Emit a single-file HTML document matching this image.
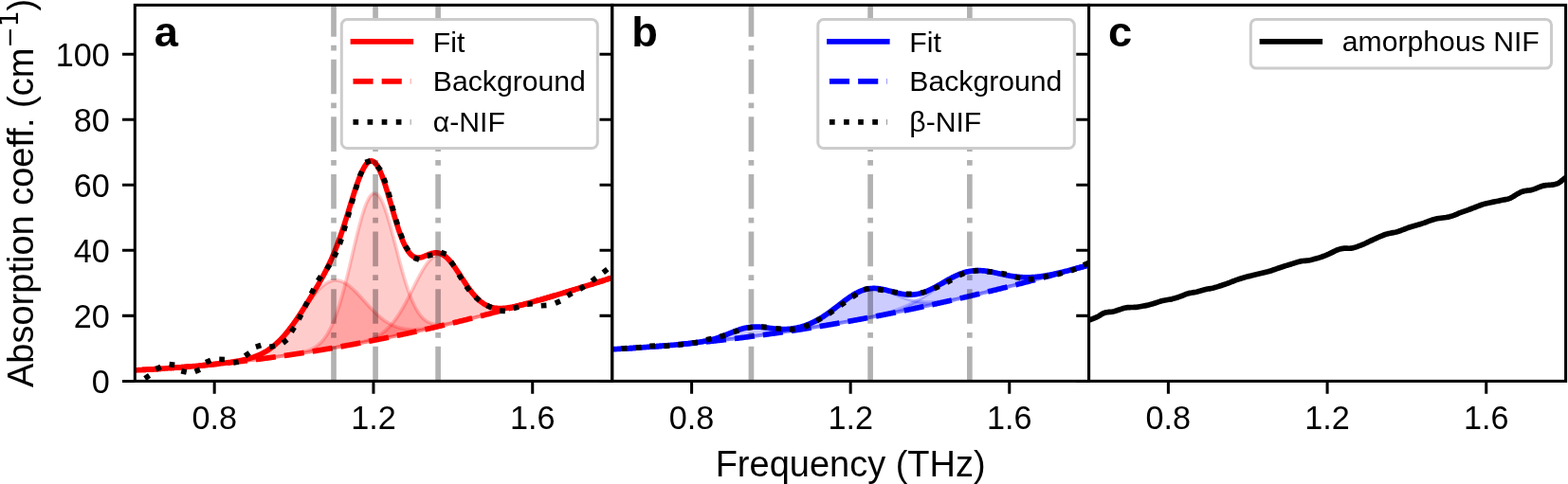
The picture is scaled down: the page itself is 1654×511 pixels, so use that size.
<!DOCTYPE html>
<html><head><meta charset="utf-8"><style>html,body{margin:0;padding:0;background:#fff;overflow:hidden}svg{display:block}</style></head><body>
<svg width="1654" height="511" viewBox="0 0 1654 511">
<rect x="0" y="0" width="1654" height="511" fill="#ffffff"/>
<defs>
<clipPath id="c0"><rect x="142.30" y="5.36" width="503.30" height="397.04"/></clipPath>
<clipPath id="c1"><rect x="645.80" y="5.36" width="502.75" height="397.04"/></clipPath>
<clipPath id="c2"><rect x="1148.55" y="5.36" width="503.05" height="397.04"/></clipPath>
</defs>
<g clip-path="url(#c0)">
<path d="M142.30 390.89 L143.14 390.84 L143.98 390.80 L144.82 390.76 L145.66 390.72 L146.49 390.67 L147.33 390.63 L148.17 390.59 L149.01 390.54 L149.85 390.50 L150.69 390.45 L151.53 390.40 L152.37 390.36 L153.20 390.31 L154.04 390.26 L154.88 390.22 L155.72 390.17 L156.56 390.12 L157.40 390.07 L158.24 390.02 L159.08 389.97 L159.92 389.92 L160.75 389.87 L161.59 389.82 L162.43 389.77 L163.27 389.71 L164.11 389.66 L164.95 389.61 L165.79 389.55 L166.63 389.50 L167.47 389.45 L168.30 389.39 L169.14 389.34 L169.98 389.28 L170.82 389.22 L171.66 389.17 L172.50 389.11 L173.34 389.05 L174.18 389.00 L175.01 388.94 L175.85 388.88 L176.69 388.82 L177.53 388.76 L178.37 388.70 L179.21 388.64 L180.05 388.58 L180.89 388.52 L181.73 388.46 L182.56 388.39 L183.40 388.33 L184.24 388.27 L185.08 388.20 L185.92 388.14 L186.76 388.08 L187.60 388.01 L188.44 387.95 L189.27 387.88 L190.11 387.81 L190.95 387.75 L191.79 387.68 L192.63 387.61 L193.47 387.55 L194.31 387.48 L195.15 387.41 L195.99 387.34 L196.82 387.27 L197.66 387.20 L198.50 387.13 L199.34 387.06 L200.18 386.99 L201.02 386.91 L201.86 386.84 L202.70 386.77 L203.53 386.70 L204.37 386.62 L205.21 386.55 L206.05 386.47 L206.89 386.40 L207.73 386.32 L208.57 386.25 L209.41 386.17 L210.25 386.09 L211.08 386.01 L211.92 385.94 L212.76 385.86 L213.60 385.78 L214.44 385.70 L215.28 385.62 L216.12 385.54 L216.96 385.45 L217.80 385.37 L218.63 385.29 L219.47 385.21 L220.31 385.12 L221.15 385.04 L221.99 384.95 L222.83 384.86 L223.67 384.78 L224.51 384.69 L225.34 384.60 L226.18 384.51 L227.02 384.42 L227.86 384.33 L228.70 384.24 L229.54 384.14 L230.38 384.05 L231.22 383.95 L232.06 383.86 L232.89 383.76 L233.73 383.66 L234.57 383.56 L235.41 383.45 L236.25 383.35 L237.09 383.24 L237.93 383.14 L238.77 383.03 L239.60 382.92 L240.44 382.80 L241.28 382.69 L242.12 382.57 L242.96 382.45 L243.80 382.33 L244.64 382.21 L245.48 382.08 L246.32 381.95 L247.15 381.81 L247.99 381.68 L248.83 381.54 L249.67 381.39 L250.51 381.24 L251.35 381.09 L252.19 380.93 L253.03 380.77 L253.86 380.61 L254.70 380.44 L255.54 380.26 L256.38 380.08 L257.22 379.89 L258.06 379.70 L258.90 379.50 L259.74 379.29 L260.58 379.08 L261.41 378.86 L262.25 378.63 L263.09 378.39 L263.93 378.15 L264.77 377.89 L265.61 377.63 L266.45 377.36 L267.29 377.07 L268.13 376.78 L268.96 376.48 L269.80 376.16 L270.64 375.84 L271.48 375.50 L272.32 375.15 L273.16 374.79 L274.00 374.41 L274.84 374.02 L275.67 373.61 L276.51 373.19 L277.35 372.76 L278.19 372.31 L279.03 371.85 L279.87 371.36 L280.71 370.87 L281.55 370.35 L282.39 369.82 L283.22 369.27 L284.06 368.70 L284.90 368.11 L285.74 367.51 L286.58 366.88 L287.42 366.24 L288.26 365.57 L289.10 364.89 L289.93 364.19 L290.77 363.46 L291.61 362.72 L292.45 361.95 L293.29 361.16 L294.13 360.36 L294.97 359.53 L295.81 358.68 L296.65 357.81 L297.48 356.92 L298.32 356.01 L299.16 355.08 L300.00 354.13 L300.84 353.16 L301.68 352.17 L302.52 351.16 L303.36 350.14 L304.19 349.09 L305.03 348.03 L305.87 346.95 L306.71 345.86 L307.55 344.75 L308.39 343.62 L309.23 342.48 L310.07 341.33 L310.91 340.17 L311.74 338.99 L312.58 337.81 L313.42 336.61 L314.26 335.41 L315.10 334.20 L315.94 332.99 L316.78 331.77 L317.62 330.55 L318.46 329.33 L319.29 328.11 L320.13 326.89 L320.97 325.67 L321.81 324.45 L322.65 323.25 L323.49 322.05 L324.33 320.86 L325.17 319.67 L326.00 318.51 L326.84 317.35 L327.68 316.21 L328.52 315.09 L329.36 313.98 L330.20 312.90 L331.04 311.83 L331.88 310.79 L332.72 309.78 L333.55 308.79 L334.39 307.83 L335.23 306.90 L336.07 305.99 L336.91 305.12 L337.75 304.29 L338.59 303.48 L339.43 302.72 L340.26 301.99 L341.10 301.29 L341.94 300.64 L342.78 300.03 L343.62 299.45 L344.46 298.92 L345.30 298.43 L346.14 297.99 L346.98 297.58 L347.81 297.22 L348.65 296.91 L349.49 296.64 L350.33 296.41 L351.17 296.23 L352.01 296.10 L352.85 296.01 L353.69 295.97 L354.52 295.97 L355.36 296.01 L356.20 296.10 L357.04 296.23 L357.88 296.41 L358.72 296.63 L359.56 296.89 L360.40 297.19 L361.24 297.53 L362.07 297.92 L362.91 298.34 L363.75 298.79 L364.59 299.29 L365.43 299.81 L366.27 300.38 L367.11 300.97 L367.95 301.60 L368.79 302.25 L369.62 302.94 L370.46 303.65 L371.30 304.38 L372.14 305.14 L372.98 305.93 L373.82 306.73 L374.66 307.55 L375.50 308.39 L376.33 309.25 L377.17 310.12 L378.01 311.00 L378.85 311.90 L379.69 312.80 L380.53 313.72 L381.37 314.64 L382.21 315.56 L383.05 316.49 L383.88 317.42 L384.72 318.35 L385.56 319.28 L386.40 320.21 L387.24 321.13 L388.08 322.05 L388.92 322.96 L389.76 323.87 L390.59 324.77 L391.43 325.66 L392.27 326.54 L393.11 327.40 L393.95 328.26 L394.79 329.10 L395.63 329.92 L396.47 330.74 L397.31 331.53 L398.14 332.31 L398.98 333.07 L399.82 333.82 L400.66 334.54 L401.50 335.25 L402.34 335.94 L403.18 336.61 L404.02 337.26 L404.85 337.89 L405.69 338.50 L406.53 339.09 L407.37 339.65 L408.21 340.20 L409.05 340.73 L409.89 341.23 L410.73 341.72 L411.57 342.18 L412.40 342.63 L413.24 343.05 L414.08 343.45 L414.92 343.84 L415.76 344.20 L416.60 344.55 L417.44 344.87 L418.28 345.18 L419.12 345.46 L419.95 345.73 L420.79 345.98 L421.63 346.22 L422.47 346.43 L423.31 346.63 L424.15 346.82 L424.99 346.98 L425.83 347.13 L426.66 347.27 L427.50 347.39 L428.34 347.50 L429.18 347.59 L430.02 347.67 L430.86 347.74 L431.70 347.79 L432.54 347.84 L433.38 347.87 L434.21 347.89 L435.05 347.89 L435.89 347.89 L436.73 347.88 L437.57 347.86 L438.41 347.83 L439.25 347.79 L440.09 347.74 L440.92 347.68 L441.76 347.62 L442.60 347.54 L443.44 347.46 L444.28 347.38 L445.12 347.29 L445.96 347.19 L446.80 347.08 L447.64 346.97 L448.47 346.86 L449.31 346.73 L450.15 346.61 L450.99 346.48 L451.83 346.34 L452.67 346.20 L453.51 346.06 L454.35 345.92 L455.18 345.77 L456.02 345.61 L456.86 345.46 L457.70 345.30 L458.54 345.13 L459.38 344.97 L460.22 344.80 L461.06 344.63 L461.90 344.46 L462.73 344.29 L463.57 344.11 L464.41 343.93 L465.25 343.75 L466.09 343.57 L466.93 343.39 L467.77 343.20 L468.61 343.01 L469.45 342.83 L470.28 342.64 L471.12 342.45 L471.96 342.26 L472.80 342.06 L473.64 341.87 L474.48 341.67 L475.32 341.48 L476.16 341.28 L476.99 341.09 L477.83 340.89 L478.67 340.69 L479.51 340.49 L480.35 340.29 L481.19 340.09 L482.03 339.89 L482.87 339.68 L483.71 339.48 L484.54 339.28 L485.38 339.07 L486.22 338.87 L487.06 338.66 L487.90 338.46 L488.74 338.25 L489.58 338.04 L490.42 337.83 L491.25 337.63 L492.09 337.42 L492.93 337.21 L493.77 337.00 L494.61 336.79 L495.45 336.58 L496.29 336.37 L497.13 336.16 L497.97 335.95 L498.80 335.74 L499.64 335.52 L500.48 335.31 L501.32 335.10 L502.16 334.89 L503.00 334.67 L503.84 334.46 L504.68 334.24 L505.51 334.03 L506.35 333.81 L507.19 333.60 L508.03 333.38 L508.87 333.16 L509.71 332.95 L510.55 332.73 L511.39 332.51 L512.23 332.29 L513.06 332.08 L513.90 331.86 L514.74 331.64 L515.58 331.42 L516.42 331.20 L517.26 330.98 L518.10 330.76 L518.94 330.54 L519.78 330.32 L520.61 330.10 L521.45 329.87 L522.29 329.65 L523.13 329.43 L523.97 329.21 L524.81 328.98 L525.65 328.76 L526.49 328.54 L527.32 328.31 L528.16 328.09 L529.00 327.86 L529.84 327.64 L530.68 327.41 L531.52 327.18 L532.36 326.96 L533.20 326.73 L534.04 326.50 L534.87 326.28 L535.71 326.05 L536.55 325.82 L537.39 325.59 L538.23 325.36 L539.07 325.13 L539.91 324.90 L540.75 324.67 L541.58 324.44 L542.42 324.21 L543.26 323.98 L544.10 323.75 L544.94 323.52 L545.78 323.28 L546.62 323.05 L547.46 322.82 L548.30 322.59 L549.13 322.35 L549.97 322.12 L550.81 321.88 L551.65 321.65 L552.49 321.41 L553.33 321.18 L554.17 320.94 L555.01 320.71 L555.84 320.47 L556.68 320.23 L557.52 320.00 L558.36 319.76 L559.20 319.52 L560.04 319.28 L560.88 319.05 L561.72 318.81 L562.56 318.57 L563.39 318.33 L564.23 318.09 L565.07 317.85 L565.91 317.61 L566.75 317.37 L567.59 317.13 L568.43 316.88 L569.27 316.64 L570.11 316.40 L570.94 316.16 L571.78 315.91 L572.62 315.67 L573.46 315.43 L574.30 315.18 L575.14 314.94 L575.98 314.69 L576.82 314.45 L577.65 314.20 L578.49 313.96 L579.33 313.71 L580.17 313.47 L581.01 313.22 L581.85 312.97 L582.69 312.72 L583.53 312.48 L584.37 312.23 L585.20 311.98 L586.04 311.73 L586.88 311.48 L587.72 311.23 L588.56 310.98 L589.40 310.73 L590.24 310.48 L591.08 310.23 L591.91 309.98 L592.75 309.73 L593.59 309.48 L594.43 309.22 L595.27 308.97 L596.11 308.72 L596.95 308.47 L597.79 308.21 L598.63 307.96 L599.46 307.70 L600.30 307.45 L601.14 307.19 L601.98 306.94 L602.82 306.68 L603.66 306.43 L604.50 306.17 L605.34 305.92 L606.17 305.66 L607.01 305.40 L607.85 305.14 L608.69 304.89 L609.53 304.63 L610.37 304.37 L611.21 304.11 L612.05 303.85 L612.89 303.59 L613.72 303.33 L614.56 303.07 L615.40 302.81 L616.24 302.55 L617.08 302.29 L617.92 302.03 L618.76 301.76 L619.60 301.50 L620.44 301.24 L621.27 300.98 L622.11 300.71 L622.95 300.45 L623.79 300.18 L624.63 299.92 L625.47 299.66 L626.31 299.39 L627.15 299.13 L627.98 298.86 L628.82 298.59 L629.66 298.33 L630.50 298.06 L631.34 297.79 L632.18 297.53 L633.02 297.26 L633.86 296.99 L634.70 296.72 L635.53 296.45 L636.37 296.19 L637.21 295.92 L638.05 295.65 L638.89 295.38 L639.73 295.11 L640.57 294.84 L641.41 294.56 L642.24 294.29 L643.08 294.02 L643.92 293.75 L644.76 293.48 L645.60 293.21 L645.60 293.21 L644.76 293.48 L643.92 293.75 L643.08 294.02 L642.24 294.29 L641.41 294.56 L640.57 294.84 L639.73 295.11 L638.89 295.38 L638.05 295.65 L637.21 295.92 L636.37 296.19 L635.53 296.45 L634.70 296.72 L633.86 296.99 L633.02 297.26 L632.18 297.53 L631.34 297.79 L630.50 298.06 L629.66 298.33 L628.82 298.59 L627.98 298.86 L627.15 299.13 L626.31 299.39 L625.47 299.66 L624.63 299.92 L623.79 300.18 L622.95 300.45 L622.11 300.71 L621.27 300.98 L620.44 301.24 L619.60 301.50 L618.76 301.76 L617.92 302.03 L617.08 302.29 L616.24 302.55 L615.40 302.81 L614.56 303.07 L613.72 303.33 L612.89 303.59 L612.05 303.85 L611.21 304.11 L610.37 304.37 L609.53 304.63 L608.69 304.89 L607.85 305.14 L607.01 305.40 L606.17 305.66 L605.34 305.92 L604.50 306.17 L603.66 306.43 L602.82 306.68 L601.98 306.94 L601.14 307.19 L600.30 307.45 L599.46 307.70 L598.63 307.96 L597.79 308.21 L596.95 308.47 L596.11 308.72 L595.27 308.97 L594.43 309.22 L593.59 309.48 L592.75 309.73 L591.91 309.98 L591.08 310.23 L590.24 310.48 L589.40 310.73 L588.56 310.98 L587.72 311.23 L586.88 311.48 L586.04 311.73 L585.20 311.98 L584.37 312.23 L583.53 312.48 L582.69 312.72 L581.85 312.97 L581.01 313.22 L580.17 313.47 L579.33 313.71 L578.49 313.96 L577.65 314.20 L576.82 314.45 L575.98 314.69 L575.14 314.94 L574.30 315.18 L573.46 315.43 L572.62 315.67 L571.78 315.91 L570.94 316.16 L570.11 316.40 L569.27 316.64 L568.43 316.88 L567.59 317.13 L566.75 317.37 L565.91 317.61 L565.07 317.85 L564.23 318.09 L563.39 318.33 L562.56 318.57 L561.72 318.81 L560.88 319.05 L560.04 319.28 L559.20 319.52 L558.36 319.76 L557.52 320.00 L556.68 320.23 L555.84 320.47 L555.01 320.71 L554.17 320.94 L553.33 321.18 L552.49 321.41 L551.65 321.65 L550.81 321.88 L549.97 322.12 L549.13 322.35 L548.30 322.59 L547.46 322.82 L546.62 323.05 L545.78 323.28 L544.94 323.52 L544.10 323.75 L543.26 323.98 L542.42 324.21 L541.58 324.44 L540.75 324.67 L539.91 324.90 L539.07 325.13 L538.23 325.36 L537.39 325.59 L536.55 325.82 L535.71 326.05 L534.87 326.28 L534.04 326.50 L533.20 326.73 L532.36 326.96 L531.52 327.18 L530.68 327.41 L529.84 327.64 L529.00 327.86 L528.16 328.09 L527.32 328.31 L526.49 328.54 L525.65 328.76 L524.81 328.98 L523.97 329.21 L523.13 329.43 L522.29 329.65 L521.45 329.87 L520.61 330.10 L519.78 330.32 L518.94 330.54 L518.10 330.76 L517.26 330.98 L516.42 331.20 L515.58 331.42 L514.74 331.64 L513.90 331.86 L513.06 332.08 L512.23 332.30 L511.39 332.51 L510.55 332.73 L509.71 332.95 L508.87 333.17 L508.03 333.38 L507.19 333.60 L506.35 333.81 L505.51 334.03 L504.68 334.24 L503.84 334.46 L503.00 334.67 L502.16 334.89 L501.32 335.10 L500.48 335.31 L499.64 335.53 L498.80 335.74 L497.97 335.95 L497.13 336.16 L496.29 336.38 L495.45 336.59 L494.61 336.80 L493.77 337.01 L492.93 337.22 L492.09 337.43 L491.25 337.64 L490.42 337.85 L489.58 338.05 L488.74 338.26 L487.90 338.47 L487.06 338.68 L486.22 338.88 L485.38 339.09 L484.54 339.30 L483.71 339.50 L482.87 339.71 L482.03 339.91 L481.19 340.12 L480.35 340.32 L479.51 340.53 L478.67 340.73 L477.83 340.94 L476.99 341.14 L476.16 341.34 L475.32 341.54 L474.48 341.75 L473.64 341.95 L472.80 342.15 L471.96 342.35 L471.12 342.55 L470.28 342.75 L469.45 342.95 L468.61 343.15 L467.77 343.35 L466.93 343.55 L466.09 343.75 L465.25 343.94 L464.41 344.14 L463.57 344.34 L462.73 344.54 L461.90 344.73 L461.06 344.93 L460.22 345.12 L459.38 345.32 L458.54 345.51 L457.70 345.71 L456.86 345.90 L456.02 346.10 L455.18 346.29 L454.35 346.48 L453.51 346.68 L452.67 346.87 L451.83 347.06 L450.99 347.25 L450.15 347.44 L449.31 347.63 L448.47 347.83 L447.64 348.02 L446.80 348.21 L445.96 348.39 L445.12 348.58 L444.28 348.77 L443.44 348.96 L442.60 349.15 L441.76 349.34 L440.92 349.52 L440.09 349.71 L439.25 349.90 L438.41 350.08 L437.57 350.27 L436.73 350.45 L435.89 350.64 L435.05 350.82 L434.21 351.01 L433.38 351.19 L432.54 351.37 L431.70 351.56 L430.86 351.74 L430.02 351.92 L429.18 352.10 L428.34 352.29 L427.50 352.47 L426.66 352.65 L425.83 352.83 L424.99 353.01 L424.15 353.19 L423.31 353.37 L422.47 353.55 L421.63 353.72 L420.79 353.90 L419.95 354.08 L419.12 354.26 L418.28 354.43 L417.44 354.61 L416.60 354.79 L415.76 354.96 L414.92 355.14 L414.08 355.31 L413.24 355.49 L412.40 355.66 L411.57 355.84 L410.73 356.01 L409.89 356.18 L409.05 356.36 L408.21 356.53 L407.37 356.70 L406.53 356.87 L405.69 357.04 L404.85 357.21 L404.02 357.38 L403.18 357.55 L402.34 357.72 L401.50 357.89 L400.66 358.06 L399.82 358.23 L398.98 358.40 L398.14 358.57 L397.31 358.73 L396.47 358.90 L395.63 359.07 L394.79 359.23 L393.95 359.40 L393.11 359.57 L392.27 359.73 L391.43 359.90 L390.59 360.06 L389.76 360.22 L388.92 360.39 L388.08 360.55 L387.24 360.71 L386.40 360.88 L385.56 361.04 L384.72 361.20 L383.88 361.36 L383.05 361.52 L382.21 361.68 L381.37 361.84 L380.53 362.00 L379.69 362.16 L378.85 362.32 L378.01 362.48 L377.17 362.64 L376.33 362.79 L375.50 362.95 L374.66 363.11 L373.82 363.26 L372.98 363.42 L372.14 363.58 L371.30 363.73 L370.46 363.89 L369.62 364.04 L368.79 364.20 L367.95 364.35 L367.11 364.50 L366.27 364.66 L365.43 364.81 L364.59 364.96 L363.75 365.11 L362.91 365.26 L362.07 365.42 L361.24 365.57 L360.40 365.72 L359.56 365.87 L358.72 366.02 L357.88 366.17 L357.04 366.31 L356.20 366.46 L355.36 366.61 L354.52 366.76 L353.69 366.90 L352.85 367.05 L352.01 367.20 L351.17 367.34 L350.33 367.49 L349.49 367.63 L348.65 367.78 L347.81 367.92 L346.98 368.07 L346.14 368.21 L345.30 368.35 L344.46 368.50 L343.62 368.64 L342.78 368.78 L341.94 368.92 L341.10 369.06 L340.26 369.21 L339.43 369.35 L338.59 369.49 L337.75 369.63 L336.91 369.76 L336.07 369.90 L335.23 370.04 L334.39 370.18 L333.55 370.32 L332.72 370.45 L331.88 370.59 L331.04 370.73 L330.20 370.86 L329.36 371.00 L328.52 371.13 L327.68 371.27 L326.84 371.40 L326.00 371.54 L325.17 371.67 L324.33 371.80 L323.49 371.94 L322.65 372.07 L321.81 372.20 L320.97 372.33 L320.13 372.46 L319.29 372.60 L318.46 372.73 L317.62 372.86 L316.78 372.99 L315.94 373.11 L315.10 373.24 L314.26 373.37 L313.42 373.50 L312.58 373.63 L311.74 373.75 L310.91 373.88 L310.07 374.01 L309.23 374.13 L308.39 374.26 L307.55 374.38 L306.71 374.51 L305.87 374.63 L305.03 374.76 L304.19 374.88 L303.36 375.00 L302.52 375.13 L301.68 375.25 L300.84 375.37 L300.00 375.49 L299.16 375.61 L298.32 375.73 L297.48 375.85 L296.65 375.97 L295.81 376.09 L294.97 376.21 L294.13 376.33 L293.29 376.45 L292.45 376.57 L291.61 376.68 L290.77 376.80 L289.93 376.92 L289.10 377.03 L288.26 377.15 L287.42 377.27 L286.58 377.38 L285.74 377.50 L284.90 377.61 L284.06 377.72 L283.22 377.84 L282.39 377.95 L281.55 378.06 L280.71 378.17 L279.87 378.29 L279.03 378.40 L278.19 378.51 L277.35 378.62 L276.51 378.73 L275.67 378.84 L274.84 378.95 L274.00 379.06 L273.16 379.16 L272.32 379.27 L271.48 379.38 L270.64 379.49 L269.80 379.59 L268.96 379.70 L268.13 379.81 L267.29 379.91 L266.45 380.02 L265.61 380.12 L264.77 380.22 L263.93 380.33 L263.09 380.43 L262.25 380.53 L261.41 380.64 L260.58 380.74 L259.74 380.84 L258.90 380.94 L258.06 381.04 L257.22 381.14 L256.38 381.24 L255.54 381.34 L254.70 381.44 L253.86 381.54 L253.03 381.64 L252.19 381.74 L251.35 381.84 L250.51 381.93 L249.67 382.03 L248.83 382.13 L247.99 382.22 L247.15 382.32 L246.32 382.41 L245.48 382.51 L244.64 382.60 L243.80 382.69 L242.96 382.79 L242.12 382.88 L241.28 382.97 L240.44 383.07 L239.60 383.16 L238.77 383.25 L237.93 383.34 L237.09 383.43 L236.25 383.52 L235.41 383.61 L234.57 383.70 L233.73 383.79 L232.89 383.88 L232.06 383.96 L231.22 384.05 L230.38 384.14 L229.54 384.22 L228.70 384.31 L227.86 384.40 L227.02 384.48 L226.18 384.57 L225.34 384.65 L224.51 384.74 L223.67 384.82 L222.83 384.90 L221.99 384.99 L221.15 385.07 L220.31 385.15 L219.47 385.23 L218.63 385.31 L217.80 385.39 L216.96 385.47 L216.12 385.55 L215.28 385.63 L214.44 385.71 L213.60 385.79 L212.76 385.87 L211.92 385.95 L211.08 386.02 L210.25 386.10 L209.41 386.18 L208.57 386.25 L207.73 386.33 L206.89 386.40 L206.05 386.48 L205.21 386.55 L204.37 386.63 L203.53 386.70 L202.70 386.77 L201.86 386.84 L201.02 386.92 L200.18 386.99 L199.34 387.06 L198.50 387.13 L197.66 387.20 L196.82 387.27 L195.99 387.34 L195.15 387.41 L194.31 387.48 L193.47 387.55 L192.63 387.61 L191.79 387.68 L190.95 387.75 L190.11 387.81 L189.27 387.88 L188.44 387.95 L187.60 388.01 L186.76 388.08 L185.92 388.14 L185.08 388.20 L184.24 388.27 L183.40 388.33 L182.56 388.39 L181.73 388.46 L180.89 388.52 L180.05 388.58 L179.21 388.64 L178.37 388.70 L177.53 388.76 L176.69 388.82 L175.85 388.88 L175.01 388.94 L174.18 389.00 L173.34 389.05 L172.50 389.11 L171.66 389.17 L170.82 389.22 L169.98 389.28 L169.14 389.34 L168.30 389.39 L167.47 389.45 L166.63 389.50 L165.79 389.55 L164.95 389.61 L164.11 389.66 L163.27 389.71 L162.43 389.77 L161.59 389.82 L160.75 389.87 L159.92 389.92 L159.08 389.97 L158.24 390.02 L157.40 390.07 L156.56 390.12 L155.72 390.17 L154.88 390.22 L154.04 390.26 L153.20 390.31 L152.37 390.36 L151.53 390.40 L150.69 390.45 L149.85 390.50 L149.01 390.54 L148.17 390.59 L147.33 390.63 L146.49 390.67 L145.66 390.72 L144.82 390.76 L143.98 390.80 L143.14 390.84 L142.30 390.89 Z" fill="#ff0000" fill-opacity="0.2" stroke="#ff0000" stroke-opacity="0.2" stroke-width="3.8" stroke-linejoin="round"/>
<path d="M142.30 390.89 L143.14 390.84 L143.98 390.80 L144.82 390.76 L145.66 390.72 L146.49 390.67 L147.33 390.63 L148.17 390.59 L149.01 390.54 L149.85 390.50 L150.69 390.45 L151.53 390.40 L152.37 390.36 L153.20 390.31 L154.04 390.26 L154.88 390.22 L155.72 390.17 L156.56 390.12 L157.40 390.07 L158.24 390.02 L159.08 389.97 L159.92 389.92 L160.75 389.87 L161.59 389.82 L162.43 389.77 L163.27 389.71 L164.11 389.66 L164.95 389.61 L165.79 389.55 L166.63 389.50 L167.47 389.45 L168.30 389.39 L169.14 389.34 L169.98 389.28 L170.82 389.22 L171.66 389.17 L172.50 389.11 L173.34 389.05 L174.18 389.00 L175.01 388.94 L175.85 388.88 L176.69 388.82 L177.53 388.76 L178.37 388.70 L179.21 388.64 L180.05 388.58 L180.89 388.52 L181.73 388.46 L182.56 388.39 L183.40 388.33 L184.24 388.27 L185.08 388.20 L185.92 388.14 L186.76 388.08 L187.60 388.01 L188.44 387.95 L189.27 387.88 L190.11 387.81 L190.95 387.75 L191.79 387.68 L192.63 387.61 L193.47 387.55 L194.31 387.48 L195.15 387.41 L195.99 387.34 L196.82 387.27 L197.66 387.20 L198.50 387.13 L199.34 387.06 L200.18 386.99 L201.02 386.92 L201.86 386.84 L202.70 386.77 L203.53 386.70 L204.37 386.63 L205.21 386.55 L206.05 386.48 L206.89 386.40 L207.73 386.33 L208.57 386.25 L209.41 386.18 L210.25 386.10 L211.08 386.02 L211.92 385.95 L212.76 385.87 L213.60 385.79 L214.44 385.71 L215.28 385.63 L216.12 385.55 L216.96 385.47 L217.80 385.39 L218.63 385.31 L219.47 385.23 L220.31 385.15 L221.15 385.07 L221.99 384.99 L222.83 384.90 L223.67 384.82 L224.51 384.74 L225.34 384.65 L226.18 384.57 L227.02 384.48 L227.86 384.40 L228.70 384.31 L229.54 384.22 L230.38 384.14 L231.22 384.05 L232.06 383.96 L232.89 383.88 L233.73 383.79 L234.57 383.70 L235.41 383.61 L236.25 383.52 L237.09 383.43 L237.93 383.34 L238.77 383.25 L239.60 383.16 L240.44 383.07 L241.28 382.97 L242.12 382.88 L242.96 382.79 L243.80 382.69 L244.64 382.60 L245.48 382.51 L246.32 382.41 L247.15 382.32 L247.99 382.22 L248.83 382.13 L249.67 382.03 L250.51 381.93 L251.35 381.84 L252.19 381.74 L253.03 381.64 L253.86 381.54 L254.70 381.44 L255.54 381.34 L256.38 381.24 L257.22 381.14 L258.06 381.04 L258.90 380.94 L259.74 380.84 L260.58 380.74 L261.41 380.64 L262.25 380.53 L263.09 380.43 L263.93 380.33 L264.77 380.22 L265.61 380.12 L266.45 380.02 L267.29 379.91 L268.13 379.81 L268.96 379.70 L269.80 379.59 L270.64 379.49 L271.48 379.38 L272.32 379.27 L273.16 379.16 L274.00 379.06 L274.84 378.95 L275.67 378.84 L276.51 378.73 L277.35 378.62 L278.19 378.51 L279.03 378.40 L279.87 378.28 L280.71 378.17 L281.55 378.06 L282.39 377.95 L283.22 377.84 L284.06 377.72 L284.90 377.61 L285.74 377.49 L286.58 377.38 L287.42 377.26 L288.26 377.15 L289.10 377.03 L289.93 376.91 L290.77 376.80 L291.61 376.68 L292.45 376.56 L293.29 376.44 L294.13 376.32 L294.97 376.20 L295.81 376.08 L296.65 375.96 L297.48 375.83 L298.32 375.71 L299.16 375.59 L300.00 375.46 L300.84 375.33 L301.68 375.20 L302.52 375.08 L303.36 374.94 L304.19 374.81 L305.03 374.68 L305.87 374.54 L306.71 374.40 L307.55 374.26 L308.39 374.12 L309.23 373.98 L310.07 373.83 L310.91 373.67 L311.74 373.52 L312.58 373.36 L313.42 373.19 L314.26 373.02 L315.10 372.85 L315.94 372.67 L316.78 372.48 L317.62 372.28 L318.46 372.08 L319.29 371.86 L320.13 371.64 L320.97 371.41 L321.81 371.16 L322.65 370.90 L323.49 370.63 L324.33 370.34 L325.17 370.04 L326.00 369.71 L326.84 369.37 L327.68 369.01 L328.52 368.62 L329.36 368.21 L330.20 367.77 L331.04 367.30 L331.88 366.81 L332.72 366.28 L333.55 365.71 L334.39 365.11 L335.23 364.47 L336.07 363.78 L336.91 363.05 L337.75 362.28 L338.59 361.45 L339.43 360.57 L340.26 359.63 L341.10 358.63 L341.94 357.58 L342.78 356.46 L343.62 355.27 L344.46 354.01 L345.30 352.68 L346.14 351.27 L346.98 349.78 L347.81 348.22 L348.65 346.57 L349.49 344.84 L350.33 343.02 L351.17 341.12 L352.01 339.12 L352.85 337.03 L353.69 334.85 L354.52 332.58 L355.36 330.22 L356.20 327.76 L357.04 325.21 L357.88 322.57 L358.72 319.84 L359.56 317.02 L360.40 314.12 L361.24 311.13 L362.07 308.06 L362.91 304.92 L363.75 301.71 L364.59 298.42 L365.43 295.08 L366.27 291.68 L367.11 288.23 L367.95 284.74 L368.79 281.21 L369.62 277.65 L370.46 274.08 L371.30 270.49 L372.14 266.89 L372.98 263.31 L373.82 259.74 L374.66 256.20 L375.50 252.69 L376.33 249.23 L377.17 245.82 L378.01 242.49 L378.85 239.23 L379.69 236.05 L380.53 232.98 L381.37 230.01 L382.21 227.16 L383.05 224.44 L383.88 221.85 L384.72 219.42 L385.56 217.13 L386.40 215.01 L387.24 213.06 L388.08 211.28 L388.92 209.69 L389.76 208.28 L390.59 207.07 L391.43 206.06 L392.27 205.25 L393.11 204.64 L393.95 204.24 L394.79 204.04 L395.63 204.05 L396.47 204.27 L397.31 204.68 L398.14 205.31 L398.98 206.13 L399.82 207.14 L400.66 208.34 L401.50 209.73 L402.34 211.30 L403.18 213.04 L404.02 214.95 L404.85 217.01 L405.69 219.22 L406.53 221.57 L407.37 224.05 L408.21 226.65 L409.05 229.36 L409.89 232.17 L410.73 235.08 L411.57 238.06 L412.40 241.12 L413.24 244.23 L414.08 247.39 L414.92 250.59 L415.76 253.83 L416.60 257.07 L417.44 260.33 L418.28 263.59 L419.12 266.84 L419.95 270.07 L420.79 273.28 L421.63 276.45 L422.47 279.59 L423.31 282.67 L424.15 285.70 L424.99 288.67 L425.83 291.57 L426.66 294.41 L427.50 297.16 L428.34 299.84 L429.18 302.44 L430.02 304.95 L430.86 307.38 L431.70 309.71 L432.54 311.96 L433.38 314.11 L434.21 316.17 L435.05 318.14 L435.89 320.02 L436.73 321.80 L437.57 323.49 L438.41 325.10 L439.25 326.61 L440.09 328.04 L440.92 329.38 L441.76 330.64 L442.60 331.81 L443.44 332.91 L444.28 333.93 L445.12 334.88 L445.96 335.76 L446.80 336.57 L447.64 337.32 L448.47 338.00 L449.31 338.62 L450.15 339.19 L450.99 339.70 L451.83 340.16 L452.67 340.58 L453.51 340.94 L454.35 341.27 L455.18 341.55 L456.02 341.79 L456.86 342.00 L457.70 342.18 L458.54 342.32 L459.38 342.44 L460.22 342.53 L461.06 342.59 L461.90 342.63 L462.73 342.65 L463.57 342.65 L464.41 342.63 L465.25 342.59 L466.09 342.54 L466.93 342.47 L467.77 342.39 L468.61 342.30 L469.45 342.19 L470.28 342.08 L471.12 341.95 L471.96 341.82 L472.80 341.68 L473.64 341.54 L474.48 341.38 L475.32 341.22 L476.16 341.06 L476.99 340.89 L477.83 340.72 L478.67 340.54 L479.51 340.36 L480.35 340.18 L481.19 339.99 L482.03 339.81 L482.87 339.61 L483.71 339.42 L484.54 339.23 L485.38 339.03 L486.22 338.83 L487.06 338.63 L487.90 338.43 L488.74 338.23 L489.58 338.02 L490.42 337.82 L491.25 337.61 L492.09 337.41 L492.93 337.20 L493.77 336.99 L494.61 336.79 L495.45 336.58 L496.29 336.37 L497.13 336.16 L497.97 335.95 L498.80 335.73 L499.64 335.52 L500.48 335.31 L501.32 335.10 L502.16 334.88 L503.00 334.67 L503.84 334.46 L504.68 334.24 L505.51 334.03 L506.35 333.81 L507.19 333.60 L508.03 333.38 L508.87 333.16 L509.71 332.95 L510.55 332.73 L511.39 332.51 L512.23 332.30 L513.06 332.08 L513.90 331.86 L514.74 331.64 L515.58 331.42 L516.42 331.20 L517.26 330.98 L518.10 330.76 L518.94 330.54 L519.78 330.32 L520.61 330.10 L521.45 329.87 L522.29 329.65 L523.13 329.43 L523.97 329.21 L524.81 328.98 L525.65 328.76 L526.49 328.54 L527.32 328.31 L528.16 328.09 L529.00 327.86 L529.84 327.64 L530.68 327.41 L531.52 327.18 L532.36 326.96 L533.20 326.73 L534.04 326.50 L534.87 326.28 L535.71 326.05 L536.55 325.82 L537.39 325.59 L538.23 325.36 L539.07 325.13 L539.91 324.90 L540.75 324.67 L541.58 324.44 L542.42 324.21 L543.26 323.98 L544.10 323.75 L544.94 323.52 L545.78 323.28 L546.62 323.05 L547.46 322.82 L548.30 322.59 L549.13 322.35 L549.97 322.12 L550.81 321.88 L551.65 321.65 L552.49 321.41 L553.33 321.18 L554.17 320.94 L555.01 320.71 L555.84 320.47 L556.68 320.23 L557.52 320.00 L558.36 319.76 L559.20 319.52 L560.04 319.28 L560.88 319.05 L561.72 318.81 L562.56 318.57 L563.39 318.33 L564.23 318.09 L565.07 317.85 L565.91 317.61 L566.75 317.37 L567.59 317.13 L568.43 316.88 L569.27 316.64 L570.11 316.40 L570.94 316.16 L571.78 315.91 L572.62 315.67 L573.46 315.43 L574.30 315.18 L575.14 314.94 L575.98 314.69 L576.82 314.45 L577.65 314.20 L578.49 313.96 L579.33 313.71 L580.17 313.47 L581.01 313.22 L581.85 312.97 L582.69 312.72 L583.53 312.48 L584.37 312.23 L585.20 311.98 L586.04 311.73 L586.88 311.48 L587.72 311.23 L588.56 310.98 L589.40 310.73 L590.24 310.48 L591.08 310.23 L591.91 309.98 L592.75 309.73 L593.59 309.48 L594.43 309.22 L595.27 308.97 L596.11 308.72 L596.95 308.47 L597.79 308.21 L598.63 307.96 L599.46 307.70 L600.30 307.45 L601.14 307.19 L601.98 306.94 L602.82 306.68 L603.66 306.43 L604.50 306.17 L605.34 305.92 L606.17 305.66 L607.01 305.40 L607.85 305.14 L608.69 304.89 L609.53 304.63 L610.37 304.37 L611.21 304.11 L612.05 303.85 L612.89 303.59 L613.72 303.33 L614.56 303.07 L615.40 302.81 L616.24 302.55 L617.08 302.29 L617.92 302.03 L618.76 301.76 L619.60 301.50 L620.44 301.24 L621.27 300.98 L622.11 300.71 L622.95 300.45 L623.79 300.18 L624.63 299.92 L625.47 299.66 L626.31 299.39 L627.15 299.13 L627.98 298.86 L628.82 298.59 L629.66 298.33 L630.50 298.06 L631.34 297.79 L632.18 297.53 L633.02 297.26 L633.86 296.99 L634.70 296.72 L635.53 296.45 L636.37 296.19 L637.21 295.92 L638.05 295.65 L638.89 295.38 L639.73 295.11 L640.57 294.84 L641.41 294.56 L642.24 294.29 L643.08 294.02 L643.92 293.75 L644.76 293.48 L645.60 293.21 L645.60 293.21 L644.76 293.48 L643.92 293.75 L643.08 294.02 L642.24 294.29 L641.41 294.56 L640.57 294.84 L639.73 295.11 L638.89 295.38 L638.05 295.65 L637.21 295.92 L636.37 296.19 L635.53 296.45 L634.70 296.72 L633.86 296.99 L633.02 297.26 L632.18 297.53 L631.34 297.79 L630.50 298.06 L629.66 298.33 L628.82 298.59 L627.98 298.86 L627.15 299.13 L626.31 299.39 L625.47 299.66 L624.63 299.92 L623.79 300.18 L622.95 300.45 L622.11 300.71 L621.27 300.98 L620.44 301.24 L619.60 301.50 L618.76 301.76 L617.92 302.03 L617.08 302.29 L616.24 302.55 L615.40 302.81 L614.56 303.07 L613.72 303.33 L612.89 303.59 L612.05 303.85 L611.21 304.11 L610.37 304.37 L609.53 304.63 L608.69 304.89 L607.85 305.14 L607.01 305.40 L606.17 305.66 L605.34 305.92 L604.50 306.17 L603.66 306.43 L602.82 306.68 L601.98 306.94 L601.14 307.19 L600.30 307.45 L599.46 307.70 L598.63 307.96 L597.79 308.21 L596.95 308.47 L596.11 308.72 L595.27 308.97 L594.43 309.22 L593.59 309.48 L592.75 309.73 L591.91 309.98 L591.08 310.23 L590.24 310.48 L589.40 310.73 L588.56 310.98 L587.72 311.23 L586.88 311.48 L586.04 311.73 L585.20 311.98 L584.37 312.23 L583.53 312.48 L582.69 312.72 L581.85 312.97 L581.01 313.22 L580.17 313.47 L579.33 313.71 L578.49 313.96 L577.65 314.20 L576.82 314.45 L575.98 314.69 L575.14 314.94 L574.30 315.18 L573.46 315.43 L572.62 315.67 L571.78 315.91 L570.94 316.16 L570.11 316.40 L569.27 316.64 L568.43 316.88 L567.59 317.13 L566.75 317.37 L565.91 317.61 L565.07 317.85 L564.23 318.09 L563.39 318.33 L562.56 318.57 L561.72 318.81 L560.88 319.05 L560.04 319.28 L559.20 319.52 L558.36 319.76 L557.52 320.00 L556.68 320.23 L555.84 320.47 L555.01 320.71 L554.17 320.94 L553.33 321.18 L552.49 321.41 L551.65 321.65 L550.81 321.88 L549.97 322.12 L549.13 322.35 L548.30 322.59 L547.46 322.82 L546.62 323.05 L545.78 323.28 L544.94 323.52 L544.10 323.75 L543.26 323.98 L542.42 324.21 L541.58 324.44 L540.75 324.67 L539.91 324.90 L539.07 325.13 L538.23 325.36 L537.39 325.59 L536.55 325.82 L535.71 326.05 L534.87 326.28 L534.04 326.50 L533.20 326.73 L532.36 326.96 L531.52 327.18 L530.68 327.41 L529.84 327.64 L529.00 327.86 L528.16 328.09 L527.32 328.31 L526.49 328.54 L525.65 328.76 L524.81 328.98 L523.97 329.21 L523.13 329.43 L522.29 329.65 L521.45 329.87 L520.61 330.10 L519.78 330.32 L518.94 330.54 L518.10 330.76 L517.26 330.98 L516.42 331.20 L515.58 331.42 L514.74 331.64 L513.90 331.86 L513.06 332.08 L512.23 332.30 L511.39 332.51 L510.55 332.73 L509.71 332.95 L508.87 333.17 L508.03 333.38 L507.19 333.60 L506.35 333.81 L505.51 334.03 L504.68 334.24 L503.84 334.46 L503.00 334.67 L502.16 334.89 L501.32 335.10 L500.48 335.31 L499.64 335.53 L498.80 335.74 L497.97 335.95 L497.13 336.16 L496.29 336.38 L495.45 336.59 L494.61 336.80 L493.77 337.01 L492.93 337.22 L492.09 337.43 L491.25 337.64 L490.42 337.85 L489.58 338.05 L488.74 338.26 L487.90 338.47 L487.06 338.68 L486.22 338.88 L485.38 339.09 L484.54 339.30 L483.71 339.50 L482.87 339.71 L482.03 339.91 L481.19 340.12 L480.35 340.32 L479.51 340.53 L478.67 340.73 L477.83 340.94 L476.99 341.14 L476.16 341.34 L475.32 341.54 L474.48 341.75 L473.64 341.95 L472.80 342.15 L471.96 342.35 L471.12 342.55 L470.28 342.75 L469.45 342.95 L468.61 343.15 L467.77 343.35 L466.93 343.55 L466.09 343.75 L465.25 343.94 L464.41 344.14 L463.57 344.34 L462.73 344.54 L461.90 344.73 L461.06 344.93 L460.22 345.12 L459.38 345.32 L458.54 345.51 L457.70 345.71 L456.86 345.90 L456.02 346.10 L455.18 346.29 L454.35 346.48 L453.51 346.68 L452.67 346.87 L451.83 347.06 L450.99 347.25 L450.15 347.44 L449.31 347.63 L448.47 347.83 L447.64 348.02 L446.80 348.21 L445.96 348.39 L445.12 348.58 L444.28 348.77 L443.44 348.96 L442.60 349.15 L441.76 349.34 L440.92 349.52 L440.09 349.71 L439.25 349.90 L438.41 350.08 L437.57 350.27 L436.73 350.45 L435.89 350.64 L435.05 350.82 L434.21 351.01 L433.38 351.19 L432.54 351.37 L431.70 351.56 L430.86 351.74 L430.02 351.92 L429.18 352.10 L428.34 352.29 L427.50 352.47 L426.66 352.65 L425.83 352.83 L424.99 353.01 L424.15 353.19 L423.31 353.37 L422.47 353.55 L421.63 353.72 L420.79 353.90 L419.95 354.08 L419.12 354.26 L418.28 354.43 L417.44 354.61 L416.60 354.79 L415.76 354.96 L414.92 355.14 L414.08 355.31 L413.24 355.49 L412.40 355.66 L411.57 355.84 L410.73 356.01 L409.89 356.18 L409.05 356.36 L408.21 356.53 L407.37 356.70 L406.53 356.87 L405.69 357.04 L404.85 357.21 L404.02 357.38 L403.18 357.55 L402.34 357.72 L401.50 357.89 L400.66 358.06 L399.82 358.23 L398.98 358.40 L398.14 358.57 L397.31 358.73 L396.47 358.90 L395.63 359.07 L394.79 359.23 L393.95 359.40 L393.11 359.57 L392.27 359.73 L391.43 359.90 L390.59 360.06 L389.76 360.22 L388.92 360.39 L388.08 360.55 L387.24 360.71 L386.40 360.88 L385.56 361.04 L384.72 361.20 L383.88 361.36 L383.05 361.52 L382.21 361.68 L381.37 361.84 L380.53 362.00 L379.69 362.16 L378.85 362.32 L378.01 362.48 L377.17 362.64 L376.33 362.79 L375.50 362.95 L374.66 363.11 L373.82 363.26 L372.98 363.42 L372.14 363.58 L371.30 363.73 L370.46 363.89 L369.62 364.04 L368.79 364.20 L367.95 364.35 L367.11 364.50 L366.27 364.66 L365.43 364.81 L364.59 364.96 L363.75 365.11 L362.91 365.26 L362.07 365.42 L361.24 365.57 L360.40 365.72 L359.56 365.87 L358.72 366.02 L357.88 366.17 L357.04 366.31 L356.20 366.46 L355.36 366.61 L354.52 366.76 L353.69 366.90 L352.85 367.05 L352.01 367.20 L351.17 367.34 L350.33 367.49 L349.49 367.63 L348.65 367.78 L347.81 367.92 L346.98 368.07 L346.14 368.21 L345.30 368.35 L344.46 368.50 L343.62 368.64 L342.78 368.78 L341.94 368.92 L341.10 369.06 L340.26 369.21 L339.43 369.35 L338.59 369.49 L337.75 369.63 L336.91 369.76 L336.07 369.90 L335.23 370.04 L334.39 370.18 L333.55 370.32 L332.72 370.45 L331.88 370.59 L331.04 370.73 L330.20 370.86 L329.36 371.00 L328.52 371.13 L327.68 371.27 L326.84 371.40 L326.00 371.54 L325.17 371.67 L324.33 371.80 L323.49 371.94 L322.65 372.07 L321.81 372.20 L320.97 372.33 L320.13 372.46 L319.29 372.60 L318.46 372.73 L317.62 372.86 L316.78 372.99 L315.94 373.11 L315.10 373.24 L314.26 373.37 L313.42 373.50 L312.58 373.63 L311.74 373.75 L310.91 373.88 L310.07 374.01 L309.23 374.13 L308.39 374.26 L307.55 374.38 L306.71 374.51 L305.87 374.63 L305.03 374.76 L304.19 374.88 L303.36 375.00 L302.52 375.13 L301.68 375.25 L300.84 375.37 L300.00 375.49 L299.16 375.61 L298.32 375.73 L297.48 375.85 L296.65 375.97 L295.81 376.09 L294.97 376.21 L294.13 376.33 L293.29 376.45 L292.45 376.57 L291.61 376.68 L290.77 376.80 L289.93 376.92 L289.10 377.03 L288.26 377.15 L287.42 377.27 L286.58 377.38 L285.74 377.50 L284.90 377.61 L284.06 377.72 L283.22 377.84 L282.39 377.95 L281.55 378.06 L280.71 378.17 L279.87 378.29 L279.03 378.40 L278.19 378.51 L277.35 378.62 L276.51 378.73 L275.67 378.84 L274.84 378.95 L274.00 379.06 L273.16 379.16 L272.32 379.27 L271.48 379.38 L270.64 379.49 L269.80 379.59 L268.96 379.70 L268.13 379.81 L267.29 379.91 L266.45 380.02 L265.61 380.12 L264.77 380.22 L263.93 380.33 L263.09 380.43 L262.25 380.53 L261.41 380.64 L260.58 380.74 L259.74 380.84 L258.90 380.94 L258.06 381.04 L257.22 381.14 L256.38 381.24 L255.54 381.34 L254.70 381.44 L253.86 381.54 L253.03 381.64 L252.19 381.74 L251.35 381.84 L250.51 381.93 L249.67 382.03 L248.83 382.13 L247.99 382.22 L247.15 382.32 L246.32 382.41 L245.48 382.51 L244.64 382.60 L243.80 382.69 L242.96 382.79 L242.12 382.88 L241.28 382.97 L240.44 383.07 L239.60 383.16 L238.77 383.25 L237.93 383.34 L237.09 383.43 L236.25 383.52 L235.41 383.61 L234.57 383.70 L233.73 383.79 L232.89 383.88 L232.06 383.96 L231.22 384.05 L230.38 384.14 L229.54 384.22 L228.70 384.31 L227.86 384.40 L227.02 384.48 L226.18 384.57 L225.34 384.65 L224.51 384.74 L223.67 384.82 L222.83 384.90 L221.99 384.99 L221.15 385.07 L220.31 385.15 L219.47 385.23 L218.63 385.31 L217.80 385.39 L216.96 385.47 L216.12 385.55 L215.28 385.63 L214.44 385.71 L213.60 385.79 L212.76 385.87 L211.92 385.95 L211.08 386.02 L210.25 386.10 L209.41 386.18 L208.57 386.25 L207.73 386.33 L206.89 386.40 L206.05 386.48 L205.21 386.55 L204.37 386.63 L203.53 386.70 L202.70 386.77 L201.86 386.84 L201.02 386.92 L200.18 386.99 L199.34 387.06 L198.50 387.13 L197.66 387.20 L196.82 387.27 L195.99 387.34 L195.15 387.41 L194.31 387.48 L193.47 387.55 L192.63 387.61 L191.79 387.68 L190.95 387.75 L190.11 387.81 L189.27 387.88 L188.44 387.95 L187.60 388.01 L186.76 388.08 L185.92 388.14 L185.08 388.20 L184.24 388.27 L183.40 388.33 L182.56 388.39 L181.73 388.46 L180.89 388.52 L180.05 388.58 L179.21 388.64 L178.37 388.70 L177.53 388.76 L176.69 388.82 L175.85 388.88 L175.01 388.94 L174.18 389.00 L173.34 389.05 L172.50 389.11 L171.66 389.17 L170.82 389.22 L169.98 389.28 L169.14 389.34 L168.30 389.39 L167.47 389.45 L166.63 389.50 L165.79 389.55 L164.95 389.61 L164.11 389.66 L163.27 389.71 L162.43 389.77 L161.59 389.82 L160.75 389.87 L159.92 389.92 L159.08 389.97 L158.24 390.02 L157.40 390.07 L156.56 390.12 L155.72 390.17 L154.88 390.22 L154.04 390.26 L153.20 390.31 L152.37 390.36 L151.53 390.40 L150.69 390.45 L149.85 390.50 L149.01 390.54 L148.17 390.59 L147.33 390.63 L146.49 390.67 L145.66 390.72 L144.82 390.76 L143.98 390.80 L143.14 390.84 L142.30 390.89 Z" fill="#ff0000" fill-opacity="0.2" stroke="#ff0000" stroke-opacity="0.2" stroke-width="3.8" stroke-linejoin="round"/>
<path d="M142.30 390.89 L143.14 390.84 L143.98 390.80 L144.82 390.76 L145.66 390.72 L146.49 390.67 L147.33 390.63 L148.17 390.59 L149.01 390.54 L149.85 390.50 L150.69 390.45 L151.53 390.40 L152.37 390.36 L153.20 390.31 L154.04 390.26 L154.88 390.22 L155.72 390.17 L156.56 390.12 L157.40 390.07 L158.24 390.02 L159.08 389.97 L159.92 389.92 L160.75 389.87 L161.59 389.82 L162.43 389.77 L163.27 389.71 L164.11 389.66 L164.95 389.61 L165.79 389.55 L166.63 389.50 L167.47 389.45 L168.30 389.39 L169.14 389.34 L169.98 389.28 L170.82 389.22 L171.66 389.17 L172.50 389.11 L173.34 389.05 L174.18 389.00 L175.01 388.94 L175.85 388.88 L176.69 388.82 L177.53 388.76 L178.37 388.70 L179.21 388.64 L180.05 388.58 L180.89 388.52 L181.73 388.46 L182.56 388.39 L183.40 388.33 L184.24 388.27 L185.08 388.20 L185.92 388.14 L186.76 388.08 L187.60 388.01 L188.44 387.95 L189.27 387.88 L190.11 387.81 L190.95 387.75 L191.79 387.68 L192.63 387.61 L193.47 387.55 L194.31 387.48 L195.15 387.41 L195.99 387.34 L196.82 387.27 L197.66 387.20 L198.50 387.13 L199.34 387.06 L200.18 386.99 L201.02 386.92 L201.86 386.84 L202.70 386.77 L203.53 386.70 L204.37 386.63 L205.21 386.55 L206.05 386.48 L206.89 386.40 L207.73 386.33 L208.57 386.25 L209.41 386.18 L210.25 386.10 L211.08 386.02 L211.92 385.95 L212.76 385.87 L213.60 385.79 L214.44 385.71 L215.28 385.63 L216.12 385.55 L216.96 385.47 L217.80 385.39 L218.63 385.31 L219.47 385.23 L220.31 385.15 L221.15 385.07 L221.99 384.99 L222.83 384.90 L223.67 384.82 L224.51 384.74 L225.34 384.65 L226.18 384.57 L227.02 384.48 L227.86 384.40 L228.70 384.31 L229.54 384.22 L230.38 384.14 L231.22 384.05 L232.06 383.96 L232.89 383.88 L233.73 383.79 L234.57 383.70 L235.41 383.61 L236.25 383.52 L237.09 383.43 L237.93 383.34 L238.77 383.25 L239.60 383.16 L240.44 383.07 L241.28 382.97 L242.12 382.88 L242.96 382.79 L243.80 382.69 L244.64 382.60 L245.48 382.51 L246.32 382.41 L247.15 382.32 L247.99 382.22 L248.83 382.13 L249.67 382.03 L250.51 381.93 L251.35 381.84 L252.19 381.74 L253.03 381.64 L253.86 381.54 L254.70 381.44 L255.54 381.34 L256.38 381.24 L257.22 381.14 L258.06 381.04 L258.90 380.94 L259.74 380.84 L260.58 380.74 L261.41 380.64 L262.25 380.53 L263.09 380.43 L263.93 380.33 L264.77 380.22 L265.61 380.12 L266.45 380.02 L267.29 379.91 L268.13 379.81 L268.96 379.70 L269.80 379.59 L270.64 379.49 L271.48 379.38 L272.32 379.27 L273.16 379.16 L274.00 379.06 L274.84 378.95 L275.67 378.84 L276.51 378.73 L277.35 378.62 L278.19 378.51 L279.03 378.40 L279.87 378.29 L280.71 378.17 L281.55 378.06 L282.39 377.95 L283.22 377.84 L284.06 377.72 L284.90 377.61 L285.74 377.50 L286.58 377.38 L287.42 377.27 L288.26 377.15 L289.10 377.03 L289.93 376.92 L290.77 376.80 L291.61 376.68 L292.45 376.57 L293.29 376.45 L294.13 376.33 L294.97 376.21 L295.81 376.09 L296.65 375.97 L297.48 375.85 L298.32 375.73 L299.16 375.61 L300.00 375.49 L300.84 375.37 L301.68 375.25 L302.52 375.13 L303.36 375.00 L304.19 374.88 L305.03 374.76 L305.87 374.63 L306.71 374.51 L307.55 374.38 L308.39 374.26 L309.23 374.13 L310.07 374.01 L310.91 373.88 L311.74 373.75 L312.58 373.63 L313.42 373.50 L314.26 373.37 L315.10 373.24 L315.94 373.11 L316.78 372.99 L317.62 372.86 L318.46 372.73 L319.29 372.60 L320.13 372.46 L320.97 372.33 L321.81 372.20 L322.65 372.07 L323.49 371.94 L324.33 371.80 L325.17 371.67 L326.00 371.54 L326.84 371.40 L327.68 371.27 L328.52 371.13 L329.36 371.00 L330.20 370.86 L331.04 370.73 L331.88 370.59 L332.72 370.45 L333.55 370.32 L334.39 370.18 L335.23 370.04 L336.07 369.90 L336.91 369.76 L337.75 369.62 L338.59 369.48 L339.43 369.34 L340.26 369.20 L341.10 369.06 L341.94 368.92 L342.78 368.78 L343.62 368.64 L344.46 368.49 L345.30 368.35 L346.14 368.21 L346.98 368.06 L347.81 367.92 L348.65 367.77 L349.49 367.63 L350.33 367.48 L351.17 367.34 L352.01 367.19 L352.85 367.04 L353.69 366.89 L354.52 366.74 L355.36 366.59 L356.20 366.44 L357.04 366.29 L357.88 366.14 L358.72 365.99 L359.56 365.84 L360.40 365.68 L361.24 365.53 L362.07 365.37 L362.91 365.21 L363.75 365.06 L364.59 364.90 L365.43 364.73 L366.27 364.57 L367.11 364.41 L367.95 364.24 L368.79 364.08 L369.62 363.91 L370.46 363.74 L371.30 363.56 L372.14 363.39 L372.98 363.21 L373.82 363.03 L374.66 362.84 L375.50 362.66 L376.33 362.47 L377.17 362.27 L378.01 362.07 L378.85 361.87 L379.69 361.66 L380.53 361.45 L381.37 361.23 L382.21 361.00 L383.05 360.77 L383.88 360.53 L384.72 360.29 L385.56 360.03 L386.40 359.77 L387.24 359.50 L388.08 359.22 L388.92 358.93 L389.76 358.62 L390.59 358.31 L391.43 357.98 L392.27 357.64 L393.11 357.28 L393.95 356.91 L394.79 356.53 L395.63 356.13 L396.47 355.71 L397.31 355.27 L398.14 354.81 L398.98 354.33 L399.82 353.83 L400.66 353.31 L401.50 352.77 L402.34 352.20 L403.18 351.61 L404.02 350.98 L404.85 350.34 L405.69 349.66 L406.53 348.96 L407.37 348.22 L408.21 347.46 L409.05 346.66 L409.89 345.83 L410.73 344.97 L411.57 344.07 L412.40 343.14 L413.24 342.17 L414.08 341.17 L414.92 340.14 L415.76 339.06 L416.60 337.96 L417.44 336.81 L418.28 335.63 L419.12 334.41 L419.95 333.16 L420.79 331.87 L421.63 330.55 L422.47 329.19 L423.31 327.81 L424.15 326.38 L424.99 324.93 L425.83 323.45 L426.66 321.94 L427.50 320.41 L428.34 318.84 L429.18 317.26 L430.02 315.66 L430.86 314.04 L431.70 312.40 L432.54 310.75 L433.38 309.09 L434.21 307.42 L435.05 305.74 L435.89 304.07 L436.73 302.39 L437.57 300.72 L438.41 299.06 L439.25 297.41 L440.09 295.77 L440.92 294.16 L441.76 292.56 L442.60 290.99 L443.44 289.45 L444.28 287.95 L445.12 286.48 L445.96 285.05 L446.80 283.66 L447.64 282.32 L448.47 281.03 L449.31 279.79 L450.15 278.61 L450.99 277.49 L451.83 276.44 L452.67 275.44 L453.51 274.52 L454.35 273.66 L455.18 272.88 L456.02 272.17 L456.86 271.53 L457.70 270.97 L458.54 270.49 L459.38 270.09 L460.22 269.76 L461.06 269.52 L461.90 269.36 L462.73 269.27 L463.57 269.27 L464.41 269.34 L465.25 269.49 L466.09 269.72 L466.93 270.03 L467.77 270.40 L468.61 270.85 L469.45 271.37 L470.28 271.96 L471.12 272.61 L471.96 273.33 L472.80 274.11 L473.64 274.94 L474.48 275.83 L475.32 276.76 L476.16 277.75 L476.99 278.78 L477.83 279.85 L478.67 280.96 L479.51 282.10 L480.35 283.27 L481.19 284.47 L482.03 285.69 L482.87 286.93 L483.71 288.19 L484.54 289.45 L485.38 290.73 L486.22 292.01 L487.06 293.30 L487.90 294.58 L488.74 295.86 L489.58 297.13 L490.42 298.39 L491.25 299.64 L492.09 300.88 L492.93 302.09 L493.77 303.29 L494.61 304.46 L495.45 305.61 L496.29 306.73 L497.13 307.83 L497.97 308.90 L498.80 309.93 L499.64 310.94 L500.48 311.91 L501.32 312.85 L502.16 313.75 L503.00 314.62 L503.84 315.45 L504.68 316.25 L505.51 317.01 L506.35 317.73 L507.19 318.42 L508.03 319.07 L508.87 319.69 L509.71 320.27 L510.55 320.82 L511.39 321.33 L512.23 321.81 L513.06 322.25 L513.90 322.66 L514.74 323.04 L515.58 323.39 L516.42 323.71 L517.26 324.00 L518.10 324.27 L518.94 324.50 L519.78 324.71 L520.61 324.89 L521.45 325.05 L522.29 325.19 L523.13 325.30 L523.97 325.39 L524.81 325.46 L525.65 325.51 L526.49 325.55 L527.32 325.56 L528.16 325.56 L529.00 325.54 L529.84 325.51 L530.68 325.46 L531.52 325.40 L532.36 325.33 L533.20 325.24 L534.04 325.14 L534.87 325.04 L535.71 324.92 L536.55 324.79 L537.39 324.66 L538.23 324.52 L539.07 324.37 L539.91 324.21 L540.75 324.05 L541.58 323.88 L542.42 323.70 L543.26 323.52 L544.10 323.33 L544.94 323.14 L545.78 322.95 L546.62 322.75 L547.46 322.55 L548.30 322.34 L549.13 322.14 L549.97 321.92 L550.81 321.71 L551.65 321.50 L552.49 321.28 L553.33 321.06 L554.17 320.83 L555.01 320.61 L555.84 320.39 L556.68 320.16 L557.52 319.93 L558.36 319.70 L559.20 319.47 L560.04 319.24 L560.88 319.00 L561.72 318.77 L562.56 318.54 L563.39 318.30 L564.23 318.06 L565.07 317.83 L565.91 317.59 L566.75 317.35 L567.59 317.11 L568.43 316.87 L569.27 316.63 L570.11 316.39 L570.94 316.15 L571.78 315.91 L572.62 315.66 L573.46 315.42 L574.30 315.18 L575.14 314.93 L575.98 314.69 L576.82 314.45 L577.65 314.20 L578.49 313.96 L579.33 313.71 L580.17 313.46 L581.01 313.22 L581.85 312.97 L582.69 312.72 L583.53 312.48 L584.37 312.23 L585.20 311.98 L586.04 311.73 L586.88 311.48 L587.72 311.23 L588.56 310.98 L589.40 310.73 L590.24 310.48 L591.08 310.23 L591.91 309.98 L592.75 309.73 L593.59 309.48 L594.43 309.22 L595.27 308.97 L596.11 308.72 L596.95 308.47 L597.79 308.21 L598.63 307.96 L599.46 307.70 L600.30 307.45 L601.14 307.19 L601.98 306.94 L602.82 306.68 L603.66 306.43 L604.50 306.17 L605.34 305.92 L606.17 305.66 L607.01 305.40 L607.85 305.14 L608.69 304.89 L609.53 304.63 L610.37 304.37 L611.21 304.11 L612.05 303.85 L612.89 303.59 L613.72 303.33 L614.56 303.07 L615.40 302.81 L616.24 302.55 L617.08 302.29 L617.92 302.03 L618.76 301.76 L619.60 301.50 L620.44 301.24 L621.27 300.98 L622.11 300.71 L622.95 300.45 L623.79 300.18 L624.63 299.92 L625.47 299.66 L626.31 299.39 L627.15 299.13 L627.98 298.86 L628.82 298.59 L629.66 298.33 L630.50 298.06 L631.34 297.79 L632.18 297.53 L633.02 297.26 L633.86 296.99 L634.70 296.72 L635.53 296.45 L636.37 296.19 L637.21 295.92 L638.05 295.65 L638.89 295.38 L639.73 295.11 L640.57 294.84 L641.41 294.56 L642.24 294.29 L643.08 294.02 L643.92 293.75 L644.76 293.48 L645.60 293.21 L645.60 293.21 L644.76 293.48 L643.92 293.75 L643.08 294.02 L642.24 294.29 L641.41 294.56 L640.57 294.84 L639.73 295.11 L638.89 295.38 L638.05 295.65 L637.21 295.92 L636.37 296.19 L635.53 296.45 L634.70 296.72 L633.86 296.99 L633.02 297.26 L632.18 297.53 L631.34 297.79 L630.50 298.06 L629.66 298.33 L628.82 298.59 L627.98 298.86 L627.15 299.13 L626.31 299.39 L625.47 299.66 L624.63 299.92 L623.79 300.18 L622.95 300.45 L622.11 300.71 L621.27 300.98 L620.44 301.24 L619.60 301.50 L618.76 301.76 L617.92 302.03 L617.08 302.29 L616.24 302.55 L615.40 302.81 L614.56 303.07 L613.72 303.33 L612.89 303.59 L612.05 303.85 L611.21 304.11 L610.37 304.37 L609.53 304.63 L608.69 304.89 L607.85 305.14 L607.01 305.40 L606.17 305.66 L605.34 305.92 L604.50 306.17 L603.66 306.43 L602.82 306.68 L601.98 306.94 L601.14 307.19 L600.30 307.45 L599.46 307.70 L598.63 307.96 L597.79 308.21 L596.95 308.47 L596.11 308.72 L595.27 308.97 L594.43 309.22 L593.59 309.48 L592.75 309.73 L591.91 309.98 L591.08 310.23 L590.24 310.48 L589.40 310.73 L588.56 310.98 L587.72 311.23 L586.88 311.48 L586.04 311.73 L585.20 311.98 L584.37 312.23 L583.53 312.48 L582.69 312.72 L581.85 312.97 L581.01 313.22 L580.17 313.47 L579.33 313.71 L578.49 313.96 L577.65 314.20 L576.82 314.45 L575.98 314.69 L575.14 314.94 L574.30 315.18 L573.46 315.43 L572.62 315.67 L571.78 315.91 L570.94 316.16 L570.11 316.40 L569.27 316.64 L568.43 316.88 L567.59 317.13 L566.75 317.37 L565.91 317.61 L565.07 317.85 L564.23 318.09 L563.39 318.33 L562.56 318.57 L561.72 318.81 L560.88 319.05 L560.04 319.28 L559.20 319.52 L558.36 319.76 L557.52 320.00 L556.68 320.23 L555.84 320.47 L555.01 320.71 L554.17 320.94 L553.33 321.18 L552.49 321.41 L551.65 321.65 L550.81 321.88 L549.97 322.12 L549.13 322.35 L548.30 322.59 L547.46 322.82 L546.62 323.05 L545.78 323.28 L544.94 323.52 L544.10 323.75 L543.26 323.98 L542.42 324.21 L541.58 324.44 L540.75 324.67 L539.91 324.90 L539.07 325.13 L538.23 325.36 L537.39 325.59 L536.55 325.82 L535.71 326.05 L534.87 326.28 L534.04 326.50 L533.20 326.73 L532.36 326.96 L531.52 327.18 L530.68 327.41 L529.84 327.64 L529.00 327.86 L528.16 328.09 L527.32 328.31 L526.49 328.54 L525.65 328.76 L524.81 328.98 L523.97 329.21 L523.13 329.43 L522.29 329.65 L521.45 329.87 L520.61 330.10 L519.78 330.32 L518.94 330.54 L518.10 330.76 L517.26 330.98 L516.42 331.20 L515.58 331.42 L514.74 331.64 L513.90 331.86 L513.06 332.08 L512.23 332.30 L511.39 332.51 L510.55 332.73 L509.71 332.95 L508.87 333.17 L508.03 333.38 L507.19 333.60 L506.35 333.81 L505.51 334.03 L504.68 334.24 L503.84 334.46 L503.00 334.67 L502.16 334.89 L501.32 335.10 L500.48 335.31 L499.64 335.53 L498.80 335.74 L497.97 335.95 L497.13 336.16 L496.29 336.38 L495.45 336.59 L494.61 336.80 L493.77 337.01 L492.93 337.22 L492.09 337.43 L491.25 337.64 L490.42 337.85 L489.58 338.05 L488.74 338.26 L487.90 338.47 L487.06 338.68 L486.22 338.88 L485.38 339.09 L484.54 339.30 L483.71 339.50 L482.87 339.71 L482.03 339.91 L481.19 340.12 L480.35 340.32 L479.51 340.53 L478.67 340.73 L477.83 340.94 L476.99 341.14 L476.16 341.34 L475.32 341.54 L474.48 341.75 L473.64 341.95 L472.80 342.15 L471.96 342.35 L471.12 342.55 L470.28 342.75 L469.45 342.95 L468.61 343.15 L467.77 343.35 L466.93 343.55 L466.09 343.75 L465.25 343.94 L464.41 344.14 L463.57 344.34 L462.73 344.54 L461.90 344.73 L461.06 344.93 L460.22 345.12 L459.38 345.32 L458.54 345.51 L457.70 345.71 L456.86 345.90 L456.02 346.10 L455.18 346.29 L454.35 346.48 L453.51 346.68 L452.67 346.87 L451.83 347.06 L450.99 347.25 L450.15 347.44 L449.31 347.63 L448.47 347.83 L447.64 348.02 L446.80 348.21 L445.96 348.39 L445.12 348.58 L444.28 348.77 L443.44 348.96 L442.60 349.15 L441.76 349.34 L440.92 349.52 L440.09 349.71 L439.25 349.90 L438.41 350.08 L437.57 350.27 L436.73 350.45 L435.89 350.64 L435.05 350.82 L434.21 351.01 L433.38 351.19 L432.54 351.37 L431.70 351.56 L430.86 351.74 L430.02 351.92 L429.18 352.10 L428.34 352.29 L427.50 352.47 L426.66 352.65 L425.83 352.83 L424.99 353.01 L424.15 353.19 L423.31 353.37 L422.47 353.55 L421.63 353.72 L420.79 353.90 L419.95 354.08 L419.12 354.26 L418.28 354.43 L417.44 354.61 L416.60 354.79 L415.76 354.96 L414.92 355.14 L414.08 355.31 L413.24 355.49 L412.40 355.66 L411.57 355.84 L410.73 356.01 L409.89 356.18 L409.05 356.36 L408.21 356.53 L407.37 356.70 L406.53 356.87 L405.69 357.04 L404.85 357.21 L404.02 357.38 L403.18 357.55 L402.34 357.72 L401.50 357.89 L400.66 358.06 L399.82 358.23 L398.98 358.40 L398.14 358.57 L397.31 358.73 L396.47 358.90 L395.63 359.07 L394.79 359.23 L393.95 359.40 L393.11 359.57 L392.27 359.73 L391.43 359.90 L390.59 360.06 L389.76 360.22 L388.92 360.39 L388.08 360.55 L387.24 360.71 L386.40 360.88 L385.56 361.04 L384.72 361.20 L383.88 361.36 L383.05 361.52 L382.21 361.68 L381.37 361.84 L380.53 362.00 L379.69 362.16 L378.85 362.32 L378.01 362.48 L377.17 362.64 L376.33 362.79 L375.50 362.95 L374.66 363.11 L373.82 363.26 L372.98 363.42 L372.14 363.58 L371.30 363.73 L370.46 363.89 L369.62 364.04 L368.79 364.20 L367.95 364.35 L367.11 364.50 L366.27 364.66 L365.43 364.81 L364.59 364.96 L363.75 365.11 L362.91 365.26 L362.07 365.42 L361.24 365.57 L360.40 365.72 L359.56 365.87 L358.72 366.02 L357.88 366.17 L357.04 366.31 L356.20 366.46 L355.36 366.61 L354.52 366.76 L353.69 366.90 L352.85 367.05 L352.01 367.20 L351.17 367.34 L350.33 367.49 L349.49 367.63 L348.65 367.78 L347.81 367.92 L346.98 368.07 L346.14 368.21 L345.30 368.35 L344.46 368.50 L343.62 368.64 L342.78 368.78 L341.94 368.92 L341.10 369.06 L340.26 369.21 L339.43 369.35 L338.59 369.49 L337.75 369.63 L336.91 369.76 L336.07 369.90 L335.23 370.04 L334.39 370.18 L333.55 370.32 L332.72 370.45 L331.88 370.59 L331.04 370.73 L330.20 370.86 L329.36 371.00 L328.52 371.13 L327.68 371.27 L326.84 371.40 L326.00 371.54 L325.17 371.67 L324.33 371.80 L323.49 371.94 L322.65 372.07 L321.81 372.20 L320.97 372.33 L320.13 372.46 L319.29 372.60 L318.46 372.73 L317.62 372.86 L316.78 372.99 L315.94 373.11 L315.10 373.24 L314.26 373.37 L313.42 373.50 L312.58 373.63 L311.74 373.75 L310.91 373.88 L310.07 374.01 L309.23 374.13 L308.39 374.26 L307.55 374.38 L306.71 374.51 L305.87 374.63 L305.03 374.76 L304.19 374.88 L303.36 375.00 L302.52 375.13 L301.68 375.25 L300.84 375.37 L300.00 375.49 L299.16 375.61 L298.32 375.73 L297.48 375.85 L296.65 375.97 L295.81 376.09 L294.97 376.21 L294.13 376.33 L293.29 376.45 L292.45 376.57 L291.61 376.68 L290.77 376.80 L289.93 376.92 L289.10 377.03 L288.26 377.15 L287.42 377.27 L286.58 377.38 L285.74 377.50 L284.90 377.61 L284.06 377.72 L283.22 377.84 L282.39 377.95 L281.55 378.06 L280.71 378.17 L279.87 378.29 L279.03 378.40 L278.19 378.51 L277.35 378.62 L276.51 378.73 L275.67 378.84 L274.84 378.95 L274.00 379.06 L273.16 379.16 L272.32 379.27 L271.48 379.38 L270.64 379.49 L269.80 379.59 L268.96 379.70 L268.13 379.81 L267.29 379.91 L266.45 380.02 L265.61 380.12 L264.77 380.22 L263.93 380.33 L263.09 380.43 L262.25 380.53 L261.41 380.64 L260.58 380.74 L259.74 380.84 L258.90 380.94 L258.06 381.04 L257.22 381.14 L256.38 381.24 L255.54 381.34 L254.70 381.44 L253.86 381.54 L253.03 381.64 L252.19 381.74 L251.35 381.84 L250.51 381.93 L249.67 382.03 L248.83 382.13 L247.99 382.22 L247.15 382.32 L246.32 382.41 L245.48 382.51 L244.64 382.60 L243.80 382.69 L242.96 382.79 L242.12 382.88 L241.28 382.97 L240.44 383.07 L239.60 383.16 L238.77 383.25 L237.93 383.34 L237.09 383.43 L236.25 383.52 L235.41 383.61 L234.57 383.70 L233.73 383.79 L232.89 383.88 L232.06 383.96 L231.22 384.05 L230.38 384.14 L229.54 384.22 L228.70 384.31 L227.86 384.40 L227.02 384.48 L226.18 384.57 L225.34 384.65 L224.51 384.74 L223.67 384.82 L222.83 384.90 L221.99 384.99 L221.15 385.07 L220.31 385.15 L219.47 385.23 L218.63 385.31 L217.80 385.39 L216.96 385.47 L216.12 385.55 L215.28 385.63 L214.44 385.71 L213.60 385.79 L212.76 385.87 L211.92 385.95 L211.08 386.02 L210.25 386.10 L209.41 386.18 L208.57 386.25 L207.73 386.33 L206.89 386.40 L206.05 386.48 L205.21 386.55 L204.37 386.63 L203.53 386.70 L202.70 386.77 L201.86 386.84 L201.02 386.92 L200.18 386.99 L199.34 387.06 L198.50 387.13 L197.66 387.20 L196.82 387.27 L195.99 387.34 L195.15 387.41 L194.31 387.48 L193.47 387.55 L192.63 387.61 L191.79 387.68 L190.95 387.75 L190.11 387.81 L189.27 387.88 L188.44 387.95 L187.60 388.01 L186.76 388.08 L185.92 388.14 L185.08 388.20 L184.24 388.27 L183.40 388.33 L182.56 388.39 L181.73 388.46 L180.89 388.52 L180.05 388.58 L179.21 388.64 L178.37 388.70 L177.53 388.76 L176.69 388.82 L175.85 388.88 L175.01 388.94 L174.18 389.00 L173.34 389.05 L172.50 389.11 L171.66 389.17 L170.82 389.22 L169.98 389.28 L169.14 389.34 L168.30 389.39 L167.47 389.45 L166.63 389.50 L165.79 389.55 L164.95 389.61 L164.11 389.66 L163.27 389.71 L162.43 389.77 L161.59 389.82 L160.75 389.87 L159.92 389.92 L159.08 389.97 L158.24 390.02 L157.40 390.07 L156.56 390.12 L155.72 390.17 L154.88 390.22 L154.04 390.26 L153.20 390.31 L152.37 390.36 L151.53 390.40 L150.69 390.45 L149.85 390.50 L149.01 390.54 L148.17 390.59 L147.33 390.63 L146.49 390.67 L145.66 390.72 L144.82 390.76 L143.98 390.80 L143.14 390.84 L142.30 390.89 Z" fill="#ff0000" fill-opacity="0.2" stroke="#ff0000" stroke-opacity="0.2" stroke-width="3.8" stroke-linejoin="round"/>
<path d="M142.30 390.89 L143.14 390.84 L143.98 390.80 L144.82 390.76 L145.66 390.72 L146.49 390.67 L147.33 390.63 L148.17 390.59 L149.01 390.54 L149.85 390.50 L150.69 390.45 L151.53 390.40 L152.37 390.36 L153.20 390.31 L154.04 390.26 L154.88 390.22 L155.72 390.17 L156.56 390.12 L157.40 390.07 L158.24 390.02 L159.08 389.97 L159.92 389.92 L160.75 389.87 L161.59 389.82 L162.43 389.77 L163.27 389.71 L164.11 389.66 L164.95 389.61 L165.79 389.55 L166.63 389.50 L167.47 389.45 L168.30 389.39 L169.14 389.34 L169.98 389.28 L170.82 389.22 L171.66 389.17 L172.50 389.11 L173.34 389.05 L174.18 389.00 L175.01 388.94 L175.85 388.88 L176.69 388.82 L177.53 388.76 L178.37 388.70 L179.21 388.64 L180.05 388.58 L180.89 388.52 L181.73 388.46 L182.56 388.39 L183.40 388.33 L184.24 388.27 L185.08 388.20 L185.92 388.14 L186.76 388.08 L187.60 388.01 L188.44 387.95 L189.27 387.88 L190.11 387.81 L190.95 387.75 L191.79 387.68 L192.63 387.61 L193.47 387.55 L194.31 387.48 L195.15 387.41 L195.99 387.34 L196.82 387.27 L197.66 387.20 L198.50 387.13 L199.34 387.06 L200.18 386.99 L201.02 386.91 L201.86 386.84 L202.70 386.77 L203.53 386.70 L204.37 386.62 L205.21 386.55 L206.05 386.47 L206.89 386.40 L207.73 386.32 L208.57 386.25 L209.41 386.17 L210.25 386.09 L211.08 386.01 L211.92 385.94 L212.76 385.86 L213.60 385.78 L214.44 385.70 L215.28 385.62 L216.12 385.54 L216.96 385.45 L217.80 385.37 L218.63 385.29 L219.47 385.21 L220.31 385.12 L221.15 385.04 L221.99 384.95 L222.83 384.86 L223.67 384.78 L224.51 384.69 L225.34 384.60 L226.18 384.51 L227.02 384.42 L227.86 384.33 L228.70 384.24 L229.54 384.14 L230.38 384.05 L231.22 383.95 L232.06 383.86 L232.89 383.76 L233.73 383.66 L234.57 383.56 L235.41 383.45 L236.25 383.35 L237.09 383.24 L237.93 383.14 L238.77 383.03 L239.60 382.92 L240.44 382.80 L241.28 382.69 L242.12 382.57 L242.96 382.45 L243.80 382.33 L244.64 382.21 L245.48 382.08 L246.32 381.95 L247.15 381.81 L247.99 381.68 L248.83 381.54 L249.67 381.39 L250.51 381.24 L251.35 381.09 L252.19 380.93 L253.03 380.77 L253.86 380.61 L254.70 380.44 L255.54 380.26 L256.38 380.08 L257.22 379.89 L258.06 379.70 L258.90 379.50 L259.74 379.29 L260.58 379.08 L261.41 378.86 L262.25 378.63 L263.09 378.39 L263.93 378.15 L264.77 377.89 L265.61 377.63 L266.45 377.36 L267.29 377.07 L268.13 376.78 L268.96 376.48 L269.80 376.16 L270.64 375.84 L271.48 375.50 L272.32 375.15 L273.16 374.79 L274.00 374.41 L274.84 374.02 L275.67 373.61 L276.51 373.19 L277.35 372.76 L278.19 372.31 L279.03 371.85 L279.87 371.36 L280.71 370.87 L281.55 370.35 L282.39 369.82 L283.22 369.27 L284.06 368.70 L284.90 368.11 L285.74 367.51 L286.58 366.88 L287.42 366.23 L288.26 365.57 L289.10 364.89 L289.93 364.18 L290.77 363.45 L291.61 362.71 L292.45 361.94 L293.29 361.15 L294.13 360.35 L294.97 359.52 L295.81 358.66 L296.65 357.79 L297.48 356.90 L298.32 355.99 L299.16 355.05 L300.00 354.10 L300.84 353.12 L301.68 352.13 L302.52 351.11 L303.36 350.08 L304.19 349.02 L305.03 347.95 L305.87 346.86 L306.71 345.75 L307.55 344.63 L308.39 343.48 L309.23 342.32 L310.07 341.15 L310.91 339.96 L311.74 338.75 L312.58 337.54 L313.42 336.31 L314.26 335.06 L315.10 333.81 L315.94 332.54 L316.78 331.26 L317.62 329.98 L318.46 328.68 L319.29 327.37 L320.13 326.06 L320.97 324.74 L321.81 323.41 L322.65 322.08 L323.49 320.74 L324.33 319.39 L325.17 318.04 L326.00 316.68 L326.84 315.32 L327.68 313.95 L328.52 312.57 L329.36 311.19 L330.20 309.80 L331.04 308.41 L331.88 307.01 L332.72 305.60 L333.55 304.18 L334.39 302.76 L335.23 301.32 L336.07 299.87 L336.91 298.41 L337.75 296.94 L338.59 295.44 L339.43 293.94 L340.26 292.41 L341.10 290.86 L341.94 289.29 L342.78 287.70 L343.62 286.08 L344.46 284.43 L345.30 282.75 L346.14 281.04 L346.98 279.30 L347.81 277.51 L348.65 275.70 L349.49 273.84 L350.33 271.94 L351.17 270.00 L352.01 268.01 L352.85 265.98 L353.69 263.90 L354.52 261.77 L355.36 259.60 L356.20 257.38 L357.04 255.11 L357.88 252.79 L358.72 250.43 L359.56 248.01 L360.40 245.56 L361.24 243.06 L362.07 240.52 L362.91 237.94 L363.75 235.33 L364.59 232.68 L365.43 230.01 L366.27 227.32 L367.11 224.61 L367.95 221.88 L368.79 219.15 L369.62 216.41 L370.46 213.68 L371.30 210.97 L372.14 208.27 L372.98 205.60 L373.82 202.97 L374.66 200.38 L375.50 197.84 L376.33 195.36 L377.17 192.94 L378.01 190.61 L378.85 188.35 L379.69 186.19 L380.53 184.14 L381.37 182.19 L382.21 180.36 L383.05 178.66 L383.88 177.08 L384.72 175.65 L385.56 174.37 L386.40 173.23 L387.24 172.26 L388.08 171.45 L388.92 170.80 L389.76 170.33 L390.59 170.03 L391.43 169.91 L392.27 169.96 L393.11 170.20 L393.95 170.61 L394.79 171.20 L395.63 171.97 L396.47 172.91 L397.31 174.02 L398.14 175.29 L398.98 176.73 L399.82 178.33 L400.66 180.08 L401.50 181.97 L402.34 183.99 L403.18 186.15 L404.02 188.42 L404.85 190.81 L405.69 193.29 L406.53 195.87 L407.37 198.52 L408.21 201.25 L409.05 204.04 L409.89 206.87 L410.73 209.75 L411.57 212.64 L412.40 215.56 L413.24 218.48 L414.08 221.39 L414.92 224.29 L415.76 227.17 L416.60 230.00 L417.44 232.79 L418.28 235.53 L419.12 238.21 L419.95 240.81 L420.79 243.33 L421.63 245.77 L422.47 248.12 L423.31 250.38 L424.15 252.53 L424.99 254.57 L425.83 256.50 L426.66 258.32 L427.50 260.03 L428.34 261.62 L429.18 263.09 L430.02 264.44 L430.86 265.68 L431.70 266.79 L432.54 267.79 L433.38 268.68 L434.21 269.46 L435.05 270.13 L435.89 270.70 L436.73 271.16 L437.57 271.54 L438.41 271.82 L439.25 272.01 L440.09 272.13 L440.92 272.17 L441.76 272.14 L442.60 272.05 L443.44 271.91 L444.28 271.71 L445.12 271.48 L445.96 271.20 L446.80 270.90 L447.64 270.58 L448.47 270.23 L449.31 269.88 L450.15 269.52 L450.99 269.17 L451.83 268.82 L452.67 268.49 L453.51 268.17 L454.35 267.88 L455.18 267.61 L456.02 267.38 L456.86 267.19 L457.70 267.03 L458.54 266.92 L459.38 266.86 L460.22 266.85 L461.06 266.89 L461.90 266.98 L462.73 267.14 L463.57 267.35 L464.41 267.62 L465.25 267.95 L466.09 268.34 L466.93 268.78 L467.77 269.29 L468.61 269.86 L469.45 270.49 L470.28 271.17 L471.12 271.91 L471.96 272.71 L472.80 273.55 L473.64 274.45 L474.48 275.39 L475.32 276.38 L476.16 277.41 L476.99 278.48 L477.83 279.59 L478.67 280.72 L479.51 281.89 L480.35 283.09 L481.19 284.31 L482.03 285.55 L482.87 286.81 L483.71 288.08 L484.54 289.36 L485.38 290.65 L486.22 291.94 L487.06 293.24 L487.90 294.53 L488.74 295.81 L489.58 297.09 L490.42 298.36 L491.25 299.61 L492.09 300.85 L492.93 302.07 L493.77 303.27 L494.61 304.44 L495.45 305.60 L496.29 306.72 L497.13 307.82 L497.97 308.89 L498.80 309.92 L499.64 310.93 L500.48 311.90 L501.32 312.84 L502.16 313.74 L503.00 314.61 L503.84 315.45 L504.68 316.24 L505.51 317.00 L506.35 317.73 L507.19 318.42 L508.03 319.07 L508.87 319.69 L509.71 320.27 L510.55 320.82 L511.39 321.33 L512.23 321.81 L513.06 322.25 L513.90 322.66 L514.74 323.04 L515.58 323.39 L516.42 323.71 L517.26 324.00 L518.10 324.27 L518.94 324.50 L519.78 324.71 L520.61 324.89 L521.45 325.05 L522.29 325.19 L523.13 325.30 L523.97 325.39 L524.81 325.46 L525.65 325.51 L526.49 325.55 L527.32 325.56 L528.16 325.56 L529.00 325.54 L529.84 325.51 L530.68 325.46 L531.52 325.40 L532.36 325.33 L533.20 325.24 L534.04 325.14 L534.87 325.04 L535.71 324.92 L536.55 324.79 L537.39 324.66 L538.23 324.52 L539.07 324.37 L539.91 324.21 L540.75 324.05 L541.58 323.88 L542.42 323.70 L543.26 323.52 L544.10 323.33 L544.94 323.14 L545.78 322.95 L546.62 322.75 L547.46 322.55 L548.30 322.34 L549.13 322.14 L549.97 321.92 L550.81 321.71 L551.65 321.50 L552.49 321.28 L553.33 321.06 L554.17 320.83 L555.01 320.61 L555.84 320.39 L556.68 320.16 L557.52 319.93 L558.36 319.70 L559.20 319.47 L560.04 319.24 L560.88 319.00 L561.72 318.77 L562.56 318.54 L563.39 318.30 L564.23 318.06 L565.07 317.83 L565.91 317.59 L566.75 317.35 L567.59 317.11 L568.43 316.87 L569.27 316.63 L570.11 316.39 L570.94 316.15 L571.78 315.91 L572.62 315.66 L573.46 315.42 L574.30 315.18 L575.14 314.93 L575.98 314.69 L576.82 314.45 L577.65 314.20 L578.49 313.96 L579.33 313.71 L580.17 313.46 L581.01 313.22 L581.85 312.97 L582.69 312.72 L583.53 312.48 L584.37 312.23 L585.20 311.98 L586.04 311.73 L586.88 311.48 L587.72 311.23 L588.56 310.98 L589.40 310.73 L590.24 310.48 L591.08 310.23 L591.91 309.98 L592.75 309.73 L593.59 309.48 L594.43 309.22 L595.27 308.97 L596.11 308.72 L596.95 308.47 L597.79 308.21 L598.63 307.96 L599.46 307.70 L600.30 307.45 L601.14 307.19 L601.98 306.94 L602.82 306.68 L603.66 306.43 L604.50 306.17 L605.34 305.92 L606.17 305.66 L607.01 305.40 L607.85 305.14 L608.69 304.89 L609.53 304.63 L610.37 304.37 L611.21 304.11 L612.05 303.85 L612.89 303.59 L613.72 303.33 L614.56 303.07 L615.40 302.81 L616.24 302.55 L617.08 302.29 L617.92 302.03 L618.76 301.76 L619.60 301.50 L620.44 301.24 L621.27 300.98 L622.11 300.71 L622.95 300.45 L623.79 300.18 L624.63 299.92 L625.47 299.66 L626.31 299.39 L627.15 299.13 L627.98 298.86 L628.82 298.59 L629.66 298.33 L630.50 298.06 L631.34 297.79 L632.18 297.53 L633.02 297.26 L633.86 296.99 L634.70 296.72 L635.53 296.45 L636.37 296.19 L637.21 295.92 L638.05 295.65 L638.89 295.38 L639.73 295.11 L640.57 294.84 L641.41 294.56 L642.24 294.29 L643.08 294.02 L643.92 293.75 L644.76 293.48 L645.60 293.21" fill="none" stroke="#ff0000" stroke-width="5.70" stroke-linejoin="round" stroke-linecap="square"/>
<path d="M142.30 390.89 L143.14 390.84 L143.98 390.80 L144.82 390.76 L145.66 390.72 L146.49 390.67 L147.33 390.63 L148.17 390.59 L149.01 390.54 L149.85 390.50 L150.69 390.45 L151.53 390.40 L152.37 390.36 L153.20 390.31 L154.04 390.26 L154.88 390.22 L155.72 390.17 L156.56 390.12 L157.40 390.07 L158.24 390.02 L159.08 389.97 L159.92 389.92 L160.75 389.87 L161.59 389.82 L162.43 389.77 L163.27 389.71 L164.11 389.66 L164.95 389.61 L165.79 389.55 L166.63 389.50 L167.47 389.45 L168.30 389.39 L169.14 389.34 L169.98 389.28 L170.82 389.22 L171.66 389.17 L172.50 389.11 L173.34 389.05 L174.18 389.00 L175.01 388.94 L175.85 388.88 L176.69 388.82 L177.53 388.76 L178.37 388.70 L179.21 388.64 L180.05 388.58 L180.89 388.52 L181.73 388.46 L182.56 388.39 L183.40 388.33 L184.24 388.27 L185.08 388.20 L185.92 388.14 L186.76 388.08 L187.60 388.01 L188.44 387.95 L189.27 387.88 L190.11 387.81 L190.95 387.75 L191.79 387.68 L192.63 387.61 L193.47 387.55 L194.31 387.48 L195.15 387.41 L195.99 387.34 L196.82 387.27 L197.66 387.20 L198.50 387.13 L199.34 387.06 L200.18 386.99 L201.02 386.92 L201.86 386.84 L202.70 386.77 L203.53 386.70 L204.37 386.63 L205.21 386.55 L206.05 386.48 L206.89 386.40 L207.73 386.33 L208.57 386.25 L209.41 386.18 L210.25 386.10 L211.08 386.02 L211.92 385.95 L212.76 385.87 L213.60 385.79 L214.44 385.71 L215.28 385.63 L216.12 385.55 L216.96 385.47 L217.80 385.39 L218.63 385.31 L219.47 385.23 L220.31 385.15 L221.15 385.07 L221.99 384.99 L222.83 384.90 L223.67 384.82 L224.51 384.74 L225.34 384.65 L226.18 384.57 L227.02 384.48 L227.86 384.40 L228.70 384.31 L229.54 384.22 L230.38 384.14 L231.22 384.05 L232.06 383.96 L232.89 383.88 L233.73 383.79 L234.57 383.70 L235.41 383.61 L236.25 383.52 L237.09 383.43 L237.93 383.34 L238.77 383.25 L239.60 383.16 L240.44 383.07 L241.28 382.97 L242.12 382.88 L242.96 382.79 L243.80 382.69 L244.64 382.60 L245.48 382.51 L246.32 382.41 L247.15 382.32 L247.99 382.22 L248.83 382.13 L249.67 382.03 L250.51 381.93 L251.35 381.84 L252.19 381.74 L253.03 381.64 L253.86 381.54 L254.70 381.44 L255.54 381.34 L256.38 381.24 L257.22 381.14 L258.06 381.04 L258.90 380.94 L259.74 380.84 L260.58 380.74 L261.41 380.64 L262.25 380.53 L263.09 380.43 L263.93 380.33 L264.77 380.22 L265.61 380.12 L266.45 380.02 L267.29 379.91 L268.13 379.81 L268.96 379.70 L269.80 379.59 L270.64 379.49 L271.48 379.38 L272.32 379.27 L273.16 379.16 L274.00 379.06 L274.84 378.95 L275.67 378.84 L276.51 378.73 L277.35 378.62 L278.19 378.51 L279.03 378.40 L279.87 378.29 L280.71 378.17 L281.55 378.06 L282.39 377.95 L283.22 377.84 L284.06 377.72 L284.90 377.61 L285.74 377.50 L286.58 377.38 L287.42 377.27 L288.26 377.15 L289.10 377.03 L289.93 376.92 L290.77 376.80 L291.61 376.68 L292.45 376.57 L293.29 376.45 L294.13 376.33 L294.97 376.21 L295.81 376.09 L296.65 375.97 L297.48 375.85 L298.32 375.73 L299.16 375.61 L300.00 375.49 L300.84 375.37 L301.68 375.25 L302.52 375.13 L303.36 375.00 L304.19 374.88 L305.03 374.76 L305.87 374.63 L306.71 374.51 L307.55 374.38 L308.39 374.26 L309.23 374.13 L310.07 374.01 L310.91 373.88 L311.74 373.75 L312.58 373.63 L313.42 373.50 L314.26 373.37 L315.10 373.24 L315.94 373.11 L316.78 372.99 L317.62 372.86 L318.46 372.73 L319.29 372.60 L320.13 372.46 L320.97 372.33 L321.81 372.20 L322.65 372.07 L323.49 371.94 L324.33 371.80 L325.17 371.67 L326.00 371.54 L326.84 371.40 L327.68 371.27 L328.52 371.13 L329.36 371.00 L330.20 370.86 L331.04 370.73 L331.88 370.59 L332.72 370.45 L333.55 370.32 L334.39 370.18 L335.23 370.04 L336.07 369.90 L336.91 369.76 L337.75 369.63 L338.59 369.49 L339.43 369.35 L340.26 369.21 L341.10 369.06 L341.94 368.92 L342.78 368.78 L343.62 368.64 L344.46 368.50 L345.30 368.35 L346.14 368.21 L346.98 368.07 L347.81 367.92 L348.65 367.78 L349.49 367.63 L350.33 367.49 L351.17 367.34 L352.01 367.20 L352.85 367.05 L353.69 366.90 L354.52 366.76 L355.36 366.61 L356.20 366.46 L357.04 366.31 L357.88 366.17 L358.72 366.02 L359.56 365.87 L360.40 365.72 L361.24 365.57 L362.07 365.42 L362.91 365.26 L363.75 365.11 L364.59 364.96 L365.43 364.81 L366.27 364.66 L367.11 364.50 L367.95 364.35 L368.79 364.20 L369.62 364.04 L370.46 363.89 L371.30 363.73 L372.14 363.58 L372.98 363.42 L373.82 363.26 L374.66 363.11 L375.50 362.95 L376.33 362.79 L377.17 362.64 L378.01 362.48 L378.85 362.32 L379.69 362.16 L380.53 362.00 L381.37 361.84 L382.21 361.68 L383.05 361.52 L383.88 361.36 L384.72 361.20 L385.56 361.04 L386.40 360.88 L387.24 360.71 L388.08 360.55 L388.92 360.39 L389.76 360.22 L390.59 360.06 L391.43 359.90 L392.27 359.73 L393.11 359.57 L393.95 359.40 L394.79 359.23 L395.63 359.07 L396.47 358.90 L397.31 358.73 L398.14 358.57 L398.98 358.40 L399.82 358.23 L400.66 358.06 L401.50 357.89 L402.34 357.72 L403.18 357.55 L404.02 357.38 L404.85 357.21 L405.69 357.04 L406.53 356.87 L407.37 356.70 L408.21 356.53 L409.05 356.36 L409.89 356.18 L410.73 356.01 L411.57 355.84 L412.40 355.66 L413.24 355.49 L414.08 355.31 L414.92 355.14 L415.76 354.96 L416.60 354.79 L417.44 354.61 L418.28 354.43 L419.12 354.26 L419.95 354.08 L420.79 353.90 L421.63 353.72 L422.47 353.55 L423.31 353.37 L424.15 353.19 L424.99 353.01 L425.83 352.83 L426.66 352.65 L427.50 352.47 L428.34 352.29 L429.18 352.10 L430.02 351.92 L430.86 351.74 L431.70 351.56 L432.54 351.37 L433.38 351.19 L434.21 351.01 L435.05 350.82 L435.89 350.64 L436.73 350.45 L437.57 350.27 L438.41 350.08 L439.25 349.90 L440.09 349.71 L440.92 349.52 L441.76 349.34 L442.60 349.15 L443.44 348.96 L444.28 348.77 L445.12 348.58 L445.96 348.39 L446.80 348.21 L447.64 348.02 L448.47 347.83 L449.31 347.63 L450.15 347.44 L450.99 347.25 L451.83 347.06 L452.67 346.87 L453.51 346.68 L454.35 346.48 L455.18 346.29 L456.02 346.10 L456.86 345.90 L457.70 345.71 L458.54 345.51 L459.38 345.32 L460.22 345.12 L461.06 344.93 L461.90 344.73 L462.73 344.54 L463.57 344.34 L464.41 344.14 L465.25 343.94 L466.09 343.75 L466.93 343.55 L467.77 343.35 L468.61 343.15 L469.45 342.95 L470.28 342.75 L471.12 342.55 L471.96 342.35 L472.80 342.15 L473.64 341.95 L474.48 341.75 L475.32 341.54 L476.16 341.34 L476.99 341.14 L477.83 340.94 L478.67 340.73 L479.51 340.53 L480.35 340.32 L481.19 340.12 L482.03 339.91 L482.87 339.71 L483.71 339.50 L484.54 339.30 L485.38 339.09 L486.22 338.88 L487.06 338.68 L487.90 338.47 L488.74 338.26 L489.58 338.05 L490.42 337.85 L491.25 337.64 L492.09 337.43 L492.93 337.22 L493.77 337.01 L494.61 336.80 L495.45 336.59 L496.29 336.38 L497.13 336.16 L497.97 335.95 L498.80 335.74 L499.64 335.53 L500.48 335.31 L501.32 335.10 L502.16 334.89 L503.00 334.67 L503.84 334.46 L504.68 334.24 L505.51 334.03 L506.35 333.81 L507.19 333.60 L508.03 333.38 L508.87 333.17 L509.71 332.95 L510.55 332.73 L511.39 332.51 L512.23 332.30 L513.06 332.08 L513.90 331.86 L514.74 331.64 L515.58 331.42 L516.42 331.20 L517.26 330.98 L518.10 330.76 L518.94 330.54 L519.78 330.32 L520.61 330.10 L521.45 329.87 L522.29 329.65 L523.13 329.43 L523.97 329.21 L524.81 328.98 L525.65 328.76 L526.49 328.54 L527.32 328.31 L528.16 328.09 L529.00 327.86 L529.84 327.64 L530.68 327.41 L531.52 327.18 L532.36 326.96 L533.20 326.73 L534.04 326.50 L534.87 326.28 L535.71 326.05 L536.55 325.82 L537.39 325.59 L538.23 325.36 L539.07 325.13 L539.91 324.90 L540.75 324.67 L541.58 324.44 L542.42 324.21 L543.26 323.98 L544.10 323.75 L544.94 323.52 L545.78 323.28 L546.62 323.05 L547.46 322.82 L548.30 322.59 L549.13 322.35 L549.97 322.12 L550.81 321.88 L551.65 321.65 L552.49 321.41 L553.33 321.18 L554.17 320.94 L555.01 320.71 L555.84 320.47 L556.68 320.23 L557.52 320.00 L558.36 319.76 L559.20 319.52 L560.04 319.28 L560.88 319.05 L561.72 318.81 L562.56 318.57 L563.39 318.33 L564.23 318.09 L565.07 317.85 L565.91 317.61 L566.75 317.37 L567.59 317.13 L568.43 316.88 L569.27 316.64 L570.11 316.40 L570.94 316.16 L571.78 315.91 L572.62 315.67 L573.46 315.43 L574.30 315.18 L575.14 314.94 L575.98 314.69 L576.82 314.45 L577.65 314.20 L578.49 313.96 L579.33 313.71 L580.17 313.47 L581.01 313.22 L581.85 312.97 L582.69 312.72 L583.53 312.48 L584.37 312.23 L585.20 311.98 L586.04 311.73 L586.88 311.48 L587.72 311.23 L588.56 310.98 L589.40 310.73 L590.24 310.48 L591.08 310.23 L591.91 309.98 L592.75 309.73 L593.59 309.48 L594.43 309.22 L595.27 308.97 L596.11 308.72 L596.95 308.47 L597.79 308.21 L598.63 307.96 L599.46 307.70 L600.30 307.45 L601.14 307.19 L601.98 306.94 L602.82 306.68 L603.66 306.43 L604.50 306.17 L605.34 305.92 L606.17 305.66 L607.01 305.40 L607.85 305.14 L608.69 304.89 L609.53 304.63 L610.37 304.37 L611.21 304.11 L612.05 303.85 L612.89 303.59 L613.72 303.33 L614.56 303.07 L615.40 302.81 L616.24 302.55 L617.08 302.29 L617.92 302.03 L618.76 301.76 L619.60 301.50 L620.44 301.24 L621.27 300.98 L622.11 300.71 L622.95 300.45 L623.79 300.18 L624.63 299.92 L625.47 299.66 L626.31 299.39 L627.15 299.13 L627.98 298.86 L628.82 298.59 L629.66 298.33 L630.50 298.06 L631.34 297.79 L632.18 297.53 L633.02 297.26 L633.86 296.99 L634.70 296.72 L635.53 296.45 L636.37 296.19 L637.21 295.92 L638.05 295.65 L638.89 295.38 L639.73 295.11 L640.57 294.84 L641.41 294.56 L642.24 294.29 L643.08 294.02 L643.92 293.75 L644.76 293.48 L645.60 293.21" fill="none" stroke="#ff0000" stroke-width="5.70" stroke-dasharray="21.09 9.12" stroke-dashoffset="-7.3"/>
<path d="M352.01 402.40 L352.01 5.36" stroke="#000" stroke-opacity="0.3" stroke-width="5.70" stroke-dasharray="36.6 9.15 5.72 9.15" fill="none"/>
<path d="M396.05 402.40 L396.05 5.36" stroke="#000" stroke-opacity="0.3" stroke-width="5.70" stroke-dasharray="36.6 9.15 5.72 9.15" fill="none"/>
<path d="M462.11 402.40 L462.11 5.36" stroke="#000" stroke-opacity="0.3" stroke-width="5.70" stroke-dasharray="36.6 9.15 5.72 9.15" fill="none"/>
<path d="M139.00 406.87 L144.00 404.13 M152.82 399.57 L157.58 396.43 M164.55 389.87 L169.65 387.33 M178.58 384.61 L184.22 385.39 M191.23 391.65 L196.77 392.95 M205.67 392.40 L210.93 390.20 M217.11 382.69 L222.29 380.31 M231.25 379.30 L236.95 379.50 M246.10 383.04 L251.70 381.96 M258.49 375.87 L263.11 372.53 M269.89 366.17 L275.31 364.43 M284.49 366.19 L290.11 365.21 M298.40 362.21 L302.80 358.59 M307.41 350.43 L310.39 345.57 M315.07 337.12 L317.73 332.08 M321.64 324.06 L324.16 318.94 M328.40 310.14 L331.00 305.06 M335.46 296.40 L338.54 291.60 M344.63 284.18 L347.77 279.42 M352.46 271.16 L354.94 266.04 M358.25 257.69 L360.15 252.31 M362.69 243.63 L364.31 238.17 M366.92 229.14 L368.48 223.66 M370.92 214.84 L372.48 209.36 M375.05 200.22 L376.75 194.78 M379.42 186.10 L381.78 180.90 M385.38 171.44 L390.82 169.76 M397.93 175.45 L401.67 179.75 M404.79 188.24 L406.81 193.56 M409.70 203.07 L411.30 208.53 M413.53 217.15 L415.07 222.65 M417.65 231.78 L419.35 237.22 M422.46 246.55 L424.54 251.85 M427.72 259.73 L430.88 264.47 M436.68 272.26 L442.12 273.94 M450.71 270.16 L456.29 269.04 M465.23 266.40 L470.57 268.40 M475.65 276.18 L478.95 280.82 M484.09 289.88 L487.11 294.72 M491.75 302.15 L495.25 306.65 M501.43 313.65 L505.77 317.35 M513.54 322.36 L518.66 324.84 M527.15 328.19 L532.85 328.41 M541.64 325.41 L547.16 323.99 M556.06 321.10 L561.74 320.70 M570.76 322.78 L576.44 322.42 M585.78 320.12 L591.02 317.88 M598.45 312.35 L603.35 309.45 M611.67 305.30 L616.53 302.30 M624.20 296.78 L628.80 293.42 M636.24 287.74 L640.76 284.26 M647.76 278.76 L652.24 275.24" fill="none" stroke="#000" stroke-width="5.70"/>
</g>
<g clip-path="url(#c1)">
<path d="M645.80 368.78 L646.64 368.73 L647.48 368.69 L648.31 368.64 L649.15 368.60 L649.99 368.55 L650.83 368.51 L651.67 368.46 L652.50 368.41 L653.34 368.37 L654.18 368.32 L655.02 368.27 L655.86 368.22 L656.69 368.17 L657.53 368.12 L658.37 368.07 L659.21 368.02 L660.04 367.97 L660.88 367.92 L661.72 367.87 L662.56 367.82 L663.40 367.77 L664.23 367.71 L665.07 367.66 L665.91 367.61 L666.75 367.55 L667.59 367.50 L668.42 367.45 L669.26 367.39 L670.10 367.34 L670.94 367.28 L671.78 367.22 L672.61 367.17 L673.45 367.11 L674.29 367.05 L675.13 367.00 L675.97 366.94 L676.80 366.88 L677.64 366.82 L678.48 366.76 L679.32 366.70 L680.15 366.64 L680.99 366.58 L681.83 366.52 L682.67 366.46 L683.51 366.40 L684.34 366.34 L685.18 366.28 L686.02 366.21 L686.86 366.15 L687.70 366.09 L688.53 366.02 L689.37 365.96 L690.21 365.90 L691.05 365.83 L691.89 365.77 L692.72 365.70 L693.56 365.64 L694.40 365.57 L695.24 365.50 L696.07 365.44 L696.91 365.37 L697.75 365.30 L698.59 365.23 L699.43 365.16 L700.26 365.09 L701.10 365.02 L701.94 364.95 L702.78 364.88 L703.62 364.81 L704.45 364.74 L705.29 364.67 L706.13 364.60 L706.97 364.53 L707.81 364.45 L708.64 364.38 L709.48 364.30 L710.32 364.23 L711.16 364.16 L712.00 364.08 L712.83 364.00 L713.67 363.93 L714.51 363.85 L715.35 363.77 L716.18 363.69 L717.02 363.61 L717.86 363.53 L718.70 363.45 L719.54 363.37 L720.37 363.28 L721.21 363.20 L722.05 363.12 L722.89 363.03 L723.73 362.94 L724.56 362.85 L725.40 362.76 L726.24 362.67 L727.08 362.57 L727.92 362.48 L728.75 362.38 L729.59 362.28 L730.43 362.18 L731.27 362.08 L732.11 361.97 L732.94 361.86 L733.78 361.75 L734.62 361.63 L735.46 361.51 L736.29 361.39 L737.13 361.27 L737.97 361.14 L738.81 361.00 L739.65 360.86 L740.48 360.72 L741.32 360.58 L742.16 360.42 L743.00 360.27 L743.84 360.10 L744.67 359.93 L745.51 359.76 L746.35 359.58 L747.19 359.39 L748.03 359.20 L748.86 359.00 L749.70 358.79 L750.54 358.58 L751.38 358.36 L752.22 358.13 L753.05 357.90 L753.89 357.66 L754.73 357.41 L755.57 357.15 L756.40 356.89 L757.24 356.62 L758.08 356.34 L758.92 356.05 L759.76 355.76 L760.59 355.47 L761.43 355.16 L762.27 354.85 L763.11 354.54 L763.95 354.22 L764.78 353.90 L765.62 353.57 L766.46 353.24 L767.30 352.91 L768.14 352.57 L768.97 352.23 L769.81 351.90 L770.65 351.56 L771.49 351.22 L772.33 350.89 L773.16 350.55 L774.00 350.22 L774.84 349.90 L775.68 349.58 L776.51 349.26 L777.35 348.95 L778.19 348.65 L779.03 348.36 L779.87 348.07 L780.70 347.80 L781.54 347.53 L782.38 347.28 L783.22 347.04 L784.06 346.81 L784.89 346.59 L785.73 346.39 L786.57 346.20 L787.41 346.02 L788.25 345.86 L789.08 345.72 L789.92 345.58 L790.76 345.47 L791.60 345.37 L792.44 345.28 L793.27 345.21 L794.11 345.15 L794.95 345.11 L795.79 345.08 L796.62 345.07 L797.46 345.07 L798.30 345.08 L799.14 345.11 L799.98 345.14 L800.81 345.19 L801.65 345.25 L802.49 345.32 L803.33 345.39 L804.17 345.48 L805.00 345.57 L805.84 345.67 L806.68 345.77 L807.52 345.88 L808.36 345.99 L809.19 346.11 L810.03 346.23 L810.87 346.35 L811.71 346.47 L812.55 346.59 L813.38 346.71 L814.22 346.83 L815.06 346.95 L815.90 347.06 L816.73 347.17 L817.57 347.28 L818.41 347.38 L819.25 347.48 L820.09 347.57 L820.92 347.65 L821.76 347.74 L822.60 347.81 L823.44 347.88 L824.28 347.94 L825.11 347.99 L825.95 348.04 L826.79 348.08 L827.63 348.11 L828.47 348.14 L829.30 348.15 L830.14 348.16 L830.98 348.17 L831.82 348.17 L832.66 348.16 L833.49 348.14 L834.33 348.11 L835.17 348.08 L836.01 348.05 L836.85 348.01 L837.68 347.96 L838.52 347.91 L839.36 347.85 L840.20 347.78 L841.03 347.71 L841.87 347.64 L842.71 347.56 L843.55 347.48 L844.39 347.39 L845.22 347.30 L846.06 347.21 L846.90 347.11 L847.74 347.01 L848.58 346.90 L849.41 346.80 L850.25 346.69 L851.09 346.58 L851.93 346.46 L852.77 346.35 L853.60 346.23 L854.44 346.11 L855.28 345.99 L856.12 345.86 L856.96 345.74 L857.79 345.61 L858.63 345.48 L859.47 345.35 L860.31 345.22 L861.14 345.09 L861.98 344.96 L862.82 344.83 L863.66 344.69 L864.50 344.56 L865.33 344.42 L866.17 344.29 L867.01 344.15 L867.85 344.01 L868.69 343.87 L869.52 343.73 L870.36 343.59 L871.20 343.45 L872.04 343.31 L872.88 343.17 L873.71 343.03 L874.55 342.89 L875.39 342.75 L876.23 342.60 L877.07 342.46 L877.90 342.32 L878.74 342.17 L879.58 342.03 L880.42 341.89 L881.25 341.74 L882.09 341.59 L882.93 341.45 L883.77 341.30 L884.61 341.16 L885.44 341.01 L886.28 340.86 L887.12 340.72 L887.96 340.57 L888.80 340.42 L889.63 340.27 L890.47 340.12 L891.31 339.97 L892.15 339.82 L892.99 339.67 L893.82 339.52 L894.66 339.37 L895.50 339.22 L896.34 339.07 L897.18 338.92 L898.01 338.77 L898.85 338.62 L899.69 338.46 L900.53 338.31 L901.36 338.16 L902.20 338.00 L903.04 337.85 L903.88 337.70 L904.72 337.54 L905.55 337.39 L906.39 337.23 L907.23 337.08 L908.07 336.92 L908.91 336.76 L909.74 336.61 L910.58 336.45 L911.42 336.29 L912.26 336.14 L913.10 335.98 L913.93 335.82 L914.77 335.66 L915.61 335.50 L916.45 335.35 L917.29 335.19 L918.12 335.03 L918.96 334.87 L919.80 334.71 L920.64 334.55 L921.47 334.39 L922.31 334.22 L923.15 334.06 L923.99 333.90 L924.83 333.74 L925.66 333.58 L926.50 333.41 L927.34 333.25 L928.18 333.09 L929.02 332.92 L929.85 332.76 L930.69 332.60 L931.53 332.43 L932.37 332.27 L933.21 332.10 L934.04 331.93 L934.88 331.77 L935.72 331.60 L936.56 331.44 L937.40 331.27 L938.23 331.10 L939.07 330.93 L939.91 330.77 L940.75 330.60 L941.58 330.43 L942.42 330.26 L943.26 330.09 L944.10 329.92 L944.94 329.75 L945.77 329.58 L946.61 329.41 L947.45 329.24 L948.29 329.07 L949.13 328.90 L949.96 328.73 L950.80 328.56 L951.64 328.38 L952.48 328.21 L953.32 328.04 L954.15 327.87 L954.99 327.69 L955.83 327.52 L956.67 327.34 L957.51 327.17 L958.34 327.00 L959.18 326.82 L960.02 326.65 L960.86 326.47 L961.69 326.29 L962.53 326.12 L963.37 325.94 L964.21 325.76 L965.05 325.59 L965.88 325.41 L966.72 325.23 L967.56 325.05 L968.40 324.88 L969.24 324.70 L970.07 324.52 L970.91 324.34 L971.75 324.16 L972.59 323.98 L973.43 323.80 L974.26 323.62 L975.10 323.44 L975.94 323.26 L976.78 323.08 L977.62 322.89 L978.45 322.71 L979.29 322.53 L980.13 322.35 L980.97 322.16 L981.80 321.98 L982.64 321.80 L983.48 321.61 L984.32 321.43 L985.16 321.24 L985.99 321.06 L986.83 320.87 L987.67 320.69 L988.51 320.50 L989.35 320.32 L990.18 320.13 L991.02 319.95 L991.86 319.76 L992.70 319.57 L993.54 319.38 L994.37 319.20 L995.21 319.01 L996.05 318.82 L996.89 318.63 L997.73 318.44 L998.56 318.25 L999.40 318.06 L1000.24 317.87 L1001.08 317.68 L1001.91 317.49 L1002.75 317.30 L1003.59 317.11 L1004.43 316.92 L1005.27 316.73 L1006.10 316.54 L1006.94 316.34 L1007.78 316.15 L1008.62 315.96 L1009.46 315.77 L1010.29 315.57 L1011.13 315.38 L1011.97 315.18 L1012.81 314.99 L1013.65 314.80 L1014.48 314.60 L1015.32 314.40 L1016.16 314.21 L1017.00 314.01 L1017.84 313.82 L1018.67 313.62 L1019.51 313.42 L1020.35 313.23 L1021.19 313.03 L1022.02 312.83 L1022.86 312.64 L1023.70 312.44 L1024.54 312.24 L1025.38 312.04 L1026.21 311.84 L1027.05 311.64 L1027.89 311.44 L1028.73 311.24 L1029.57 311.04 L1030.40 310.84 L1031.24 310.64 L1032.08 310.44 L1032.92 310.24 L1033.76 310.04 L1034.59 309.83 L1035.43 309.63 L1036.27 309.43 L1037.11 309.23 L1037.95 309.02 L1038.78 308.82 L1039.62 308.62 L1040.46 308.41 L1041.30 308.21 L1042.13 308.00 L1042.97 307.80 L1043.81 307.59 L1044.65 307.39 L1045.49 307.18 L1046.32 306.98 L1047.16 306.77 L1048.00 306.57 L1048.84 306.36 L1049.68 306.15 L1050.51 305.94 L1051.35 305.74 L1052.19 305.53 L1053.03 305.32 L1053.87 305.11 L1054.70 304.90 L1055.54 304.69 L1056.38 304.48 L1057.22 304.27 L1058.06 304.06 L1058.89 303.85 L1059.73 303.64 L1060.57 303.43 L1061.41 303.22 L1062.24 303.01 L1063.08 302.80 L1063.92 302.59 L1064.76 302.38 L1065.60 302.16 L1066.43 301.95 L1067.27 301.74 L1068.11 301.52 L1068.95 301.31 L1069.79 301.10 L1070.62 300.88 L1071.46 300.67 L1072.30 300.45 L1073.14 300.24 L1073.98 300.02 L1074.81 299.81 L1075.65 299.59 L1076.49 299.38 L1077.33 299.16 L1078.16 298.94 L1079.00 298.73 L1079.84 298.51 L1080.68 298.29 L1081.52 298.07 L1082.35 297.86 L1083.19 297.64 L1084.03 297.42 L1084.87 297.20 L1085.71 296.98 L1086.54 296.76 L1087.38 296.54 L1088.22 296.32 L1089.06 296.10 L1089.90 295.88 L1090.73 295.66 L1091.57 295.44 L1092.41 295.22 L1093.25 295.00 L1094.09 294.77 L1094.92 294.55 L1095.76 294.33 L1096.60 294.11 L1097.44 293.88 L1098.28 293.66 L1099.11 293.44 L1099.95 293.21 L1100.79 292.99 L1101.63 292.76 L1102.46 292.54 L1103.30 292.32 L1104.14 292.09 L1104.98 291.86 L1105.82 291.64 L1106.65 291.41 L1107.49 291.19 L1108.33 290.96 L1109.17 290.73 L1110.01 290.51 L1110.84 290.28 L1111.68 290.05 L1112.52 289.82 L1113.36 289.60 L1114.20 289.37 L1115.03 289.14 L1115.87 288.91 L1116.71 288.68 L1117.55 288.45 L1118.38 288.22 L1119.22 287.99 L1120.06 287.76 L1120.90 287.53 L1121.74 287.30 L1122.57 287.07 L1123.41 286.84 L1124.25 286.61 L1125.09 286.37 L1125.93 286.14 L1126.76 285.91 L1127.60 285.68 L1128.44 285.44 L1129.28 285.21 L1130.12 284.98 L1130.95 284.74 L1131.79 284.51 L1132.63 284.28 L1133.47 284.04 L1134.31 283.81 L1135.14 283.57 L1135.98 283.34 L1136.82 283.10 L1137.66 282.86 L1138.50 282.63 L1139.33 282.39 L1140.17 282.16 L1141.01 281.92 L1141.85 281.68 L1142.68 281.44 L1143.52 281.21 L1144.36 280.97 L1145.20 280.73 L1146.04 280.49 L1146.87 280.25 L1147.71 280.01 L1148.55 279.77 L1148.55 279.77 L1147.71 280.01 L1146.87 280.25 L1146.04 280.49 L1145.20 280.73 L1144.36 280.97 L1143.52 281.21 L1142.68 281.44 L1141.85 281.68 L1141.01 281.92 L1140.17 282.16 L1139.33 282.39 L1138.50 282.63 L1137.66 282.86 L1136.82 283.10 L1135.98 283.34 L1135.14 283.57 L1134.31 283.81 L1133.47 284.04 L1132.63 284.28 L1131.79 284.51 L1130.95 284.74 L1130.12 284.98 L1129.28 285.21 L1128.44 285.44 L1127.60 285.68 L1126.76 285.91 L1125.93 286.14 L1125.09 286.37 L1124.25 286.61 L1123.41 286.84 L1122.57 287.07 L1121.74 287.30 L1120.90 287.53 L1120.06 287.76 L1119.22 287.99 L1118.38 288.22 L1117.55 288.45 L1116.71 288.68 L1115.87 288.91 L1115.03 289.14 L1114.20 289.37 L1113.36 289.60 L1112.52 289.82 L1111.68 290.05 L1110.84 290.28 L1110.01 290.51 L1109.17 290.73 L1108.33 290.96 L1107.49 291.19 L1106.65 291.41 L1105.82 291.64 L1104.98 291.86 L1104.14 292.09 L1103.30 292.32 L1102.46 292.54 L1101.63 292.76 L1100.79 292.99 L1099.95 293.21 L1099.11 293.44 L1098.28 293.66 L1097.44 293.88 L1096.60 294.11 L1095.76 294.33 L1094.92 294.55 L1094.09 294.77 L1093.25 295.00 L1092.41 295.22 L1091.57 295.44 L1090.73 295.66 L1089.90 295.88 L1089.06 296.10 L1088.22 296.32 L1087.38 296.54 L1086.54 296.76 L1085.71 296.98 L1084.87 297.20 L1084.03 297.42 L1083.19 297.64 L1082.35 297.86 L1081.52 298.07 L1080.68 298.29 L1079.84 298.51 L1079.00 298.73 L1078.16 298.94 L1077.33 299.16 L1076.49 299.38 L1075.65 299.59 L1074.81 299.81 L1073.98 300.02 L1073.14 300.24 L1072.30 300.45 L1071.46 300.67 L1070.62 300.88 L1069.79 301.10 L1068.95 301.31 L1068.11 301.52 L1067.27 301.74 L1066.43 301.95 L1065.60 302.16 L1064.76 302.38 L1063.92 302.59 L1063.08 302.80 L1062.24 303.01 L1061.41 303.22 L1060.57 303.43 L1059.73 303.64 L1058.89 303.85 L1058.06 304.06 L1057.22 304.27 L1056.38 304.48 L1055.54 304.69 L1054.70 304.90 L1053.87 305.11 L1053.03 305.32 L1052.19 305.53 L1051.35 305.74 L1050.51 305.94 L1049.68 306.15 L1048.84 306.36 L1048.00 306.57 L1047.16 306.77 L1046.32 306.98 L1045.49 307.18 L1044.65 307.39 L1043.81 307.59 L1042.97 307.80 L1042.13 308.00 L1041.30 308.21 L1040.46 308.41 L1039.62 308.62 L1038.78 308.82 L1037.95 309.02 L1037.11 309.23 L1036.27 309.43 L1035.43 309.63 L1034.59 309.83 L1033.76 310.04 L1032.92 310.24 L1032.08 310.44 L1031.24 310.64 L1030.40 310.84 L1029.57 311.04 L1028.73 311.24 L1027.89 311.44 L1027.05 311.64 L1026.21 311.84 L1025.38 312.04 L1024.54 312.24 L1023.70 312.44 L1022.86 312.64 L1022.02 312.83 L1021.19 313.03 L1020.35 313.23 L1019.51 313.42 L1018.67 313.62 L1017.84 313.82 L1017.00 314.01 L1016.16 314.21 L1015.32 314.40 L1014.48 314.60 L1013.65 314.80 L1012.81 314.99 L1011.97 315.18 L1011.13 315.38 L1010.29 315.57 L1009.46 315.77 L1008.62 315.96 L1007.78 316.15 L1006.94 316.34 L1006.10 316.54 L1005.27 316.73 L1004.43 316.92 L1003.59 317.11 L1002.75 317.30 L1001.91 317.49 L1001.08 317.68 L1000.24 317.87 L999.40 318.06 L998.56 318.25 L997.73 318.44 L996.89 318.63 L996.05 318.82 L995.21 319.01 L994.37 319.20 L993.54 319.38 L992.70 319.57 L991.86 319.76 L991.02 319.95 L990.18 320.13 L989.35 320.32 L988.51 320.50 L987.67 320.69 L986.83 320.87 L985.99 321.06 L985.16 321.24 L984.32 321.43 L983.48 321.61 L982.64 321.80 L981.80 321.98 L980.97 322.16 L980.13 322.35 L979.29 322.53 L978.45 322.71 L977.62 322.89 L976.78 323.08 L975.94 323.26 L975.10 323.44 L974.26 323.62 L973.43 323.80 L972.59 323.98 L971.75 324.16 L970.91 324.34 L970.07 324.52 L969.24 324.70 L968.40 324.88 L967.56 325.05 L966.72 325.23 L965.88 325.41 L965.05 325.59 L964.21 325.76 L963.37 325.94 L962.53 326.12 L961.69 326.29 L960.86 326.47 L960.02 326.65 L959.18 326.82 L958.34 327.00 L957.51 327.17 L956.67 327.34 L955.83 327.52 L954.99 327.69 L954.15 327.87 L953.32 328.04 L952.48 328.21 L951.64 328.38 L950.80 328.56 L949.96 328.73 L949.13 328.90 L948.29 329.07 L947.45 329.24 L946.61 329.41 L945.77 329.58 L944.94 329.75 L944.10 329.92 L943.26 330.09 L942.42 330.26 L941.58 330.43 L940.75 330.60 L939.91 330.77 L939.07 330.93 L938.23 331.10 L937.40 331.27 L936.56 331.44 L935.72 331.60 L934.88 331.77 L934.04 331.93 L933.21 332.10 L932.37 332.27 L931.53 332.43 L930.69 332.60 L929.85 332.76 L929.02 332.92 L928.18 333.09 L927.34 333.25 L926.50 333.41 L925.66 333.58 L924.83 333.74 L923.99 333.90 L923.15 334.06 L922.31 334.22 L921.47 334.39 L920.64 334.55 L919.80 334.71 L918.96 334.87 L918.12 335.03 L917.29 335.19 L916.45 335.35 L915.61 335.50 L914.77 335.66 L913.93 335.82 L913.10 335.98 L912.26 336.14 L911.42 336.29 L910.58 336.45 L909.74 336.61 L908.91 336.76 L908.07 336.92 L907.23 337.08 L906.39 337.23 L905.55 337.39 L904.72 337.54 L903.88 337.70 L903.04 337.85 L902.20 338.00 L901.36 338.16 L900.53 338.31 L899.69 338.46 L898.85 338.62 L898.01 338.77 L897.18 338.92 L896.34 339.07 L895.50 339.22 L894.66 339.37 L893.82 339.52 L892.99 339.67 L892.15 339.82 L891.31 339.97 L890.47 340.12 L889.63 340.27 L888.80 340.42 L887.96 340.57 L887.12 340.72 L886.28 340.86 L885.44 341.01 L884.61 341.16 L883.77 341.30 L882.93 341.45 L882.09 341.60 L881.25 341.74 L880.42 341.89 L879.58 342.03 L878.74 342.18 L877.90 342.32 L877.07 342.46 L876.23 342.61 L875.39 342.75 L874.55 342.89 L873.71 343.04 L872.88 343.18 L872.04 343.32 L871.20 343.46 L870.36 343.60 L869.52 343.75 L868.69 343.89 L867.85 344.03 L867.01 344.17 L866.17 344.31 L865.33 344.44 L864.50 344.58 L863.66 344.72 L862.82 344.86 L861.98 345.00 L861.14 345.14 L860.31 345.27 L859.47 345.41 L858.63 345.55 L857.79 345.68 L856.96 345.82 L856.12 345.96 L855.28 346.09 L854.44 346.23 L853.60 346.36 L852.77 346.49 L851.93 346.63 L851.09 346.76 L850.25 346.89 L849.41 347.03 L848.58 347.16 L847.74 347.29 L846.90 347.42 L846.06 347.56 L845.22 347.69 L844.39 347.82 L843.55 347.95 L842.71 348.08 L841.87 348.21 L841.03 348.34 L840.20 348.47 L839.36 348.60 L838.52 348.72 L837.68 348.85 L836.85 348.98 L836.01 349.11 L835.17 349.24 L834.33 349.36 L833.49 349.49 L832.66 349.61 L831.82 349.74 L830.98 349.87 L830.14 349.99 L829.30 350.12 L828.47 350.24 L827.63 350.36 L826.79 350.49 L825.95 350.61 L825.11 350.73 L824.28 350.86 L823.44 350.98 L822.60 351.10 L821.76 351.22 L820.92 351.34 L820.09 351.47 L819.25 351.59 L818.41 351.71 L817.57 351.83 L816.73 351.95 L815.90 352.06 L815.06 352.18 L814.22 352.30 L813.38 352.42 L812.55 352.54 L811.71 352.66 L810.87 352.77 L810.03 352.89 L809.19 353.01 L808.36 353.12 L807.52 353.24 L806.68 353.35 L805.84 353.47 L805.00 353.58 L804.17 353.70 L803.33 353.81 L802.49 353.93 L801.65 354.04 L800.81 354.15 L799.98 354.26 L799.14 354.38 L798.30 354.49 L797.46 354.60 L796.62 354.71 L795.79 354.82 L794.95 354.93 L794.11 355.04 L793.27 355.15 L792.44 355.26 L791.60 355.37 L790.76 355.48 L789.92 355.59 L789.08 355.70 L788.25 355.80 L787.41 355.91 L786.57 356.02 L785.73 356.12 L784.89 356.23 L784.06 356.34 L783.22 356.44 L782.38 356.55 L781.54 356.65 L780.70 356.76 L779.87 356.86 L779.03 356.96 L778.19 357.07 L777.35 357.17 L776.51 357.27 L775.68 357.38 L774.84 357.48 L774.00 357.58 L773.16 357.68 L772.33 357.78 L771.49 357.88 L770.65 357.98 L769.81 358.08 L768.97 358.18 L768.14 358.28 L767.30 358.38 L766.46 358.48 L765.62 358.58 L764.78 358.67 L763.95 358.77 L763.11 358.87 L762.27 358.96 L761.43 359.06 L760.59 359.16 L759.76 359.25 L758.92 359.35 L758.08 359.44 L757.24 359.54 L756.40 359.63 L755.57 359.72 L754.73 359.82 L753.89 359.91 L753.05 360.00 L752.22 360.10 L751.38 360.19 L750.54 360.28 L749.70 360.37 L748.86 360.46 L748.03 360.55 L747.19 360.64 L746.35 360.73 L745.51 360.82 L744.67 360.91 L743.84 361.00 L743.00 361.09 L742.16 361.17 L741.32 361.26 L740.48 361.35 L739.65 361.43 L738.81 361.52 L737.97 361.61 L737.13 361.69 L736.29 361.78 L735.46 361.86 L734.62 361.95 L733.78 362.03 L732.94 362.12 L732.11 362.20 L731.27 362.28 L730.43 362.36 L729.59 362.45 L728.75 362.53 L727.92 362.61 L727.08 362.69 L726.24 362.77 L725.40 362.85 L724.56 362.93 L723.73 363.01 L722.89 363.09 L722.05 363.17 L721.21 363.25 L720.37 363.33 L719.54 363.41 L718.70 363.48 L717.86 363.56 L717.02 363.64 L716.18 363.71 L715.35 363.79 L714.51 363.87 L713.67 363.94 L712.83 364.02 L712.00 364.09 L711.16 364.16 L710.32 364.24 L709.48 364.31 L708.64 364.39 L707.81 364.46 L706.97 364.53 L706.13 364.60 L705.29 364.67 L704.45 364.74 L703.62 364.82 L702.78 364.89 L701.94 364.96 L701.10 365.03 L700.26 365.09 L699.43 365.16 L698.59 365.23 L697.75 365.30 L696.91 365.37 L696.07 365.44 L695.24 365.50 L694.40 365.57 L693.56 365.64 L692.72 365.70 L691.89 365.77 L691.05 365.83 L690.21 365.90 L689.37 365.96 L688.53 366.02 L687.70 366.09 L686.86 366.15 L686.02 366.21 L685.18 366.28 L684.34 366.34 L683.51 366.40 L682.67 366.46 L681.83 366.52 L680.99 366.58 L680.15 366.64 L679.32 366.70 L678.48 366.76 L677.64 366.82 L676.80 366.88 L675.97 366.94 L675.13 367.00 L674.29 367.05 L673.45 367.11 L672.61 367.17 L671.78 367.22 L670.94 367.28 L670.10 367.34 L669.26 367.39 L668.42 367.45 L667.59 367.50 L666.75 367.55 L665.91 367.61 L665.07 367.66 L664.23 367.71 L663.40 367.77 L662.56 367.82 L661.72 367.87 L660.88 367.92 L660.04 367.97 L659.21 368.02 L658.37 368.07 L657.53 368.12 L656.69 368.17 L655.86 368.22 L655.02 368.27 L654.18 368.32 L653.34 368.37 L652.50 368.41 L651.67 368.46 L650.83 368.51 L649.99 368.55 L649.15 368.60 L648.31 368.64 L647.48 368.69 L646.64 368.73 L645.80 368.78 Z" fill="#0000ff" fill-opacity="0.2" stroke="#0000ff" stroke-opacity="0.2" stroke-width="3.8" stroke-linejoin="round"/>
<path d="M645.80 368.78 L646.64 368.73 L647.48 368.69 L648.31 368.64 L649.15 368.60 L649.99 368.55 L650.83 368.51 L651.67 368.46 L652.50 368.41 L653.34 368.37 L654.18 368.32 L655.02 368.27 L655.86 368.22 L656.69 368.17 L657.53 368.12 L658.37 368.07 L659.21 368.02 L660.04 367.97 L660.88 367.92 L661.72 367.87 L662.56 367.82 L663.40 367.77 L664.23 367.71 L665.07 367.66 L665.91 367.61 L666.75 367.55 L667.59 367.50 L668.42 367.45 L669.26 367.39 L670.10 367.34 L670.94 367.28 L671.78 367.22 L672.61 367.17 L673.45 367.11 L674.29 367.05 L675.13 367.00 L675.97 366.94 L676.80 366.88 L677.64 366.82 L678.48 366.76 L679.32 366.70 L680.15 366.64 L680.99 366.58 L681.83 366.52 L682.67 366.46 L683.51 366.40 L684.34 366.34 L685.18 366.28 L686.02 366.21 L686.86 366.15 L687.70 366.09 L688.53 366.02 L689.37 365.96 L690.21 365.90 L691.05 365.83 L691.89 365.77 L692.72 365.70 L693.56 365.64 L694.40 365.57 L695.24 365.50 L696.07 365.44 L696.91 365.37 L697.75 365.30 L698.59 365.23 L699.43 365.16 L700.26 365.09 L701.10 365.03 L701.94 364.96 L702.78 364.89 L703.62 364.82 L704.45 364.74 L705.29 364.67 L706.13 364.60 L706.97 364.53 L707.81 364.46 L708.64 364.39 L709.48 364.31 L710.32 364.24 L711.16 364.16 L712.00 364.09 L712.83 364.02 L713.67 363.94 L714.51 363.87 L715.35 363.79 L716.18 363.71 L717.02 363.64 L717.86 363.56 L718.70 363.48 L719.54 363.41 L720.37 363.33 L721.21 363.25 L722.05 363.17 L722.89 363.09 L723.73 363.01 L724.56 362.93 L725.40 362.85 L726.24 362.77 L727.08 362.69 L727.92 362.61 L728.75 362.53 L729.59 362.45 L730.43 362.36 L731.27 362.28 L732.11 362.20 L732.94 362.12 L733.78 362.03 L734.62 361.95 L735.46 361.86 L736.29 361.78 L737.13 361.69 L737.97 361.61 L738.81 361.52 L739.65 361.43 L740.48 361.35 L741.32 361.26 L742.16 361.17 L743.00 361.09 L743.84 361.00 L744.67 360.91 L745.51 360.82 L746.35 360.73 L747.19 360.64 L748.03 360.55 L748.86 360.46 L749.70 360.37 L750.54 360.28 L751.38 360.19 L752.22 360.09 L753.05 360.00 L753.89 359.91 L754.73 359.82 L755.57 359.72 L756.40 359.63 L757.24 359.54 L758.08 359.44 L758.92 359.35 L759.76 359.25 L760.59 359.16 L761.43 359.06 L762.27 358.96 L763.11 358.87 L763.95 358.77 L764.78 358.67 L765.62 358.58 L766.46 358.48 L767.30 358.38 L768.14 358.28 L768.97 358.18 L769.81 358.08 L770.65 357.98 L771.49 357.88 L772.33 357.78 L773.16 357.68 L774.00 357.58 L774.84 357.48 L775.68 357.37 L776.51 357.27 L777.35 357.17 L778.19 357.07 L779.03 356.96 L779.87 356.86 L780.70 356.75 L781.54 356.65 L782.38 356.54 L783.22 356.44 L784.06 356.33 L784.89 356.23 L785.73 356.12 L786.57 356.01 L787.41 355.91 L788.25 355.80 L789.08 355.69 L789.92 355.58 L790.76 355.47 L791.60 355.36 L792.44 355.25 L793.27 355.14 L794.11 355.03 L794.95 354.92 L795.79 354.80 L796.62 354.69 L797.46 354.58 L798.30 354.47 L799.14 354.35 L799.98 354.24 L800.81 354.12 L801.65 354.00 L802.49 353.89 L803.33 353.77 L804.17 353.65 L805.00 353.53 L805.84 353.41 L806.68 353.29 L807.52 353.17 L808.36 353.05 L809.19 352.92 L810.03 352.80 L810.87 352.67 L811.71 352.55 L812.55 352.42 L813.38 352.29 L814.22 352.16 L815.06 352.03 L815.90 351.89 L816.73 351.76 L817.57 351.62 L818.41 351.48 L819.25 351.34 L820.09 351.20 L820.92 351.06 L821.76 350.91 L822.60 350.76 L823.44 350.61 L824.28 350.46 L825.11 350.30 L825.95 350.15 L826.79 349.98 L827.63 349.82 L828.47 349.65 L829.30 349.48 L830.14 349.31 L830.98 349.13 L831.82 348.95 L832.66 348.76 L833.49 348.57 L834.33 348.37 L835.17 348.18 L836.01 347.97 L836.85 347.76 L837.68 347.55 L838.52 347.33 L839.36 347.10 L840.20 346.87 L841.03 346.63 L841.87 346.39 L842.71 346.14 L843.55 345.88 L844.39 345.61 L845.22 345.34 L846.06 345.06 L846.90 344.77 L847.74 344.48 L848.58 344.18 L849.41 343.86 L850.25 343.54 L851.09 343.21 L851.93 342.87 L852.77 342.53 L853.60 342.17 L854.44 341.80 L855.28 341.43 L856.12 341.04 L856.96 340.64 L857.79 340.24 L858.63 339.82 L859.47 339.39 L860.31 338.96 L861.14 338.51 L861.98 338.05 L862.82 337.58 L863.66 337.11 L864.50 336.62 L865.33 336.12 L866.17 335.61 L867.01 335.09 L867.85 334.56 L868.69 334.02 L869.52 333.47 L870.36 332.91 L871.20 332.35 L872.04 331.77 L872.88 331.19 L873.71 330.60 L874.55 330.00 L875.39 329.39 L876.23 328.78 L877.07 328.16 L877.90 327.53 L878.74 326.90 L879.58 326.27 L880.42 325.63 L881.25 324.99 L882.09 324.35 L882.93 323.70 L883.77 323.05 L884.61 322.40 L885.44 321.76 L886.28 321.11 L887.12 320.47 L887.96 319.82 L888.80 319.18 L889.63 318.55 L890.47 317.92 L891.31 317.30 L892.15 316.68 L892.99 316.07 L893.82 315.47 L894.66 314.88 L895.50 314.30 L896.34 313.73 L897.18 313.17 L898.01 312.62 L898.85 312.09 L899.69 311.57 L900.53 311.07 L901.36 310.58 L902.20 310.11 L903.04 309.65 L903.88 309.22 L904.72 308.80 L905.55 308.40 L906.39 308.02 L907.23 307.66 L908.07 307.32 L908.91 307.00 L909.74 306.70 L910.58 306.42 L911.42 306.17 L912.26 305.93 L913.10 305.72 L913.93 305.53 L914.77 305.36 L915.61 305.22 L916.45 305.10 L917.29 305.00 L918.12 304.92 L918.96 304.86 L919.80 304.82 L920.64 304.81 L921.47 304.82 L922.31 304.84 L923.15 304.89 L923.99 304.96 L924.83 305.05 L925.66 305.15 L926.50 305.28 L927.34 305.42 L928.18 305.58 L929.02 305.75 L929.85 305.94 L930.69 306.14 L931.53 306.36 L932.37 306.59 L933.21 306.84 L934.04 307.09 L934.88 307.36 L935.72 307.64 L936.56 307.92 L937.40 308.22 L938.23 308.52 L939.07 308.83 L939.91 309.14 L940.75 309.46 L941.58 309.78 L942.42 310.11 L943.26 310.44 L944.10 310.77 L944.94 311.10 L945.77 311.43 L946.61 311.76 L947.45 312.09 L948.29 312.42 L949.13 312.74 L949.96 313.07 L950.80 313.38 L951.64 313.70 L952.48 314.00 L953.32 314.30 L954.15 314.60 L954.99 314.89 L955.83 315.17 L956.67 315.44 L957.51 315.71 L958.34 315.97 L959.18 316.21 L960.02 316.45 L960.86 316.68 L961.69 316.91 L962.53 317.12 L963.37 317.32 L964.21 317.51 L965.05 317.69 L965.88 317.86 L966.72 318.02 L967.56 318.17 L968.40 318.31 L969.24 318.44 L970.07 318.56 L970.91 318.67 L971.75 318.77 L972.59 318.86 L973.43 318.94 L974.26 319.00 L975.10 319.06 L975.94 319.11 L976.78 319.15 L977.62 319.18 L978.45 319.20 L979.29 319.22 L980.13 319.22 L980.97 319.21 L981.80 319.20 L982.64 319.18 L983.48 319.15 L984.32 319.11 L985.16 319.07 L985.99 319.02 L986.83 318.96 L987.67 318.89 L988.51 318.82 L989.35 318.74 L990.18 318.66 L991.02 318.57 L991.86 318.47 L992.70 318.37 L993.54 318.26 L994.37 318.15 L995.21 318.03 L996.05 317.91 L996.89 317.79 L997.73 317.66 L998.56 317.53 L999.40 317.39 L1000.24 317.25 L1001.08 317.10 L1001.91 316.96 L1002.75 316.81 L1003.59 316.65 L1004.43 316.50 L1005.27 316.34 L1006.10 316.18 L1006.94 316.01 L1007.78 315.84 L1008.62 315.68 L1009.46 315.51 L1010.29 315.33 L1011.13 315.16 L1011.97 314.98 L1012.81 314.81 L1013.65 314.63 L1014.48 314.45 L1015.32 314.26 L1016.16 314.08 L1017.00 313.90 L1017.84 313.71 L1018.67 313.52 L1019.51 313.34 L1020.35 313.15 L1021.19 312.96 L1022.02 312.77 L1022.86 312.57 L1023.70 312.38 L1024.54 312.19 L1025.38 311.99 L1026.21 311.80 L1027.05 311.60 L1027.89 311.41 L1028.73 311.21 L1029.57 311.01 L1030.40 310.82 L1031.24 310.62 L1032.08 310.42 L1032.92 310.22 L1033.76 310.02 L1034.59 309.82 L1035.43 309.62 L1036.27 309.42 L1037.11 309.22 L1037.95 309.01 L1038.78 308.81 L1039.62 308.61 L1040.46 308.41 L1041.30 308.20 L1042.13 308.00 L1042.97 307.80 L1043.81 307.59 L1044.65 307.39 L1045.49 307.18 L1046.32 306.97 L1047.16 306.77 L1048.00 306.56 L1048.84 306.36 L1049.68 306.15 L1050.51 305.94 L1051.35 305.73 L1052.19 305.53 L1053.03 305.32 L1053.87 305.11 L1054.70 304.90 L1055.54 304.69 L1056.38 304.48 L1057.22 304.27 L1058.06 304.06 L1058.89 303.85 L1059.73 303.64 L1060.57 303.43 L1061.41 303.22 L1062.24 303.01 L1063.08 302.80 L1063.92 302.59 L1064.76 302.38 L1065.60 302.16 L1066.43 301.95 L1067.27 301.74 L1068.11 301.52 L1068.95 301.31 L1069.79 301.10 L1070.62 300.88 L1071.46 300.67 L1072.30 300.45 L1073.14 300.24 L1073.98 300.02 L1074.81 299.81 L1075.65 299.59 L1076.49 299.38 L1077.33 299.16 L1078.16 298.94 L1079.00 298.73 L1079.84 298.51 L1080.68 298.29 L1081.52 298.07 L1082.35 297.86 L1083.19 297.64 L1084.03 297.42 L1084.87 297.20 L1085.71 296.98 L1086.54 296.76 L1087.38 296.54 L1088.22 296.32 L1089.06 296.10 L1089.90 295.88 L1090.73 295.66 L1091.57 295.44 L1092.41 295.22 L1093.25 295.00 L1094.09 294.77 L1094.92 294.55 L1095.76 294.33 L1096.60 294.11 L1097.44 293.88 L1098.28 293.66 L1099.11 293.44 L1099.95 293.21 L1100.79 292.99 L1101.63 292.76 L1102.46 292.54 L1103.30 292.32 L1104.14 292.09 L1104.98 291.86 L1105.82 291.64 L1106.65 291.41 L1107.49 291.19 L1108.33 290.96 L1109.17 290.73 L1110.01 290.51 L1110.84 290.28 L1111.68 290.05 L1112.52 289.82 L1113.36 289.60 L1114.20 289.37 L1115.03 289.14 L1115.87 288.91 L1116.71 288.68 L1117.55 288.45 L1118.38 288.22 L1119.22 287.99 L1120.06 287.76 L1120.90 287.53 L1121.74 287.30 L1122.57 287.07 L1123.41 286.84 L1124.25 286.61 L1125.09 286.37 L1125.93 286.14 L1126.76 285.91 L1127.60 285.68 L1128.44 285.44 L1129.28 285.21 L1130.12 284.98 L1130.95 284.74 L1131.79 284.51 L1132.63 284.28 L1133.47 284.04 L1134.31 283.81 L1135.14 283.57 L1135.98 283.34 L1136.82 283.10 L1137.66 282.86 L1138.50 282.63 L1139.33 282.39 L1140.17 282.16 L1141.01 281.92 L1141.85 281.68 L1142.68 281.44 L1143.52 281.21 L1144.36 280.97 L1145.20 280.73 L1146.04 280.49 L1146.87 280.25 L1147.71 280.01 L1148.55 279.77 L1148.55 279.77 L1147.71 280.01 L1146.87 280.25 L1146.04 280.49 L1145.20 280.73 L1144.36 280.97 L1143.52 281.21 L1142.68 281.44 L1141.85 281.68 L1141.01 281.92 L1140.17 282.16 L1139.33 282.39 L1138.50 282.63 L1137.66 282.86 L1136.82 283.10 L1135.98 283.34 L1135.14 283.57 L1134.31 283.81 L1133.47 284.04 L1132.63 284.28 L1131.79 284.51 L1130.95 284.74 L1130.12 284.98 L1129.28 285.21 L1128.44 285.44 L1127.60 285.68 L1126.76 285.91 L1125.93 286.14 L1125.09 286.37 L1124.25 286.61 L1123.41 286.84 L1122.57 287.07 L1121.74 287.30 L1120.90 287.53 L1120.06 287.76 L1119.22 287.99 L1118.38 288.22 L1117.55 288.45 L1116.71 288.68 L1115.87 288.91 L1115.03 289.14 L1114.20 289.37 L1113.36 289.60 L1112.52 289.82 L1111.68 290.05 L1110.84 290.28 L1110.01 290.51 L1109.17 290.73 L1108.33 290.96 L1107.49 291.19 L1106.65 291.41 L1105.82 291.64 L1104.98 291.86 L1104.14 292.09 L1103.30 292.32 L1102.46 292.54 L1101.63 292.76 L1100.79 292.99 L1099.95 293.21 L1099.11 293.44 L1098.28 293.66 L1097.44 293.88 L1096.60 294.11 L1095.76 294.33 L1094.92 294.55 L1094.09 294.77 L1093.25 295.00 L1092.41 295.22 L1091.57 295.44 L1090.73 295.66 L1089.90 295.88 L1089.06 296.10 L1088.22 296.32 L1087.38 296.54 L1086.54 296.76 L1085.71 296.98 L1084.87 297.20 L1084.03 297.42 L1083.19 297.64 L1082.35 297.86 L1081.52 298.07 L1080.68 298.29 L1079.84 298.51 L1079.00 298.73 L1078.16 298.94 L1077.33 299.16 L1076.49 299.38 L1075.65 299.59 L1074.81 299.81 L1073.98 300.02 L1073.14 300.24 L1072.30 300.45 L1071.46 300.67 L1070.62 300.88 L1069.79 301.10 L1068.95 301.31 L1068.11 301.52 L1067.27 301.74 L1066.43 301.95 L1065.60 302.16 L1064.76 302.38 L1063.92 302.59 L1063.08 302.80 L1062.24 303.01 L1061.41 303.22 L1060.57 303.43 L1059.73 303.64 L1058.89 303.85 L1058.06 304.06 L1057.22 304.27 L1056.38 304.48 L1055.54 304.69 L1054.70 304.90 L1053.87 305.11 L1053.03 305.32 L1052.19 305.53 L1051.35 305.74 L1050.51 305.94 L1049.68 306.15 L1048.84 306.36 L1048.00 306.57 L1047.16 306.77 L1046.32 306.98 L1045.49 307.18 L1044.65 307.39 L1043.81 307.59 L1042.97 307.80 L1042.13 308.00 L1041.30 308.21 L1040.46 308.41 L1039.62 308.62 L1038.78 308.82 L1037.95 309.02 L1037.11 309.23 L1036.27 309.43 L1035.43 309.63 L1034.59 309.83 L1033.76 310.04 L1032.92 310.24 L1032.08 310.44 L1031.24 310.64 L1030.40 310.84 L1029.57 311.04 L1028.73 311.24 L1027.89 311.44 L1027.05 311.64 L1026.21 311.84 L1025.38 312.04 L1024.54 312.24 L1023.70 312.44 L1022.86 312.64 L1022.02 312.83 L1021.19 313.03 L1020.35 313.23 L1019.51 313.42 L1018.67 313.62 L1017.84 313.82 L1017.00 314.01 L1016.16 314.21 L1015.32 314.40 L1014.48 314.60 L1013.65 314.80 L1012.81 314.99 L1011.97 315.18 L1011.13 315.38 L1010.29 315.57 L1009.46 315.77 L1008.62 315.96 L1007.78 316.15 L1006.94 316.34 L1006.10 316.54 L1005.27 316.73 L1004.43 316.92 L1003.59 317.11 L1002.75 317.30 L1001.91 317.49 L1001.08 317.68 L1000.24 317.87 L999.40 318.06 L998.56 318.25 L997.73 318.44 L996.89 318.63 L996.05 318.82 L995.21 319.01 L994.37 319.20 L993.54 319.38 L992.70 319.57 L991.86 319.76 L991.02 319.95 L990.18 320.13 L989.35 320.32 L988.51 320.50 L987.67 320.69 L986.83 320.87 L985.99 321.06 L985.16 321.24 L984.32 321.43 L983.48 321.61 L982.64 321.80 L981.80 321.98 L980.97 322.16 L980.13 322.35 L979.29 322.53 L978.45 322.71 L977.62 322.89 L976.78 323.08 L975.94 323.26 L975.10 323.44 L974.26 323.62 L973.43 323.80 L972.59 323.98 L971.75 324.16 L970.91 324.34 L970.07 324.52 L969.24 324.70 L968.40 324.88 L967.56 325.05 L966.72 325.23 L965.88 325.41 L965.05 325.59 L964.21 325.76 L963.37 325.94 L962.53 326.12 L961.69 326.29 L960.86 326.47 L960.02 326.65 L959.18 326.82 L958.34 327.00 L957.51 327.17 L956.67 327.34 L955.83 327.52 L954.99 327.69 L954.15 327.87 L953.32 328.04 L952.48 328.21 L951.64 328.38 L950.80 328.56 L949.96 328.73 L949.13 328.90 L948.29 329.07 L947.45 329.24 L946.61 329.41 L945.77 329.58 L944.94 329.75 L944.10 329.92 L943.26 330.09 L942.42 330.26 L941.58 330.43 L940.75 330.60 L939.91 330.77 L939.07 330.93 L938.23 331.10 L937.40 331.27 L936.56 331.44 L935.72 331.60 L934.88 331.77 L934.04 331.93 L933.21 332.10 L932.37 332.27 L931.53 332.43 L930.69 332.60 L929.85 332.76 L929.02 332.92 L928.18 333.09 L927.34 333.25 L926.50 333.41 L925.66 333.58 L924.83 333.74 L923.99 333.90 L923.15 334.06 L922.31 334.22 L921.47 334.39 L920.64 334.55 L919.80 334.71 L918.96 334.87 L918.12 335.03 L917.29 335.19 L916.45 335.35 L915.61 335.50 L914.77 335.66 L913.93 335.82 L913.10 335.98 L912.26 336.14 L911.42 336.29 L910.58 336.45 L909.74 336.61 L908.91 336.76 L908.07 336.92 L907.23 337.08 L906.39 337.23 L905.55 337.39 L904.72 337.54 L903.88 337.70 L903.04 337.85 L902.20 338.00 L901.36 338.16 L900.53 338.31 L899.69 338.46 L898.85 338.62 L898.01 338.77 L897.18 338.92 L896.34 339.07 L895.50 339.22 L894.66 339.37 L893.82 339.52 L892.99 339.67 L892.15 339.82 L891.31 339.97 L890.47 340.12 L889.63 340.27 L888.80 340.42 L887.96 340.57 L887.12 340.72 L886.28 340.86 L885.44 341.01 L884.61 341.16 L883.77 341.30 L882.93 341.45 L882.09 341.60 L881.25 341.74 L880.42 341.89 L879.58 342.03 L878.74 342.18 L877.90 342.32 L877.07 342.46 L876.23 342.61 L875.39 342.75 L874.55 342.89 L873.71 343.04 L872.88 343.18 L872.04 343.32 L871.20 343.46 L870.36 343.60 L869.52 343.75 L868.69 343.89 L867.85 344.03 L867.01 344.17 L866.17 344.31 L865.33 344.44 L864.50 344.58 L863.66 344.72 L862.82 344.86 L861.98 345.00 L861.14 345.14 L860.31 345.27 L859.47 345.41 L858.63 345.55 L857.79 345.68 L856.96 345.82 L856.12 345.96 L855.28 346.09 L854.44 346.23 L853.60 346.36 L852.77 346.49 L851.93 346.63 L851.09 346.76 L850.25 346.89 L849.41 347.03 L848.58 347.16 L847.74 347.29 L846.90 347.42 L846.06 347.56 L845.22 347.69 L844.39 347.82 L843.55 347.95 L842.71 348.08 L841.87 348.21 L841.03 348.34 L840.20 348.47 L839.36 348.60 L838.52 348.72 L837.68 348.85 L836.85 348.98 L836.01 349.11 L835.17 349.24 L834.33 349.36 L833.49 349.49 L832.66 349.61 L831.82 349.74 L830.98 349.87 L830.14 349.99 L829.30 350.12 L828.47 350.24 L827.63 350.36 L826.79 350.49 L825.95 350.61 L825.11 350.73 L824.28 350.86 L823.44 350.98 L822.60 351.10 L821.76 351.22 L820.92 351.34 L820.09 351.47 L819.25 351.59 L818.41 351.71 L817.57 351.83 L816.73 351.95 L815.90 352.06 L815.06 352.18 L814.22 352.30 L813.38 352.42 L812.55 352.54 L811.71 352.66 L810.87 352.77 L810.03 352.89 L809.19 353.01 L808.36 353.12 L807.52 353.24 L806.68 353.35 L805.84 353.47 L805.00 353.58 L804.17 353.70 L803.33 353.81 L802.49 353.93 L801.65 354.04 L800.81 354.15 L799.98 354.26 L799.14 354.38 L798.30 354.49 L797.46 354.60 L796.62 354.71 L795.79 354.82 L794.95 354.93 L794.11 355.04 L793.27 355.15 L792.44 355.26 L791.60 355.37 L790.76 355.48 L789.92 355.59 L789.08 355.70 L788.25 355.80 L787.41 355.91 L786.57 356.02 L785.73 356.12 L784.89 356.23 L784.06 356.34 L783.22 356.44 L782.38 356.55 L781.54 356.65 L780.70 356.76 L779.87 356.86 L779.03 356.96 L778.19 357.07 L777.35 357.17 L776.51 357.27 L775.68 357.38 L774.84 357.48 L774.00 357.58 L773.16 357.68 L772.33 357.78 L771.49 357.88 L770.65 357.98 L769.81 358.08 L768.97 358.18 L768.14 358.28 L767.30 358.38 L766.46 358.48 L765.62 358.58 L764.78 358.67 L763.95 358.77 L763.11 358.87 L762.27 358.96 L761.43 359.06 L760.59 359.16 L759.76 359.25 L758.92 359.35 L758.08 359.44 L757.24 359.54 L756.40 359.63 L755.57 359.72 L754.73 359.82 L753.89 359.91 L753.05 360.00 L752.22 360.10 L751.38 360.19 L750.54 360.28 L749.70 360.37 L748.86 360.46 L748.03 360.55 L747.19 360.64 L746.35 360.73 L745.51 360.82 L744.67 360.91 L743.84 361.00 L743.00 361.09 L742.16 361.17 L741.32 361.26 L740.48 361.35 L739.65 361.43 L738.81 361.52 L737.97 361.61 L737.13 361.69 L736.29 361.78 L735.46 361.86 L734.62 361.95 L733.78 362.03 L732.94 362.12 L732.11 362.20 L731.27 362.28 L730.43 362.36 L729.59 362.45 L728.75 362.53 L727.92 362.61 L727.08 362.69 L726.24 362.77 L725.40 362.85 L724.56 362.93 L723.73 363.01 L722.89 363.09 L722.05 363.17 L721.21 363.25 L720.37 363.33 L719.54 363.41 L718.70 363.48 L717.86 363.56 L717.02 363.64 L716.18 363.71 L715.35 363.79 L714.51 363.87 L713.67 363.94 L712.83 364.02 L712.00 364.09 L711.16 364.16 L710.32 364.24 L709.48 364.31 L708.64 364.39 L707.81 364.46 L706.97 364.53 L706.13 364.60 L705.29 364.67 L704.45 364.74 L703.62 364.82 L702.78 364.89 L701.94 364.96 L701.10 365.03 L700.26 365.09 L699.43 365.16 L698.59 365.23 L697.75 365.30 L696.91 365.37 L696.07 365.44 L695.24 365.50 L694.40 365.57 L693.56 365.64 L692.72 365.70 L691.89 365.77 L691.05 365.83 L690.21 365.90 L689.37 365.96 L688.53 366.02 L687.70 366.09 L686.86 366.15 L686.02 366.21 L685.18 366.28 L684.34 366.34 L683.51 366.40 L682.67 366.46 L681.83 366.52 L680.99 366.58 L680.15 366.64 L679.32 366.70 L678.48 366.76 L677.64 366.82 L676.80 366.88 L675.97 366.94 L675.13 367.00 L674.29 367.05 L673.45 367.11 L672.61 367.17 L671.78 367.22 L670.94 367.28 L670.10 367.34 L669.26 367.39 L668.42 367.45 L667.59 367.50 L666.75 367.55 L665.91 367.61 L665.07 367.66 L664.23 367.71 L663.40 367.77 L662.56 367.82 L661.72 367.87 L660.88 367.92 L660.04 367.97 L659.21 368.02 L658.37 368.07 L657.53 368.12 L656.69 368.17 L655.86 368.22 L655.02 368.27 L654.18 368.32 L653.34 368.37 L652.50 368.41 L651.67 368.46 L650.83 368.51 L649.99 368.55 L649.15 368.60 L648.31 368.64 L647.48 368.69 L646.64 368.73 L645.80 368.78 Z" fill="#0000ff" fill-opacity="0.2" stroke="#0000ff" stroke-opacity="0.2" stroke-width="3.8" stroke-linejoin="round"/>
<path d="M645.80 368.78 L646.64 368.73 L647.48 368.69 L648.31 368.64 L649.15 368.60 L649.99 368.55 L650.83 368.51 L651.67 368.46 L652.50 368.41 L653.34 368.37 L654.18 368.32 L655.02 368.27 L655.86 368.22 L656.69 368.17 L657.53 368.12 L658.37 368.07 L659.21 368.02 L660.04 367.97 L660.88 367.92 L661.72 367.87 L662.56 367.82 L663.40 367.77 L664.23 367.71 L665.07 367.66 L665.91 367.61 L666.75 367.55 L667.59 367.50 L668.42 367.45 L669.26 367.39 L670.10 367.34 L670.94 367.28 L671.78 367.22 L672.61 367.17 L673.45 367.11 L674.29 367.05 L675.13 367.00 L675.97 366.94 L676.80 366.88 L677.64 366.82 L678.48 366.76 L679.32 366.70 L680.15 366.64 L680.99 366.58 L681.83 366.52 L682.67 366.46 L683.51 366.40 L684.34 366.34 L685.18 366.28 L686.02 366.21 L686.86 366.15 L687.70 366.09 L688.53 366.02 L689.37 365.96 L690.21 365.90 L691.05 365.83 L691.89 365.77 L692.72 365.70 L693.56 365.64 L694.40 365.57 L695.24 365.50 L696.07 365.44 L696.91 365.37 L697.75 365.30 L698.59 365.23 L699.43 365.16 L700.26 365.09 L701.10 365.03 L701.94 364.96 L702.78 364.89 L703.62 364.82 L704.45 364.74 L705.29 364.67 L706.13 364.60 L706.97 364.53 L707.81 364.46 L708.64 364.39 L709.48 364.31 L710.32 364.24 L711.16 364.16 L712.00 364.09 L712.83 364.02 L713.67 363.94 L714.51 363.87 L715.35 363.79 L716.18 363.71 L717.02 363.64 L717.86 363.56 L718.70 363.48 L719.54 363.41 L720.37 363.33 L721.21 363.25 L722.05 363.17 L722.89 363.09 L723.73 363.01 L724.56 362.93 L725.40 362.85 L726.24 362.77 L727.08 362.69 L727.92 362.61 L728.75 362.53 L729.59 362.45 L730.43 362.36 L731.27 362.28 L732.11 362.20 L732.94 362.12 L733.78 362.03 L734.62 361.95 L735.46 361.86 L736.29 361.78 L737.13 361.69 L737.97 361.61 L738.81 361.52 L739.65 361.43 L740.48 361.35 L741.32 361.26 L742.16 361.17 L743.00 361.09 L743.84 361.00 L744.67 360.91 L745.51 360.82 L746.35 360.73 L747.19 360.64 L748.03 360.55 L748.86 360.46 L749.70 360.37 L750.54 360.28 L751.38 360.19 L752.22 360.10 L753.05 360.00 L753.89 359.91 L754.73 359.82 L755.57 359.72 L756.40 359.63 L757.24 359.54 L758.08 359.44 L758.92 359.35 L759.76 359.25 L760.59 359.16 L761.43 359.06 L762.27 358.96 L763.11 358.87 L763.95 358.77 L764.78 358.67 L765.62 358.58 L766.46 358.48 L767.30 358.38 L768.14 358.28 L768.97 358.18 L769.81 358.08 L770.65 357.98 L771.49 357.88 L772.33 357.78 L773.16 357.68 L774.00 357.58 L774.84 357.48 L775.68 357.38 L776.51 357.27 L777.35 357.17 L778.19 357.07 L779.03 356.96 L779.87 356.86 L780.70 356.76 L781.54 356.65 L782.38 356.55 L783.22 356.44 L784.06 356.34 L784.89 356.23 L785.73 356.12 L786.57 356.02 L787.41 355.91 L788.25 355.80 L789.08 355.70 L789.92 355.59 L790.76 355.48 L791.60 355.37 L792.44 355.26 L793.27 355.15 L794.11 355.04 L794.95 354.93 L795.79 354.82 L796.62 354.71 L797.46 354.60 L798.30 354.49 L799.14 354.38 L799.98 354.26 L800.81 354.15 L801.65 354.04 L802.49 353.93 L803.33 353.81 L804.17 353.70 L805.00 353.58 L805.84 353.47 L806.68 353.35 L807.52 353.24 L808.36 353.12 L809.19 353.01 L810.03 352.89 L810.87 352.77 L811.71 352.66 L812.55 352.54 L813.38 352.42 L814.22 352.30 L815.06 352.18 L815.90 352.06 L816.73 351.95 L817.57 351.83 L818.41 351.71 L819.25 351.59 L820.09 351.47 L820.92 351.34 L821.76 351.22 L822.60 351.10 L823.44 350.98 L824.28 350.86 L825.11 350.73 L825.95 350.61 L826.79 350.49 L827.63 350.36 L828.47 350.24 L829.30 350.12 L830.14 349.99 L830.98 349.87 L831.82 349.74 L832.66 349.61 L833.49 349.49 L834.33 349.36 L835.17 349.24 L836.01 349.11 L836.85 348.98 L837.68 348.85 L838.52 348.72 L839.36 348.60 L840.20 348.47 L841.03 348.34 L841.87 348.21 L842.71 348.08 L843.55 347.95 L844.39 347.82 L845.22 347.69 L846.06 347.56 L846.90 347.42 L847.74 347.29 L848.58 347.16 L849.41 347.03 L850.25 346.89 L851.09 346.76 L851.93 346.63 L852.77 346.49 L853.60 346.36 L854.44 346.23 L855.28 346.09 L856.12 345.95 L856.96 345.82 L857.79 345.68 L858.63 345.55 L859.47 345.41 L860.31 345.27 L861.14 345.14 L861.98 345.00 L862.82 344.86 L863.66 344.72 L864.50 344.58 L865.33 344.44 L866.17 344.30 L867.01 344.17 L867.85 344.03 L868.69 343.88 L869.52 343.74 L870.36 343.60 L871.20 343.46 L872.04 343.32 L872.88 343.18 L873.71 343.03 L874.55 342.89 L875.39 342.75 L876.23 342.61 L877.07 342.46 L877.90 342.32 L878.74 342.17 L879.58 342.03 L880.42 341.88 L881.25 341.74 L882.09 341.59 L882.93 341.44 L883.77 341.30 L884.61 341.15 L885.44 341.00 L886.28 340.85 L887.12 340.70 L887.96 340.55 L888.80 340.41 L889.63 340.26 L890.47 340.11 L891.31 339.95 L892.15 339.80 L892.99 339.65 L893.82 339.50 L894.66 339.35 L895.50 339.19 L896.34 339.04 L897.18 338.88 L898.01 338.73 L898.85 338.57 L899.69 338.42 L900.53 338.26 L901.36 338.10 L902.20 337.94 L903.04 337.78 L903.88 337.62 L904.72 337.46 L905.55 337.30 L906.39 337.14 L907.23 336.98 L908.07 336.81 L908.91 336.65 L909.74 336.48 L910.58 336.31 L911.42 336.15 L912.26 335.98 L913.10 335.81 L913.93 335.63 L914.77 335.46 L915.61 335.29 L916.45 335.11 L917.29 334.93 L918.12 334.75 L918.96 334.57 L919.80 334.39 L920.64 334.20 L921.47 334.02 L922.31 333.83 L923.15 333.64 L923.99 333.44 L924.83 333.25 L925.66 333.05 L926.50 332.85 L927.34 332.65 L928.18 332.44 L929.02 332.24 L929.85 332.02 L930.69 331.81 L931.53 331.59 L932.37 331.37 L933.21 331.15 L934.04 330.92 L934.88 330.69 L935.72 330.45 L936.56 330.21 L937.40 329.97 L938.23 329.72 L939.07 329.47 L939.91 329.21 L940.75 328.95 L941.58 328.69 L942.42 328.41 L943.26 328.14 L944.10 327.86 L944.94 327.57 L945.77 327.28 L946.61 326.98 L947.45 326.67 L948.29 326.36 L949.13 326.05 L949.96 325.72 L950.80 325.39 L951.64 325.06 L952.48 324.71 L953.32 324.36 L954.15 324.01 L954.99 323.65 L955.83 323.27 L956.67 322.90 L957.51 322.51 L958.34 322.12 L959.18 321.72 L960.02 321.31 L960.86 320.90 L961.69 320.48 L962.53 320.05 L963.37 319.61 L964.21 319.17 L965.05 318.72 L965.88 318.26 L966.72 317.79 L967.56 317.32 L968.40 316.84 L969.24 316.35 L970.07 315.86 L970.91 315.36 L971.75 314.85 L972.59 314.34 L973.43 313.82 L974.26 313.29 L975.10 312.76 L975.94 312.22 L976.78 311.68 L977.62 311.13 L978.45 310.58 L979.29 310.02 L980.13 309.46 L980.97 308.90 L981.80 308.33 L982.64 307.76 L983.48 307.19 L984.32 306.61 L985.16 306.04 L985.99 305.46 L986.83 304.88 L987.67 304.30 L988.51 303.72 L989.35 303.15 L990.18 302.57 L991.02 302.00 L991.86 301.42 L992.70 300.85 L993.54 300.29 L994.37 299.73 L995.21 299.17 L996.05 298.62 L996.89 298.07 L997.73 297.53 L998.56 296.99 L999.40 296.47 L1000.24 295.95 L1001.08 295.44 L1001.91 294.93 L1002.75 294.44 L1003.59 293.96 L1004.43 293.49 L1005.27 293.02 L1006.10 292.57 L1006.94 292.13 L1007.78 291.71 L1008.62 291.29 L1009.46 290.89 L1010.29 290.50 L1011.13 290.12 L1011.97 289.76 L1012.81 289.41 L1013.65 289.08 L1014.48 288.76 L1015.32 288.46 L1016.16 288.17 L1017.00 287.90 L1017.84 287.64 L1018.67 287.40 L1019.51 287.17 L1020.35 286.96 L1021.19 286.77 L1022.02 286.59 L1022.86 286.43 L1023.70 286.28 L1024.54 286.15 L1025.38 286.03 L1026.21 285.93 L1027.05 285.84 L1027.89 285.77 L1028.73 285.71 L1029.57 285.67 L1030.40 285.64 L1031.24 285.63 L1032.08 285.62 L1032.92 285.64 L1033.76 285.66 L1034.59 285.70 L1035.43 285.75 L1036.27 285.81 L1037.11 285.88 L1037.95 285.96 L1038.78 286.05 L1039.62 286.15 L1040.46 286.26 L1041.30 286.38 L1042.13 286.51 L1042.97 286.64 L1043.81 286.79 L1044.65 286.94 L1045.49 287.09 L1046.32 287.25 L1047.16 287.41 L1048.00 287.58 L1048.84 287.76 L1049.68 287.93 L1050.51 288.11 L1051.35 288.29 L1052.19 288.47 L1053.03 288.66 L1053.87 288.84 L1054.70 289.03 L1055.54 289.21 L1056.38 289.39 L1057.22 289.58 L1058.06 289.76 L1058.89 289.93 L1059.73 290.11 L1060.57 290.28 L1061.41 290.45 L1062.24 290.62 L1063.08 290.78 L1063.92 290.93 L1064.76 291.09 L1065.60 291.23 L1066.43 291.38 L1067.27 291.51 L1068.11 291.64 L1068.95 291.77 L1069.79 291.89 L1070.62 292.00 L1071.46 292.10 L1072.30 292.20 L1073.14 292.29 L1073.98 292.38 L1074.81 292.46 L1075.65 292.53 L1076.49 292.59 L1077.33 292.64 L1078.16 292.69 L1079.00 292.73 L1079.84 292.77 L1080.68 292.79 L1081.52 292.81 L1082.35 292.82 L1083.19 292.83 L1084.03 292.82 L1084.87 292.81 L1085.71 292.80 L1086.54 292.77 L1087.38 292.74 L1088.22 292.70 L1089.06 292.65 L1089.90 292.60 L1090.73 292.54 L1091.57 292.48 L1092.41 292.41 L1093.25 292.33 L1094.09 292.24 L1094.92 292.15 L1095.76 292.06 L1096.60 291.96 L1097.44 291.85 L1098.28 291.74 L1099.11 291.62 L1099.95 291.50 L1100.79 291.37 L1101.63 291.24 L1102.46 291.10 L1103.30 290.96 L1104.14 290.81 L1104.98 290.66 L1105.82 290.51 L1106.65 290.35 L1107.49 290.19 L1108.33 290.03 L1109.17 289.86 L1110.01 289.68 L1110.84 289.51 L1111.68 289.33 L1112.52 289.15 L1113.36 288.97 L1114.20 288.78 L1115.03 288.59 L1115.87 288.40 L1116.71 288.20 L1117.55 288.00 L1118.38 287.81 L1119.22 287.60 L1120.06 287.40 L1120.90 287.20 L1121.74 286.99 L1122.57 286.78 L1123.41 286.57 L1124.25 286.36 L1125.09 286.14 L1125.93 285.93 L1126.76 285.71 L1127.60 285.49 L1128.44 285.27 L1129.28 285.05 L1130.12 284.83 L1130.95 284.61 L1131.79 284.39 L1132.63 284.16 L1133.47 283.94 L1134.31 283.71 L1135.14 283.48 L1135.98 283.25 L1136.82 283.02 L1137.66 282.80 L1138.50 282.56 L1139.33 282.33 L1140.17 282.10 L1141.01 281.87 L1141.85 281.64 L1142.68 281.40 L1143.52 281.17 L1144.36 280.93 L1145.20 280.70 L1146.04 280.46 L1146.87 280.23 L1147.71 279.99 L1148.55 279.75 L1148.55 279.77 L1147.71 280.01 L1146.87 280.25 L1146.04 280.49 L1145.20 280.73 L1144.36 280.97 L1143.52 281.21 L1142.68 281.44 L1141.85 281.68 L1141.01 281.92 L1140.17 282.16 L1139.33 282.39 L1138.50 282.63 L1137.66 282.86 L1136.82 283.10 L1135.98 283.34 L1135.14 283.57 L1134.31 283.81 L1133.47 284.04 L1132.63 284.28 L1131.79 284.51 L1130.95 284.74 L1130.12 284.98 L1129.28 285.21 L1128.44 285.44 L1127.60 285.68 L1126.76 285.91 L1125.93 286.14 L1125.09 286.37 L1124.25 286.61 L1123.41 286.84 L1122.57 287.07 L1121.74 287.30 L1120.90 287.53 L1120.06 287.76 L1119.22 287.99 L1118.38 288.22 L1117.55 288.45 L1116.71 288.68 L1115.87 288.91 L1115.03 289.14 L1114.20 289.37 L1113.36 289.60 L1112.52 289.82 L1111.68 290.05 L1110.84 290.28 L1110.01 290.51 L1109.17 290.73 L1108.33 290.96 L1107.49 291.19 L1106.65 291.41 L1105.82 291.64 L1104.98 291.86 L1104.14 292.09 L1103.30 292.32 L1102.46 292.54 L1101.63 292.76 L1100.79 292.99 L1099.95 293.21 L1099.11 293.44 L1098.28 293.66 L1097.44 293.88 L1096.60 294.11 L1095.76 294.33 L1094.92 294.55 L1094.09 294.77 L1093.25 295.00 L1092.41 295.22 L1091.57 295.44 L1090.73 295.66 L1089.90 295.88 L1089.06 296.10 L1088.22 296.32 L1087.38 296.54 L1086.54 296.76 L1085.71 296.98 L1084.87 297.20 L1084.03 297.42 L1083.19 297.64 L1082.35 297.86 L1081.52 298.07 L1080.68 298.29 L1079.84 298.51 L1079.00 298.73 L1078.16 298.94 L1077.33 299.16 L1076.49 299.38 L1075.65 299.59 L1074.81 299.81 L1073.98 300.02 L1073.14 300.24 L1072.30 300.45 L1071.46 300.67 L1070.62 300.88 L1069.79 301.10 L1068.95 301.31 L1068.11 301.52 L1067.27 301.74 L1066.43 301.95 L1065.60 302.16 L1064.76 302.38 L1063.92 302.59 L1063.08 302.80 L1062.24 303.01 L1061.41 303.22 L1060.57 303.43 L1059.73 303.64 L1058.89 303.85 L1058.06 304.06 L1057.22 304.27 L1056.38 304.48 L1055.54 304.69 L1054.70 304.90 L1053.87 305.11 L1053.03 305.32 L1052.19 305.53 L1051.35 305.74 L1050.51 305.94 L1049.68 306.15 L1048.84 306.36 L1048.00 306.57 L1047.16 306.77 L1046.32 306.98 L1045.49 307.18 L1044.65 307.39 L1043.81 307.59 L1042.97 307.80 L1042.13 308.00 L1041.30 308.21 L1040.46 308.41 L1039.62 308.62 L1038.78 308.82 L1037.95 309.02 L1037.11 309.23 L1036.27 309.43 L1035.43 309.63 L1034.59 309.83 L1033.76 310.04 L1032.92 310.24 L1032.08 310.44 L1031.24 310.64 L1030.40 310.84 L1029.57 311.04 L1028.73 311.24 L1027.89 311.44 L1027.05 311.64 L1026.21 311.84 L1025.38 312.04 L1024.54 312.24 L1023.70 312.44 L1022.86 312.64 L1022.02 312.83 L1021.19 313.03 L1020.35 313.23 L1019.51 313.42 L1018.67 313.62 L1017.84 313.82 L1017.00 314.01 L1016.16 314.21 L1015.32 314.40 L1014.48 314.60 L1013.65 314.80 L1012.81 314.99 L1011.97 315.18 L1011.13 315.38 L1010.29 315.57 L1009.46 315.77 L1008.62 315.96 L1007.78 316.15 L1006.94 316.34 L1006.10 316.54 L1005.27 316.73 L1004.43 316.92 L1003.59 317.11 L1002.75 317.30 L1001.91 317.49 L1001.08 317.68 L1000.24 317.87 L999.40 318.06 L998.56 318.25 L997.73 318.44 L996.89 318.63 L996.05 318.82 L995.21 319.01 L994.37 319.20 L993.54 319.38 L992.70 319.57 L991.86 319.76 L991.02 319.95 L990.18 320.13 L989.35 320.32 L988.51 320.50 L987.67 320.69 L986.83 320.87 L985.99 321.06 L985.16 321.24 L984.32 321.43 L983.48 321.61 L982.64 321.80 L981.80 321.98 L980.97 322.16 L980.13 322.35 L979.29 322.53 L978.45 322.71 L977.62 322.89 L976.78 323.08 L975.94 323.26 L975.10 323.44 L974.26 323.62 L973.43 323.80 L972.59 323.98 L971.75 324.16 L970.91 324.34 L970.07 324.52 L969.24 324.70 L968.40 324.88 L967.56 325.05 L966.72 325.23 L965.88 325.41 L965.05 325.59 L964.21 325.76 L963.37 325.94 L962.53 326.12 L961.69 326.29 L960.86 326.47 L960.02 326.65 L959.18 326.82 L958.34 327.00 L957.51 327.17 L956.67 327.34 L955.83 327.52 L954.99 327.69 L954.15 327.87 L953.32 328.04 L952.48 328.21 L951.64 328.38 L950.80 328.56 L949.96 328.73 L949.13 328.90 L948.29 329.07 L947.45 329.24 L946.61 329.41 L945.77 329.58 L944.94 329.75 L944.10 329.92 L943.26 330.09 L942.42 330.26 L941.58 330.43 L940.75 330.60 L939.91 330.77 L939.07 330.93 L938.23 331.10 L937.40 331.27 L936.56 331.44 L935.72 331.60 L934.88 331.77 L934.04 331.93 L933.21 332.10 L932.37 332.27 L931.53 332.43 L930.69 332.60 L929.85 332.76 L929.02 332.92 L928.18 333.09 L927.34 333.25 L926.50 333.41 L925.66 333.58 L924.83 333.74 L923.99 333.90 L923.15 334.06 L922.31 334.22 L921.47 334.39 L920.64 334.55 L919.80 334.71 L918.96 334.87 L918.12 335.03 L917.29 335.19 L916.45 335.35 L915.61 335.50 L914.77 335.66 L913.93 335.82 L913.10 335.98 L912.26 336.14 L911.42 336.29 L910.58 336.45 L909.74 336.61 L908.91 336.76 L908.07 336.92 L907.23 337.08 L906.39 337.23 L905.55 337.39 L904.72 337.54 L903.88 337.70 L903.04 337.85 L902.20 338.00 L901.36 338.16 L900.53 338.31 L899.69 338.46 L898.85 338.62 L898.01 338.77 L897.18 338.92 L896.34 339.07 L895.50 339.22 L894.66 339.37 L893.82 339.52 L892.99 339.67 L892.15 339.82 L891.31 339.97 L890.47 340.12 L889.63 340.27 L888.80 340.42 L887.96 340.57 L887.12 340.72 L886.28 340.86 L885.44 341.01 L884.61 341.16 L883.77 341.30 L882.93 341.45 L882.09 341.60 L881.25 341.74 L880.42 341.89 L879.58 342.03 L878.74 342.18 L877.90 342.32 L877.07 342.46 L876.23 342.61 L875.39 342.75 L874.55 342.89 L873.71 343.04 L872.88 343.18 L872.04 343.32 L871.20 343.46 L870.36 343.60 L869.52 343.75 L868.69 343.89 L867.85 344.03 L867.01 344.17 L866.17 344.31 L865.33 344.44 L864.50 344.58 L863.66 344.72 L862.82 344.86 L861.98 345.00 L861.14 345.14 L860.31 345.27 L859.47 345.41 L858.63 345.55 L857.79 345.68 L856.96 345.82 L856.12 345.96 L855.28 346.09 L854.44 346.23 L853.60 346.36 L852.77 346.49 L851.93 346.63 L851.09 346.76 L850.25 346.89 L849.41 347.03 L848.58 347.16 L847.74 347.29 L846.90 347.42 L846.06 347.56 L845.22 347.69 L844.39 347.82 L843.55 347.95 L842.71 348.08 L841.87 348.21 L841.03 348.34 L840.20 348.47 L839.36 348.60 L838.52 348.72 L837.68 348.85 L836.85 348.98 L836.01 349.11 L835.17 349.24 L834.33 349.36 L833.49 349.49 L832.66 349.61 L831.82 349.74 L830.98 349.87 L830.14 349.99 L829.30 350.12 L828.47 350.24 L827.63 350.36 L826.79 350.49 L825.95 350.61 L825.11 350.73 L824.28 350.86 L823.44 350.98 L822.60 351.10 L821.76 351.22 L820.92 351.34 L820.09 351.47 L819.25 351.59 L818.41 351.71 L817.57 351.83 L816.73 351.95 L815.90 352.06 L815.06 352.18 L814.22 352.30 L813.38 352.42 L812.55 352.54 L811.71 352.66 L810.87 352.77 L810.03 352.89 L809.19 353.01 L808.36 353.12 L807.52 353.24 L806.68 353.35 L805.84 353.47 L805.00 353.58 L804.17 353.70 L803.33 353.81 L802.49 353.93 L801.65 354.04 L800.81 354.15 L799.98 354.26 L799.14 354.38 L798.30 354.49 L797.46 354.60 L796.62 354.71 L795.79 354.82 L794.95 354.93 L794.11 355.04 L793.27 355.15 L792.44 355.26 L791.60 355.37 L790.76 355.48 L789.92 355.59 L789.08 355.70 L788.25 355.80 L787.41 355.91 L786.57 356.02 L785.73 356.12 L784.89 356.23 L784.06 356.34 L783.22 356.44 L782.38 356.55 L781.54 356.65 L780.70 356.76 L779.87 356.86 L779.03 356.96 L778.19 357.07 L777.35 357.17 L776.51 357.27 L775.68 357.38 L774.84 357.48 L774.00 357.58 L773.16 357.68 L772.33 357.78 L771.49 357.88 L770.65 357.98 L769.81 358.08 L768.97 358.18 L768.14 358.28 L767.30 358.38 L766.46 358.48 L765.62 358.58 L764.78 358.67 L763.95 358.77 L763.11 358.87 L762.27 358.96 L761.43 359.06 L760.59 359.16 L759.76 359.25 L758.92 359.35 L758.08 359.44 L757.24 359.54 L756.40 359.63 L755.57 359.72 L754.73 359.82 L753.89 359.91 L753.05 360.00 L752.22 360.10 L751.38 360.19 L750.54 360.28 L749.70 360.37 L748.86 360.46 L748.03 360.55 L747.19 360.64 L746.35 360.73 L745.51 360.82 L744.67 360.91 L743.84 361.00 L743.00 361.09 L742.16 361.17 L741.32 361.26 L740.48 361.35 L739.65 361.43 L738.81 361.52 L737.97 361.61 L737.13 361.69 L736.29 361.78 L735.46 361.86 L734.62 361.95 L733.78 362.03 L732.94 362.12 L732.11 362.20 L731.27 362.28 L730.43 362.36 L729.59 362.45 L728.75 362.53 L727.92 362.61 L727.08 362.69 L726.24 362.77 L725.40 362.85 L724.56 362.93 L723.73 363.01 L722.89 363.09 L722.05 363.17 L721.21 363.25 L720.37 363.33 L719.54 363.41 L718.70 363.48 L717.86 363.56 L717.02 363.64 L716.18 363.71 L715.35 363.79 L714.51 363.87 L713.67 363.94 L712.83 364.02 L712.00 364.09 L711.16 364.16 L710.32 364.24 L709.48 364.31 L708.64 364.39 L707.81 364.46 L706.97 364.53 L706.13 364.60 L705.29 364.67 L704.45 364.74 L703.62 364.82 L702.78 364.89 L701.94 364.96 L701.10 365.03 L700.26 365.09 L699.43 365.16 L698.59 365.23 L697.75 365.30 L696.91 365.37 L696.07 365.44 L695.24 365.50 L694.40 365.57 L693.56 365.64 L692.72 365.70 L691.89 365.77 L691.05 365.83 L690.21 365.90 L689.37 365.96 L688.53 366.02 L687.70 366.09 L686.86 366.15 L686.02 366.21 L685.18 366.28 L684.34 366.34 L683.51 366.40 L682.67 366.46 L681.83 366.52 L680.99 366.58 L680.15 366.64 L679.32 366.70 L678.48 366.76 L677.64 366.82 L676.80 366.88 L675.97 366.94 L675.13 367.00 L674.29 367.05 L673.45 367.11 L672.61 367.17 L671.78 367.22 L670.94 367.28 L670.10 367.34 L669.26 367.39 L668.42 367.45 L667.59 367.50 L666.75 367.55 L665.91 367.61 L665.07 367.66 L664.23 367.71 L663.40 367.77 L662.56 367.82 L661.72 367.87 L660.88 367.92 L660.04 367.97 L659.21 368.02 L658.37 368.07 L657.53 368.12 L656.69 368.17 L655.86 368.22 L655.02 368.27 L654.18 368.32 L653.34 368.37 L652.50 368.41 L651.67 368.46 L650.83 368.51 L649.99 368.55 L649.15 368.60 L648.31 368.64 L647.48 368.69 L646.64 368.73 L645.80 368.78 Z" fill="#0000ff" fill-opacity="0.2" stroke="#0000ff" stroke-opacity="0.2" stroke-width="3.8" stroke-linejoin="round"/>
<path d="M645.80 368.78 L646.64 368.73 L647.48 368.69 L648.31 368.64 L649.15 368.60 L649.99 368.55 L650.83 368.51 L651.67 368.46 L652.50 368.41 L653.34 368.37 L654.18 368.32 L655.02 368.27 L655.86 368.22 L656.69 368.17 L657.53 368.12 L658.37 368.07 L659.21 368.02 L660.04 367.97 L660.88 367.92 L661.72 367.87 L662.56 367.82 L663.40 367.77 L664.23 367.71 L665.07 367.66 L665.91 367.61 L666.75 367.55 L667.59 367.50 L668.42 367.45 L669.26 367.39 L670.10 367.34 L670.94 367.28 L671.78 367.22 L672.61 367.17 L673.45 367.11 L674.29 367.05 L675.13 367.00 L675.97 366.94 L676.80 366.88 L677.64 366.82 L678.48 366.76 L679.32 366.70 L680.15 366.64 L680.99 366.58 L681.83 366.52 L682.67 366.46 L683.51 366.40 L684.34 366.34 L685.18 366.28 L686.02 366.21 L686.86 366.15 L687.70 366.09 L688.53 366.02 L689.37 365.96 L690.21 365.90 L691.05 365.83 L691.89 365.77 L692.72 365.70 L693.56 365.64 L694.40 365.57 L695.24 365.50 L696.07 365.44 L696.91 365.37 L697.75 365.30 L698.59 365.23 L699.43 365.16 L700.26 365.09 L701.10 365.02 L701.94 364.95 L702.78 364.88 L703.62 364.81 L704.45 364.74 L705.29 364.67 L706.13 364.60 L706.97 364.53 L707.81 364.45 L708.64 364.38 L709.48 364.30 L710.32 364.23 L711.16 364.16 L712.00 364.08 L712.83 364.00 L713.67 363.93 L714.51 363.85 L715.35 363.77 L716.18 363.69 L717.02 363.61 L717.86 363.53 L718.70 363.45 L719.54 363.37 L720.37 363.28 L721.21 363.20 L722.05 363.12 L722.89 363.03 L723.73 362.94 L724.56 362.85 L725.40 362.76 L726.24 362.67 L727.08 362.57 L727.92 362.48 L728.75 362.38 L729.59 362.28 L730.43 362.18 L731.27 362.08 L732.11 361.97 L732.94 361.86 L733.78 361.75 L734.62 361.63 L735.46 361.51 L736.29 361.39 L737.13 361.27 L737.97 361.14 L738.81 361.00 L739.65 360.86 L740.48 360.72 L741.32 360.58 L742.16 360.42 L743.00 360.27 L743.84 360.10 L744.67 359.93 L745.51 359.76 L746.35 359.58 L747.19 359.39 L748.03 359.20 L748.86 359.00 L749.70 358.79 L750.54 358.58 L751.38 358.36 L752.22 358.13 L753.05 357.90 L753.89 357.66 L754.73 357.41 L755.57 357.15 L756.40 356.89 L757.24 356.62 L758.08 356.34 L758.92 356.05 L759.76 355.76 L760.59 355.47 L761.43 355.16 L762.27 354.85 L763.11 354.54 L763.95 354.22 L764.78 353.90 L765.62 353.57 L766.46 353.24 L767.30 352.91 L768.14 352.57 L768.97 352.23 L769.81 351.90 L770.65 351.56 L771.49 351.22 L772.33 350.89 L773.16 350.55 L774.00 350.22 L774.84 349.90 L775.68 349.57 L776.51 349.26 L777.35 348.95 L778.19 348.65 L779.03 348.35 L779.87 348.07 L780.70 347.79 L781.54 347.53 L782.38 347.28 L783.22 347.03 L784.06 346.80 L784.89 346.59 L785.73 346.38 L786.57 346.19 L787.41 346.02 L788.25 345.86 L789.08 345.71 L789.92 345.58 L790.76 345.46 L791.60 345.36 L792.44 345.27 L793.27 345.20 L794.11 345.14 L794.95 345.10 L795.79 345.07 L796.62 345.05 L797.46 345.05 L798.30 345.06 L799.14 345.08 L799.98 345.12 L800.81 345.16 L801.65 345.21 L802.49 345.28 L803.33 345.35 L804.17 345.43 L805.00 345.52 L805.84 345.61 L806.68 345.71 L807.52 345.81 L808.36 345.92 L809.19 346.03 L810.03 346.14 L810.87 346.25 L811.71 346.36 L812.55 346.47 L813.38 346.58 L814.22 346.69 L815.06 346.79 L815.90 346.89 L816.73 346.98 L817.57 347.07 L818.41 347.16 L819.25 347.23 L820.09 347.30 L820.92 347.37 L821.76 347.42 L822.60 347.47 L823.44 347.51 L824.28 347.54 L825.11 347.56 L825.95 347.57 L826.79 347.57 L827.63 347.57 L828.47 347.55 L829.30 347.52 L830.14 347.48 L830.98 347.43 L831.82 347.37 L832.66 347.30 L833.49 347.22 L834.33 347.13 L835.17 347.02 L836.01 346.91 L836.85 346.79 L837.68 346.65 L838.52 346.51 L839.36 346.35 L840.20 346.18 L841.03 346.01 L841.87 345.82 L842.71 345.62 L843.55 345.41 L844.39 345.19 L845.22 344.95 L846.06 344.71 L846.90 344.46 L847.74 344.19 L848.58 343.92 L849.41 343.63 L850.25 343.34 L851.09 343.03 L851.93 342.71 L852.77 342.38 L853.60 342.04 L854.44 341.69 L855.28 341.32 L856.12 340.95 L856.96 340.56 L857.79 340.17 L858.63 339.76 L859.47 339.34 L860.31 338.91 L861.14 338.47 L861.98 338.01 L862.82 337.55 L863.66 337.08 L864.50 336.59 L865.33 336.09 L866.17 335.59 L867.01 335.07 L867.85 334.54 L868.69 334.01 L869.52 333.46 L870.36 332.90 L871.20 332.34 L872.04 331.76 L872.88 331.18 L873.71 330.59 L874.55 329.99 L875.39 329.38 L876.23 328.77 L877.07 328.15 L877.90 327.53 L878.74 326.90 L879.58 326.26 L880.42 325.63 L881.25 324.98 L882.09 324.34 L882.93 323.69 L883.77 323.04 L884.61 322.40 L885.44 321.75 L886.28 321.10 L887.12 320.45 L887.96 319.81 L888.80 319.17 L889.63 318.53 L890.47 317.90 L891.31 317.28 L892.15 316.66 L892.99 316.05 L893.82 315.44 L894.66 314.85 L895.50 314.27 L896.34 313.69 L897.18 313.13 L898.01 312.58 L898.85 312.05 L899.69 311.52 L900.53 311.02 L901.36 310.52 L902.20 310.05 L903.04 309.59 L903.88 309.15 L904.72 308.72 L905.55 308.31 L906.39 307.93 L907.23 307.56 L908.07 307.21 L908.91 306.88 L909.74 306.57 L910.58 306.28 L911.42 306.02 L912.26 305.77 L913.10 305.55 L913.93 305.34 L914.77 305.16 L915.61 305.00 L916.45 304.86 L917.29 304.74 L918.12 304.64 L918.96 304.56 L919.80 304.51 L920.64 304.47 L921.47 304.45 L922.31 304.45 L923.15 304.47 L923.99 304.50 L924.83 304.56 L925.66 304.63 L926.50 304.71 L927.34 304.82 L928.18 304.93 L929.02 305.06 L929.85 305.20 L930.69 305.36 L931.53 305.52 L932.37 305.70 L933.21 305.89 L934.04 306.08 L934.88 306.28 L935.72 306.49 L936.56 306.70 L937.40 306.92 L938.23 307.14 L939.07 307.36 L939.91 307.59 L940.75 307.81 L941.58 308.04 L942.42 308.26 L943.26 308.48 L944.10 308.70 L944.94 308.92 L945.77 309.12 L946.61 309.33 L947.45 309.52 L948.29 309.71 L949.13 309.89 L949.96 310.06 L950.80 310.22 L951.64 310.37 L952.48 310.50 L953.32 310.63 L954.15 310.74 L954.99 310.84 L955.83 310.92 L956.67 311.00 L957.51 311.05 L958.34 311.09 L959.18 311.11 L960.02 311.12 L960.86 311.11 L961.69 311.09 L962.53 311.05 L963.37 310.99 L964.21 310.91 L965.05 310.82 L965.88 310.71 L966.72 310.58 L967.56 310.44 L968.40 310.28 L969.24 310.10 L970.07 309.90 L970.91 309.69 L971.75 309.46 L972.59 309.21 L973.43 308.95 L974.26 308.68 L975.10 308.38 L975.94 308.08 L976.78 307.75 L977.62 307.42 L978.45 307.07 L979.29 306.71 L980.13 306.33 L980.97 305.95 L981.80 305.55 L982.64 305.14 L983.48 304.72 L984.32 304.30 L985.16 303.86 L985.99 303.41 L986.83 302.96 L987.67 302.50 L988.51 302.04 L989.35 301.57 L990.18 301.09 L991.02 300.62 L991.86 300.14 L992.70 299.65 L993.54 299.17 L994.37 298.68 L995.21 298.20 L996.05 297.71 L996.89 297.23 L997.73 296.75 L998.56 296.27 L999.40 295.79 L1000.24 295.32 L1001.08 294.86 L1001.91 294.40 L1002.75 293.95 L1003.59 293.50 L1004.43 293.06 L1005.27 292.63 L1006.10 292.21 L1006.94 291.80 L1007.78 291.40 L1008.62 291.01 L1009.46 290.63 L1010.29 290.26 L1011.13 289.90 L1011.97 289.56 L1012.81 289.23 L1013.65 288.91 L1014.48 288.61 L1015.32 288.32 L1016.16 288.04 L1017.00 287.78 L1017.84 287.53 L1018.67 287.30 L1019.51 287.08 L1020.35 286.88 L1021.19 286.69 L1022.02 286.52 L1022.86 286.36 L1023.70 286.22 L1024.54 286.10 L1025.38 285.98 L1026.21 285.89 L1027.05 285.80 L1027.89 285.73 L1028.73 285.68 L1029.57 285.64 L1030.40 285.62 L1031.24 285.60 L1032.08 285.60 L1032.92 285.62 L1033.76 285.64 L1034.59 285.68 L1035.43 285.73 L1036.27 285.79 L1037.11 285.87 L1037.95 285.95 L1038.78 286.04 L1039.62 286.14 L1040.46 286.26 L1041.30 286.38 L1042.13 286.50 L1042.97 286.64 L1043.81 286.78 L1044.65 286.93 L1045.49 287.09 L1046.32 287.25 L1047.16 287.41 L1048.00 287.58 L1048.84 287.75 L1049.68 287.93 L1050.51 288.11 L1051.35 288.29 L1052.19 288.47 L1053.03 288.66 L1053.87 288.84 L1054.70 289.03 L1055.54 289.21 L1056.38 289.39 L1057.22 289.57 L1058.06 289.76 L1058.89 289.93 L1059.73 290.11 L1060.57 290.28 L1061.41 290.45 L1062.24 290.62 L1063.08 290.78 L1063.92 290.93 L1064.76 291.09 L1065.60 291.23 L1066.43 291.38 L1067.27 291.51 L1068.11 291.64 L1068.95 291.77 L1069.79 291.89 L1070.62 292.00 L1071.46 292.10 L1072.30 292.20 L1073.14 292.29 L1073.98 292.38 L1074.81 292.46 L1075.65 292.53 L1076.49 292.59 L1077.33 292.64 L1078.16 292.69 L1079.00 292.73 L1079.84 292.77 L1080.68 292.79 L1081.52 292.81 L1082.35 292.82 L1083.19 292.83 L1084.03 292.82 L1084.87 292.81 L1085.71 292.80 L1086.54 292.77 L1087.38 292.74 L1088.22 292.70 L1089.06 292.65 L1089.90 292.60 L1090.73 292.54 L1091.57 292.48 L1092.41 292.41 L1093.25 292.33 L1094.09 292.24 L1094.92 292.15 L1095.76 292.06 L1096.60 291.96 L1097.44 291.85 L1098.28 291.74 L1099.11 291.62 L1099.95 291.50 L1100.79 291.37 L1101.63 291.24 L1102.46 291.10 L1103.30 290.96 L1104.14 290.81 L1104.98 290.66 L1105.82 290.51 L1106.65 290.35 L1107.49 290.19 L1108.33 290.03 L1109.17 289.86 L1110.01 289.68 L1110.84 289.51 L1111.68 289.33 L1112.52 289.15 L1113.36 288.97 L1114.20 288.78 L1115.03 288.59 L1115.87 288.40 L1116.71 288.20 L1117.55 288.00 L1118.38 287.81 L1119.22 287.60 L1120.06 287.40 L1120.90 287.20 L1121.74 286.99 L1122.57 286.78 L1123.41 286.57 L1124.25 286.36 L1125.09 286.14 L1125.93 285.93 L1126.76 285.71 L1127.60 285.49 L1128.44 285.27 L1129.28 285.05 L1130.12 284.83 L1130.95 284.61 L1131.79 284.39 L1132.63 284.16 L1133.47 283.94 L1134.31 283.71 L1135.14 283.48 L1135.98 283.25 L1136.82 283.02 L1137.66 282.80 L1138.50 282.56 L1139.33 282.33 L1140.17 282.10 L1141.01 281.87 L1141.85 281.64 L1142.68 281.40 L1143.52 281.17 L1144.36 280.93 L1145.20 280.70 L1146.04 280.46 L1146.87 280.23 L1147.71 279.99 L1148.55 279.75" fill="none" stroke="#0000ff" stroke-width="5.70" stroke-linejoin="round" stroke-linecap="square"/>
<path d="M645.80 368.78 L646.64 368.73 L647.48 368.69 L648.31 368.64 L649.15 368.60 L649.99 368.55 L650.83 368.51 L651.67 368.46 L652.50 368.41 L653.34 368.37 L654.18 368.32 L655.02 368.27 L655.86 368.22 L656.69 368.17 L657.53 368.12 L658.37 368.07 L659.21 368.02 L660.04 367.97 L660.88 367.92 L661.72 367.87 L662.56 367.82 L663.40 367.77 L664.23 367.71 L665.07 367.66 L665.91 367.61 L666.75 367.55 L667.59 367.50 L668.42 367.45 L669.26 367.39 L670.10 367.34 L670.94 367.28 L671.78 367.22 L672.61 367.17 L673.45 367.11 L674.29 367.05 L675.13 367.00 L675.97 366.94 L676.80 366.88 L677.64 366.82 L678.48 366.76 L679.32 366.70 L680.15 366.64 L680.99 366.58 L681.83 366.52 L682.67 366.46 L683.51 366.40 L684.34 366.34 L685.18 366.28 L686.02 366.21 L686.86 366.15 L687.70 366.09 L688.53 366.02 L689.37 365.96 L690.21 365.90 L691.05 365.83 L691.89 365.77 L692.72 365.70 L693.56 365.64 L694.40 365.57 L695.24 365.50 L696.07 365.44 L696.91 365.37 L697.75 365.30 L698.59 365.23 L699.43 365.16 L700.26 365.09 L701.10 365.03 L701.94 364.96 L702.78 364.89 L703.62 364.82 L704.45 364.74 L705.29 364.67 L706.13 364.60 L706.97 364.53 L707.81 364.46 L708.64 364.39 L709.48 364.31 L710.32 364.24 L711.16 364.16 L712.00 364.09 L712.83 364.02 L713.67 363.94 L714.51 363.87 L715.35 363.79 L716.18 363.71 L717.02 363.64 L717.86 363.56 L718.70 363.48 L719.54 363.41 L720.37 363.33 L721.21 363.25 L722.05 363.17 L722.89 363.09 L723.73 363.01 L724.56 362.93 L725.40 362.85 L726.24 362.77 L727.08 362.69 L727.92 362.61 L728.75 362.53 L729.59 362.45 L730.43 362.36 L731.27 362.28 L732.11 362.20 L732.94 362.12 L733.78 362.03 L734.62 361.95 L735.46 361.86 L736.29 361.78 L737.13 361.69 L737.97 361.61 L738.81 361.52 L739.65 361.43 L740.48 361.35 L741.32 361.26 L742.16 361.17 L743.00 361.09 L743.84 361.00 L744.67 360.91 L745.51 360.82 L746.35 360.73 L747.19 360.64 L748.03 360.55 L748.86 360.46 L749.70 360.37 L750.54 360.28 L751.38 360.19 L752.22 360.10 L753.05 360.00 L753.89 359.91 L754.73 359.82 L755.57 359.72 L756.40 359.63 L757.24 359.54 L758.08 359.44 L758.92 359.35 L759.76 359.25 L760.59 359.16 L761.43 359.06 L762.27 358.96 L763.11 358.87 L763.95 358.77 L764.78 358.67 L765.62 358.58 L766.46 358.48 L767.30 358.38 L768.14 358.28 L768.97 358.18 L769.81 358.08 L770.65 357.98 L771.49 357.88 L772.33 357.78 L773.16 357.68 L774.00 357.58 L774.84 357.48 L775.68 357.38 L776.51 357.27 L777.35 357.17 L778.19 357.07 L779.03 356.96 L779.87 356.86 L780.70 356.76 L781.54 356.65 L782.38 356.55 L783.22 356.44 L784.06 356.34 L784.89 356.23 L785.73 356.12 L786.57 356.02 L787.41 355.91 L788.25 355.80 L789.08 355.70 L789.92 355.59 L790.76 355.48 L791.60 355.37 L792.44 355.26 L793.27 355.15 L794.11 355.04 L794.95 354.93 L795.79 354.82 L796.62 354.71 L797.46 354.60 L798.30 354.49 L799.14 354.38 L799.98 354.26 L800.81 354.15 L801.65 354.04 L802.49 353.93 L803.33 353.81 L804.17 353.70 L805.00 353.58 L805.84 353.47 L806.68 353.35 L807.52 353.24 L808.36 353.12 L809.19 353.01 L810.03 352.89 L810.87 352.77 L811.71 352.66 L812.55 352.54 L813.38 352.42 L814.22 352.30 L815.06 352.18 L815.90 352.06 L816.73 351.95 L817.57 351.83 L818.41 351.71 L819.25 351.59 L820.09 351.47 L820.92 351.34 L821.76 351.22 L822.60 351.10 L823.44 350.98 L824.28 350.86 L825.11 350.73 L825.95 350.61 L826.79 350.49 L827.63 350.36 L828.47 350.24 L829.30 350.12 L830.14 349.99 L830.98 349.87 L831.82 349.74 L832.66 349.61 L833.49 349.49 L834.33 349.36 L835.17 349.24 L836.01 349.11 L836.85 348.98 L837.68 348.85 L838.52 348.72 L839.36 348.60 L840.20 348.47 L841.03 348.34 L841.87 348.21 L842.71 348.08 L843.55 347.95 L844.39 347.82 L845.22 347.69 L846.06 347.56 L846.90 347.42 L847.74 347.29 L848.58 347.16 L849.41 347.03 L850.25 346.89 L851.09 346.76 L851.93 346.63 L852.77 346.49 L853.60 346.36 L854.44 346.23 L855.28 346.09 L856.12 345.96 L856.96 345.82 L857.79 345.68 L858.63 345.55 L859.47 345.41 L860.31 345.27 L861.14 345.14 L861.98 345.00 L862.82 344.86 L863.66 344.72 L864.50 344.58 L865.33 344.44 L866.17 344.31 L867.01 344.17 L867.85 344.03 L868.69 343.89 L869.52 343.75 L870.36 343.60 L871.20 343.46 L872.04 343.32 L872.88 343.18 L873.71 343.04 L874.55 342.89 L875.39 342.75 L876.23 342.61 L877.07 342.46 L877.90 342.32 L878.74 342.18 L879.58 342.03 L880.42 341.89 L881.25 341.74 L882.09 341.60 L882.93 341.45 L883.77 341.30 L884.61 341.16 L885.44 341.01 L886.28 340.86 L887.12 340.72 L887.96 340.57 L888.80 340.42 L889.63 340.27 L890.47 340.12 L891.31 339.97 L892.15 339.82 L892.99 339.67 L893.82 339.52 L894.66 339.37 L895.50 339.22 L896.34 339.07 L897.18 338.92 L898.01 338.77 L898.85 338.62 L899.69 338.46 L900.53 338.31 L901.36 338.16 L902.20 338.00 L903.04 337.85 L903.88 337.70 L904.72 337.54 L905.55 337.39 L906.39 337.23 L907.23 337.08 L908.07 336.92 L908.91 336.76 L909.74 336.61 L910.58 336.45 L911.42 336.29 L912.26 336.14 L913.10 335.98 L913.93 335.82 L914.77 335.66 L915.61 335.50 L916.45 335.35 L917.29 335.19 L918.12 335.03 L918.96 334.87 L919.80 334.71 L920.64 334.55 L921.47 334.39 L922.31 334.22 L923.15 334.06 L923.99 333.90 L924.83 333.74 L925.66 333.58 L926.50 333.41 L927.34 333.25 L928.18 333.09 L929.02 332.92 L929.85 332.76 L930.69 332.60 L931.53 332.43 L932.37 332.27 L933.21 332.10 L934.04 331.93 L934.88 331.77 L935.72 331.60 L936.56 331.44 L937.40 331.27 L938.23 331.10 L939.07 330.93 L939.91 330.77 L940.75 330.60 L941.58 330.43 L942.42 330.26 L943.26 330.09 L944.10 329.92 L944.94 329.75 L945.77 329.58 L946.61 329.41 L947.45 329.24 L948.29 329.07 L949.13 328.90 L949.96 328.73 L950.80 328.56 L951.64 328.38 L952.48 328.21 L953.32 328.04 L954.15 327.87 L954.99 327.69 L955.83 327.52 L956.67 327.34 L957.51 327.17 L958.34 327.00 L959.18 326.82 L960.02 326.65 L960.86 326.47 L961.69 326.29 L962.53 326.12 L963.37 325.94 L964.21 325.76 L965.05 325.59 L965.88 325.41 L966.72 325.23 L967.56 325.05 L968.40 324.88 L969.24 324.70 L970.07 324.52 L970.91 324.34 L971.75 324.16 L972.59 323.98 L973.43 323.80 L974.26 323.62 L975.10 323.44 L975.94 323.26 L976.78 323.08 L977.62 322.89 L978.45 322.71 L979.29 322.53 L980.13 322.35 L980.97 322.16 L981.80 321.98 L982.64 321.80 L983.48 321.61 L984.32 321.43 L985.16 321.24 L985.99 321.06 L986.83 320.87 L987.67 320.69 L988.51 320.50 L989.35 320.32 L990.18 320.13 L991.02 319.95 L991.86 319.76 L992.70 319.57 L993.54 319.38 L994.37 319.20 L995.21 319.01 L996.05 318.82 L996.89 318.63 L997.73 318.44 L998.56 318.25 L999.40 318.06 L1000.24 317.87 L1001.08 317.68 L1001.91 317.49 L1002.75 317.30 L1003.59 317.11 L1004.43 316.92 L1005.27 316.73 L1006.10 316.54 L1006.94 316.34 L1007.78 316.15 L1008.62 315.96 L1009.46 315.77 L1010.29 315.57 L1011.13 315.38 L1011.97 315.18 L1012.81 314.99 L1013.65 314.80 L1014.48 314.60 L1015.32 314.40 L1016.16 314.21 L1017.00 314.01 L1017.84 313.82 L1018.67 313.62 L1019.51 313.42 L1020.35 313.23 L1021.19 313.03 L1022.02 312.83 L1022.86 312.64 L1023.70 312.44 L1024.54 312.24 L1025.38 312.04 L1026.21 311.84 L1027.05 311.64 L1027.89 311.44 L1028.73 311.24 L1029.57 311.04 L1030.40 310.84 L1031.24 310.64 L1032.08 310.44 L1032.92 310.24 L1033.76 310.04 L1034.59 309.83 L1035.43 309.63 L1036.27 309.43 L1037.11 309.23 L1037.95 309.02 L1038.78 308.82 L1039.62 308.62 L1040.46 308.41 L1041.30 308.21 L1042.13 308.00 L1042.97 307.80 L1043.81 307.59 L1044.65 307.39 L1045.49 307.18 L1046.32 306.98 L1047.16 306.77 L1048.00 306.57 L1048.84 306.36 L1049.68 306.15 L1050.51 305.94 L1051.35 305.74 L1052.19 305.53 L1053.03 305.32 L1053.87 305.11 L1054.70 304.90 L1055.54 304.69 L1056.38 304.48 L1057.22 304.27 L1058.06 304.06 L1058.89 303.85 L1059.73 303.64 L1060.57 303.43 L1061.41 303.22 L1062.24 303.01 L1063.08 302.80 L1063.92 302.59 L1064.76 302.38 L1065.60 302.16 L1066.43 301.95 L1067.27 301.74 L1068.11 301.52 L1068.95 301.31 L1069.79 301.10 L1070.62 300.88 L1071.46 300.67 L1072.30 300.45 L1073.14 300.24 L1073.98 300.02 L1074.81 299.81 L1075.65 299.59 L1076.49 299.38 L1077.33 299.16 L1078.16 298.94 L1079.00 298.73 L1079.84 298.51 L1080.68 298.29 L1081.52 298.07 L1082.35 297.86 L1083.19 297.64 L1084.03 297.42 L1084.87 297.20 L1085.71 296.98 L1086.54 296.76 L1087.38 296.54 L1088.22 296.32 L1089.06 296.10 L1089.90 295.88 L1090.73 295.66 L1091.57 295.44 L1092.41 295.22 L1093.25 295.00 L1094.09 294.77 L1094.92 294.55 L1095.76 294.33 L1096.60 294.11 L1097.44 293.88 L1098.28 293.66 L1099.11 293.44 L1099.95 293.21 L1100.79 292.99 L1101.63 292.76 L1102.46 292.54 L1103.30 292.32 L1104.14 292.09 L1104.98 291.86 L1105.82 291.64 L1106.65 291.41 L1107.49 291.19 L1108.33 290.96 L1109.17 290.73 L1110.01 290.51 L1110.84 290.28 L1111.68 290.05 L1112.52 289.82 L1113.36 289.60 L1114.20 289.37 L1115.03 289.14 L1115.87 288.91 L1116.71 288.68 L1117.55 288.45 L1118.38 288.22 L1119.22 287.99 L1120.06 287.76 L1120.90 287.53 L1121.74 287.30 L1122.57 287.07 L1123.41 286.84 L1124.25 286.61 L1125.09 286.37 L1125.93 286.14 L1126.76 285.91 L1127.60 285.68 L1128.44 285.44 L1129.28 285.21 L1130.12 284.98 L1130.95 284.74 L1131.79 284.51 L1132.63 284.28 L1133.47 284.04 L1134.31 283.81 L1135.14 283.57 L1135.98 283.34 L1136.82 283.10 L1137.66 282.86 L1138.50 282.63 L1139.33 282.39 L1140.17 282.16 L1141.01 281.92 L1141.85 281.68 L1142.68 281.44 L1143.52 281.21 L1144.36 280.97 L1145.20 280.73 L1146.04 280.49 L1146.87 280.25 L1147.71 280.01 L1148.55 279.77" fill="none" stroke="#0000ff" stroke-width="5.70" stroke-dasharray="21.09 9.12" stroke-dashoffset="-8.8"/>
<path d="M792.44 402.40 L792.44 5.36" stroke="#000" stroke-opacity="0.3" stroke-width="5.70" stroke-dasharray="36.6 9.15 5.72 9.15" fill="none"/>
<path d="M918.12 402.40 L918.12 5.36" stroke="#000" stroke-opacity="0.3" stroke-width="5.70" stroke-dasharray="36.6 9.15 5.72 9.15" fill="none"/>
<path d="M1022.86 402.40 L1022.86 5.36" stroke="#000" stroke-opacity="0.3" stroke-width="5.70" stroke-dasharray="36.6 9.15 5.72 9.15" fill="none"/>
<path d="M640.66 369.21 L646.34 368.79 M655.66 368.11 L661.34 367.69 M670.76 367.06 L676.44 366.54 M685.35 365.35 L691.05 365.05 M700.45 365.33 L706.15 365.07 M715.27 364.12 L720.93 363.48 M730.40 362.34 L736.00 361.26 M745.03 358.77 L750.57 357.43 M759.56 355.60 L765.04 354.00 M773.78 350.55 L779.22 348.85 M788.28 346.23 L793.92 345.37 M802.95 345.09 L808.65 345.31 M818.26 346.77 L823.94 347.23 M832.86 347.88 L838.54 347.32 M848.32 344.98 L853.68 343.02 M861.41 338.69 L866.39 335.91 M874.21 331.26 L878.99 328.14 M886.68 322.55 L891.32 319.25 M899.09 313.52 L903.91 310.48 M911.22 305.81 L916.78 304.59 M926.07 305.70 L931.73 306.30 M940.98 307.98 L946.62 308.82 M955.85 310.38 L961.55 310.42 M971.32 309.24 L976.88 307.96 M985.39 304.73 L990.61 302.47 M998.78 298.13 L1003.82 295.47 M1011.95 290.54 L1017.25 288.46 M1026.36 286.15 L1032.04 285.65 M1041.07 286.60 L1046.73 287.20 M1056.01 288.42 L1061.59 289.58 M1070.71 292.44 L1076.29 293.56 M1084.95 294.92 L1090.65 294.68 M1100.40 292.34 L1106.00 291.26 M1115.03 289.66 L1120.57 288.34 M1129.62 285.88 L1134.98 283.92 M1142.98 279.92 L1148.22 277.68 M1157.36 274.06 L1162.64 271.94" fill="none" stroke="#000" stroke-width="5.70"/>
</g>
<g clip-path="url(#c2)">
<path d="M1146.00 338.50 L1146.29 338.44 L1146.65 338.37 L1147.08 338.29 L1147.58 338.19 L1148.13 338.07 L1148.73 337.92 L1149.39 337.73 L1150.10 337.50 L1150.88 337.22 L1151.75 336.90 L1152.69 336.54 L1153.68 336.15 L1154.70 335.74 L1155.72 335.30 L1156.73 334.85 L1157.70 334.40 L1158.64 333.91 L1159.57 333.36 L1160.49 332.77 L1161.42 332.18 L1162.35 331.60 L1163.31 331.06 L1164.29 330.59 L1165.30 330.20 L1166.37 329.91 L1167.49 329.71 L1168.65 329.57 L1169.83 329.46 L1170.99 329.38 L1172.12 329.29 L1173.20 329.17 L1174.20 329.00 L1175.11 328.79 L1175.95 328.56 L1176.73 328.32 L1177.48 328.06 L1178.22 327.80 L1178.97 327.53 L1179.76 327.27 L1180.60 327.00 L1181.47 326.72 L1182.35 326.42 L1183.25 326.11 L1184.16 325.81 L1185.11 325.51 L1186.09 325.24 L1187.12 325.00 L1188.20 324.80 L1189.35 324.66 L1190.57 324.58 L1191.83 324.54 L1193.14 324.52 L1194.46 324.50 L1195.79 324.47 L1197.11 324.41 L1198.40 324.30 L1199.69 324.15 L1201.01 323.96 L1202.34 323.76 L1203.66 323.54 L1204.97 323.30 L1206.23 323.07 L1207.45 322.83 L1208.60 322.60 L1209.66 322.38 L1210.62 322.17 L1211.53 321.96 L1212.40 321.74 L1213.27 321.52 L1214.18 321.27 L1215.14 321.00 L1216.20 320.70 L1217.35 320.35 L1218.57 319.96 L1219.83 319.54 L1221.14 319.10 L1222.46 318.66 L1223.79 318.24 L1225.11 317.85 L1226.40 317.50 L1227.69 317.20 L1229.01 316.94 L1230.34 316.71 L1231.66 316.49 L1232.97 316.28 L1234.23 316.07 L1235.45 315.85 L1236.60 315.60 L1237.67 315.34 L1238.65 315.08 L1239.58 314.82 L1240.48 314.54 L1241.37 314.26 L1242.27 313.96 L1243.21 313.64 L1244.20 313.30 L1245.25 312.92 L1246.33 312.49 L1247.44 312.03 L1248.57 311.56 L1249.71 311.10 L1250.84 310.66 L1251.98 310.25 L1253.10 309.90 L1254.20 309.61 L1255.29 309.38 L1256.38 309.19 L1257.47 309.01 L1258.57 308.84 L1259.68 308.66 L1260.83 308.45 L1262.00 308.20 L1263.23 307.89 L1264.51 307.54 L1265.84 307.17 L1267.17 306.78 L1268.49 306.40 L1269.79 306.03 L1271.03 305.69 L1272.20 305.40 L1273.25 305.18 L1274.18 305.02 L1275.04 304.90 L1275.88 304.80 L1276.75 304.68 L1277.69 304.53 L1278.76 304.31 L1280.00 304.00 L1281.43 303.60 L1283.01 303.13 L1284.71 302.60 L1286.48 302.03 L1288.30 301.43 L1290.14 300.82 L1291.95 300.20 L1293.70 299.60 L1295.41 298.99 L1297.12 298.34 L1298.84 297.68 L1300.55 297.01 L1302.26 296.35 L1303.98 295.70 L1305.69 295.08 L1307.40 294.50 L1309.09 293.96 L1310.76 293.46 L1312.42 292.98 L1314.08 292.52 L1315.76 292.08 L1317.49 291.63 L1319.26 291.17 L1321.10 290.70 L1323.04 290.22 L1325.07 289.75 L1327.17 289.28 L1329.30 288.80 L1331.43 288.32 L1333.53 287.83 L1335.56 287.32 L1337.50 286.80 L1339.36 286.25 L1341.18 285.67 L1342.95 285.07 L1344.69 284.47 L1346.38 283.87 L1348.03 283.28 L1349.64 282.72 L1351.20 282.20 L1352.71 281.71 L1354.17 281.25 L1355.58 280.82 L1356.96 280.39 L1358.30 279.99 L1359.61 279.59 L1360.91 279.19 L1362.20 278.80 L1363.46 278.40 L1364.67 278.00 L1365.85 277.61 L1367.01 277.23 L1368.17 276.86 L1369.34 276.51 L1370.55 276.19 L1371.80 275.90 L1373.07 275.68 L1374.34 275.52 L1375.61 275.41 L1376.91 275.31 L1378.25 275.19 L1379.65 275.04 L1381.13 274.82 L1382.70 274.50 L1384.41 274.09 L1386.25 273.60 L1388.18 273.06 L1390.17 272.47 L1392.17 271.85 L1394.13 271.20 L1396.02 270.55 L1397.80 269.90 L1399.50 269.21 L1401.18 268.46 L1402.82 267.68 L1404.42 266.88 L1405.95 266.11 L1407.40 265.38 L1408.75 264.74 L1410.00 264.20 L1411.09 263.77 L1412.01 263.42 L1412.82 263.14 L1413.56 262.92 L1414.28 262.74 L1415.03 262.58 L1415.85 262.44 L1416.80 262.30 L1417.86 262.20 L1418.97 262.17 L1420.13 262.19 L1421.34 262.21 L1422.57 262.23 L1423.84 262.20 L1425.11 262.10 L1426.40 261.90 L1427.69 261.61 L1428.99 261.27 L1430.30 260.87 L1431.64 260.43 L1433.02 259.93 L1434.43 259.39 L1435.89 258.81 L1437.40 258.20 L1439.00 257.52 L1440.70 256.75 L1442.46 255.91 L1444.25 255.05 L1446.04 254.18 L1447.80 253.33 L1449.50 252.53 L1451.10 251.80 L1452.60 251.13 L1454.01 250.50 L1455.37 249.90 L1456.69 249.33 L1458.00 248.78 L1459.32 248.26 L1460.68 247.77 L1462.10 247.30 L1463.58 246.88 L1465.08 246.52 L1466.62 246.20 L1468.17 245.90 L1469.73 245.60 L1471.29 245.28 L1472.85 244.92 L1474.40 244.50 L1475.93 244.02 L1477.44 243.49 L1478.95 242.92 L1480.46 242.33 L1481.98 241.73 L1483.53 241.14 L1485.10 240.55 L1486.70 240.00 L1488.35 239.47 L1490.03 238.96 L1491.73 238.46 L1493.46 237.96 L1495.20 237.46 L1496.94 236.96 L1498.68 236.44 L1500.40 235.90 L1502.10 235.33 L1503.79 234.71 L1505.48 234.08 L1507.16 233.44 L1508.86 232.82 L1510.58 232.23 L1512.32 231.68 L1514.10 231.20 L1515.95 230.80 L1517.87 230.48 L1519.84 230.21 L1521.82 229.96 L1523.78 229.72 L1525.69 229.47 L1527.50 229.17 L1529.20 228.80 L1530.76 228.37 L1532.20 227.90 L1533.56 227.39 L1534.87 226.86 L1536.15 226.32 L1537.42 225.77 L1538.73 225.23 L1540.10 224.70 L1541.52 224.18 L1542.95 223.66 L1544.39 223.15 L1545.84 222.62 L1547.30 222.10 L1548.77 221.57 L1550.24 221.04 L1551.70 220.50 L1553.18 219.94 L1554.69 219.34 L1556.22 218.74 L1557.74 218.13 L1559.24 217.54 L1560.71 216.98 L1562.14 216.46 L1563.50 216.00 L1564.77 215.61 L1565.96 215.27 L1567.10 214.98 L1568.21 214.72 L1569.31 214.47 L1570.44 214.23 L1571.63 213.98 L1572.90 213.70 L1574.28 213.40 L1575.75 213.10 L1577.27 212.79 L1578.83 212.48 L1580.37 212.18 L1581.87 211.87 L1583.29 211.58 L1584.60 211.30 L1585.79 211.05 L1586.90 210.84 L1587.93 210.64 L1588.92 210.44 L1589.88 210.23 L1590.83 209.98 L1591.80 209.68 L1592.80 209.30 L1593.84 208.83 L1594.90 208.27 L1595.98 207.65 L1597.04 206.99 L1598.09 206.33 L1599.11 205.70 L1600.09 205.11 L1601.00 204.60 L1601.82 204.16 L1602.55 203.76 L1603.23 203.39 L1603.88 203.06 L1604.53 202.74 L1605.23 202.45 L1606.01 202.17 L1606.90 201.90 L1607.89 201.67 L1608.95 201.48 L1610.07 201.33 L1611.24 201.19 L1612.45 201.04 L1613.71 200.86 L1614.99 200.62 L1616.30 200.30 L1617.66 199.88 L1619.09 199.36 L1620.57 198.78 L1622.07 198.18 L1623.59 197.57 L1625.10 197.00 L1626.57 196.50 L1628.00 196.10 L1629.41 195.81 L1630.84 195.61 L1632.26 195.47 L1633.66 195.36 L1635.02 195.28 L1636.31 195.19 L1637.51 195.07 L1638.60 194.90 L1639.57 194.70 L1640.42 194.51 L1641.18 194.30 L1641.88 194.08 L1642.54 193.84 L1643.18 193.57 L1643.82 193.26 L1644.50 192.90 L1645.19 192.49 L1645.85 192.03 L1646.49 191.53 L1647.13 190.99 L1647.77 190.44 L1648.43 189.89 L1649.10 189.34 L1649.80 188.80 L1650.57 188.24 L1651.43 187.64 L1652.33 187.01 L1653.23 186.39 L1654.09 185.81 L1654.86 185.28 L1655.52 184.83 L1656.00 184.50" fill="none" stroke="#000" stroke-width="5.70" stroke-linejoin="round"/>
</g>
<rect x="360.30" y="20.60" width="270.00" height="135.90" rx="6.1" ry="6.1" fill="#fff" stroke="#cccccc" stroke-width="3.04"/>
<path d="M372.46 43.80 L433.26 43.80" stroke="#ff0000" stroke-width="5.70" stroke-linecap="square"/>
<text x="456.78" y="55.00" font-size="30.2" font-family="Liberation Sans, Arial, Helvetica, sans-serif">Fit</text>
<path d="M372.46 85.90 L433.26 85.90" stroke="#ff0000" stroke-width="5.70" stroke-dasharray="21.09 9.12"/>
<text x="456.78" y="96.20" font-size="30.2" font-family="Liberation Sans, Arial, Helvetica, sans-serif">Background</text>
<path d="M372.46 128.90 L433.26 128.90" stroke="#000" stroke-width="5.70" stroke-dasharray="5.7 9.4"/>
<text x="456.78" y="138.90" font-size="30.2" font-family="Liberation Sans, Arial, Helvetica, sans-serif">α-NIF</text>
<rect x="862.80" y="20.60" width="270.50" height="135.90" rx="6.1" ry="6.1" fill="#fff" stroke="#cccccc" stroke-width="3.04"/>
<path d="M874.96 43.80 L935.76 43.80" stroke="#0000ff" stroke-width="5.70" stroke-linecap="square"/>
<text x="959.28" y="55.00" font-size="30.2" font-family="Liberation Sans, Arial, Helvetica, sans-serif">Fit</text>
<path d="M874.96 85.90 L935.76 85.90" stroke="#0000ff" stroke-width="5.70" stroke-dasharray="21.09 9.12"/>
<text x="959.28" y="96.20" font-size="30.2" font-family="Liberation Sans, Arial, Helvetica, sans-serif">Background</text>
<path d="M874.96 128.90 L935.76 128.90" stroke="#000" stroke-width="5.70" stroke-dasharray="5.7 9.4"/>
<text x="959.28" y="138.90" font-size="30.2" font-family="Liberation Sans, Arial, Helvetica, sans-serif">β-NIF</text>
<rect x="1319.30" y="20.40" width="317.20" height="51.70" rx="6.1" ry="6.1" fill="#fff" stroke="#cccccc" stroke-width="3.04"/>
<path d="M1331.46 43.80 L1392.26 43.80" stroke="#000" stroke-width="5.70" stroke-linecap="square"/>
<text x="1415.78" y="54.40" font-size="30.2" font-family="Liberation Sans, Arial, Helvetica, sans-serif">amorphous NIF</text>
<text x="162.70" y="49.2" font-size="45.2" font-weight="bold" font-family="Liberation Sans, Arial, Helvetica, sans-serif">a</text>
<text x="666.20" y="49.2" font-size="45.2" font-weight="bold" font-family="Liberation Sans, Arial, Helvetica, sans-serif">b</text>
<text x="1168.95" y="49.2" font-size="45.2" font-weight="bold" font-family="Liberation Sans, Arial, Helvetica, sans-serif">c</text>
<rect x="142.30" y="5.36" width="503.30" height="397.04" fill="none" stroke="#000" stroke-width="3.04" stroke-linejoin="miter"/>
<path d="M129.00 402.40 L142.30 402.40 M129.00 333.36 L142.30 333.36 M129.00 264.32 L142.30 264.32 M129.00 195.28 L142.30 195.28 M129.00 126.24 L142.30 126.24 M129.00 57.20 L142.30 57.20 M226.18 402.40 L226.18 415.70 M393.95 402.40 L393.95 415.70 M561.72 402.40 L561.72 415.70" stroke="#000" stroke-width="3.04" fill="none"/>
<text x="226.18" y="453.3" font-size="34.2" text-anchor="middle" font-family="Liberation Sans, Arial, Helvetica, sans-serif">0.8</text>
<text x="393.95" y="453.3" font-size="34.2" text-anchor="middle" font-family="Liberation Sans, Arial, Helvetica, sans-serif">1.2</text>
<text x="561.72" y="453.3" font-size="34.2" text-anchor="middle" font-family="Liberation Sans, Arial, Helvetica, sans-serif">1.6</text>
<rect x="645.80" y="5.36" width="502.75" height="397.04" fill="none" stroke="#000" stroke-width="3.04" stroke-linejoin="miter"/>
<path d="M632.50 402.40 L645.80 402.40 M632.50 333.36 L645.80 333.36 M632.50 264.32 L645.80 264.32 M632.50 195.28 L645.80 195.28 M632.50 126.24 L645.80 126.24 M632.50 57.20 L645.80 57.20 M729.59 402.40 L729.59 415.70 M897.17 402.40 L897.17 415.70 M1064.76 402.40 L1064.76 415.70" stroke="#000" stroke-width="3.04" fill="none"/>
<text x="729.59" y="453.3" font-size="34.2" text-anchor="middle" font-family="Liberation Sans, Arial, Helvetica, sans-serif">0.8</text>
<text x="897.17" y="453.3" font-size="34.2" text-anchor="middle" font-family="Liberation Sans, Arial, Helvetica, sans-serif">1.2</text>
<text x="1064.76" y="453.3" font-size="34.2" text-anchor="middle" font-family="Liberation Sans, Arial, Helvetica, sans-serif">1.6</text>
<rect x="1148.55" y="5.36" width="503.05" height="397.04" fill="none" stroke="#000" stroke-width="3.04" stroke-linejoin="miter"/>
<path d="M1135.25 402.40 L1148.55 402.40 M1135.25 333.36 L1148.55 333.36 M1135.25 264.32 L1148.55 264.32 M1135.25 195.28 L1148.55 195.28 M1135.25 126.24 L1148.55 126.24 M1135.25 57.20 L1148.55 57.20 M1232.39 402.40 L1232.39 415.70 M1400.08 402.40 L1400.08 415.70 M1567.76 402.40 L1567.76 415.70" stroke="#000" stroke-width="3.04" fill="none"/>
<text x="1232.39" y="453.3" font-size="34.2" text-anchor="middle" font-family="Liberation Sans, Arial, Helvetica, sans-serif">0.8</text>
<text x="1400.08" y="453.3" font-size="34.2" text-anchor="middle" font-family="Liberation Sans, Arial, Helvetica, sans-serif">1.2</text>
<text x="1567.76" y="453.3" font-size="34.2" text-anchor="middle" font-family="Liberation Sans, Arial, Helvetica, sans-serif">1.6</text>
<text x="115.7" y="414.90" font-size="34.2" text-anchor="end" font-family="Liberation Sans, Arial, Helvetica, sans-serif">0</text>
<text x="115.7" y="345.86" font-size="34.2" text-anchor="end" font-family="Liberation Sans, Arial, Helvetica, sans-serif">20</text>
<text x="115.7" y="276.82" font-size="34.2" text-anchor="end" font-family="Liberation Sans, Arial, Helvetica, sans-serif">40</text>
<text x="115.7" y="207.78" font-size="34.2" text-anchor="end" font-family="Liberation Sans, Arial, Helvetica, sans-serif">60</text>
<text x="115.7" y="138.74" font-size="34.2" text-anchor="end" font-family="Liberation Sans, Arial, Helvetica, sans-serif">80</text>
<text x="115.7" y="69.70" font-size="34.2" text-anchor="end" font-family="Liberation Sans, Arial, Helvetica, sans-serif">100</text>
<text x="897.17" y="503" font-size="38" text-anchor="middle" font-family="Liberation Sans, Arial, Helvetica, sans-serif">Frequency (THz)</text>
<text transform="translate(35.2 409) rotate(-90)" font-size="38" font-family="Liberation Sans, Arial, Helvetica, sans-serif">Absorption coeff. (cm<tspan font-family="DejaVu Sans, sans-serif" font-size="26.6" dy="-16.6">−1</tspan><tspan dy="16.6">)</tspan></text>
</svg>
</body></html>
